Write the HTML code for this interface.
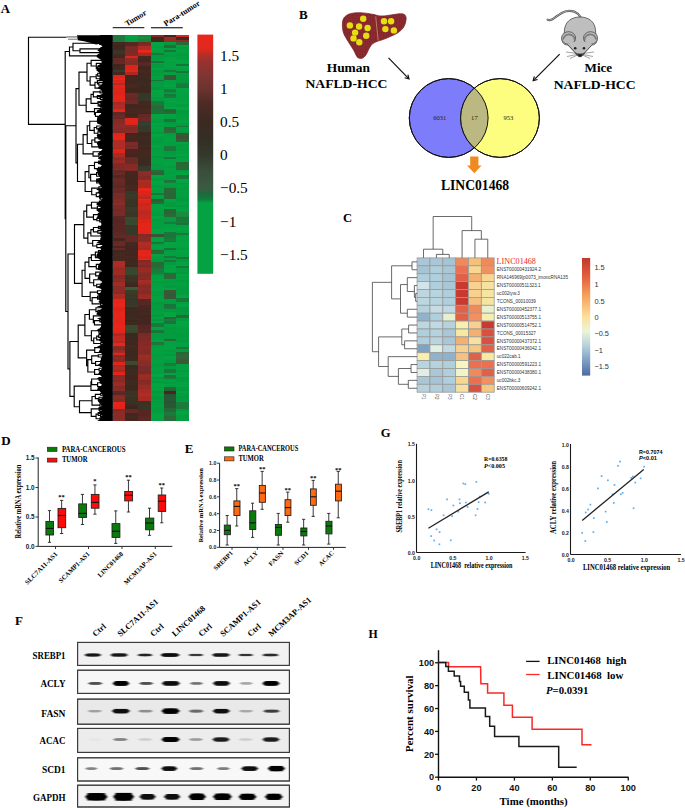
<!DOCTYPE html>
<html><head><meta charset="utf-8"><style>
html,body{margin:0;padding:0;background:#fff;overflow:hidden;width:685px;height:808px;}
svg{display:block;}
</style></head><body>
<svg width="685" height="808" viewBox="0 0 685 808">
<defs>
<filter id="blur1" x="-50%" y="-50%" width="200%" height="200%"><feGaussianBlur stdDeviation="1.3 0.5"/></filter>
<filter id="blur2" x="-50%" y="-50%" width="200%" height="200%"><feGaussianBlur stdDeviation="0.6"/></filter>
<filter id="blur3" x="-50%" y="-50%" width="200%" height="200%"><feGaussianBlur stdDeviation="2.2"/></filter>
<linearGradient id="cbA" x1="0" y1="0" x2="0" y2="1">
<stop offset="0.0000" stop-color="#ea261b"/>
<stop offset="0.0602" stop-color="#e2281d"/>
<stop offset="0.0853" stop-color="#b42e27"/>
<stop offset="0.1145" stop-color="#963230"/>
<stop offset="0.1689" stop-color="#803532"/>
<stop offset="0.2274" stop-color="#6c332f"/>
<stop offset="0.2901" stop-color="#4c2b24"/>
<stop offset="0.3654" stop-color="#3b2a21"/>
<stop offset="0.4406" stop-color="#332f25"/>
<stop offset="0.5033" stop-color="#34392a"/>
<stop offset="0.5744" stop-color="#3a4f3c"/>
<stop offset="0.6413" stop-color="#3b5a41"/>
<stop offset="0.6664" stop-color="#1d6b3b"/>
<stop offset="0.6873" stop-color="#127a3b"/>
<stop offset="0.7040" stop-color="#04a242"/>
<stop offset="1.0000" stop-color="#04a242"/>
</linearGradient>
<linearGradient id="cbC" x1="0" y1="0" x2="0" y2="1">
<stop offset="0" stop-color="#c0392b"/>
<stop offset="0.17" stop-color="#e4643f"/>
<stop offset="0.33" stop-color="#f6a55e"/>
<stop offset="0.5" stop-color="#fbe09a"/>
<stop offset="0.62" stop-color="#eef3d8"/>
<stop offset="0.75" stop-color="#b5d0dc"/>
<stop offset="0.88" stop-color="#7b9cc0"/>
<stop offset="1" stop-color="#4c6aa6"/>
</linearGradient>
</defs>
<rect width="685" height="808" fill="#fff"/>
<text x="0.80" y="12.60" font-family="Liberation Serif" font-size="12.8" fill="#000" font-weight="bold" >A</text>
<g shape-rendering="crispEdges">
<rect x="112.70" y="35.00" width="13.00" height="2.80" fill="#1e7b3f" />
<rect x="112.70" y="37.50" width="13.00" height="3.30" fill="#1d793d" />
<rect x="112.70" y="40.50" width="13.00" height="1.60" fill="#1e7a3e" />
<rect x="112.70" y="41.80" width="13.00" height="1.80" fill="#43271f" />
<rect x="112.70" y="43.30" width="13.00" height="1.80" fill="#452820" />
<rect x="112.70" y="44.80" width="13.00" height="2.30" fill="#41261e" />
<rect x="112.70" y="46.80" width="13.00" height="3.20" fill="#43271f" />
<rect x="112.70" y="49.70" width="13.00" height="2.30" fill="#373728" />
<rect x="112.70" y="51.70" width="13.00" height="2.20" fill="#373728" />
<rect x="112.70" y="53.60" width="13.00" height="1.80" fill="#462820" />
<rect x="112.70" y="55.10" width="13.00" height="1.80" fill="#44271f" />
<rect x="112.70" y="56.60" width="13.00" height="1.30" fill="#41261e" />
<rect x="112.70" y="57.60" width="13.00" height="2.30" fill="#652824" />
<rect x="112.70" y="59.60" width="13.00" height="2.30" fill="#662824" />
<rect x="112.70" y="61.60" width="13.00" height="2.30" fill="#682925" />
<rect x="112.70" y="63.60" width="13.00" height="0.90" fill="#682925" />
<rect x="112.70" y="64.20" width="13.00" height="2.30" fill="#42261e" />
<rect x="112.70" y="66.20" width="13.00" height="2.30" fill="#43271f" />
<rect x="112.70" y="68.20" width="13.00" height="1.80" fill="#44271f" />
<rect x="112.70" y="69.70" width="13.00" height="0.60" fill="#43271f" />
<rect x="112.70" y="70.00" width="13.00" height="2.30" fill="#3a3a2a" />
<rect x="112.70" y="72.00" width="13.00" height="3.00" fill="#44271f" />
<rect x="112.70" y="74.70" width="13.00" height="3.30" fill="#e2251a" />
<rect x="112.70" y="77.70" width="13.00" height="2.30" fill="#e9261b" />
<rect x="112.70" y="79.70" width="13.00" height="2.30" fill="#dd2419" />
<rect x="112.70" y="81.70" width="13.00" height="1.60" fill="#e4251a" />
<rect x="112.70" y="83.00" width="13.00" height="2.30" fill="#b02c24" />
<rect x="112.70" y="85.00" width="13.00" height="2.80" fill="#e6251a" />
<rect x="112.70" y="87.50" width="13.00" height="1.80" fill="#de2419" />
<rect x="112.70" y="89.00" width="13.00" height="3.30" fill="#df2419" />
<rect x="112.70" y="92.00" width="13.00" height="2.80" fill="#de2419" />
<rect x="112.70" y="94.50" width="13.00" height="3.30" fill="#e3251a" />
<rect x="112.70" y="97.50" width="13.00" height="1.80" fill="#e8261b" />
<rect x="112.70" y="99.00" width="13.00" height="2.80" fill="#e1251a" />
<rect x="112.70" y="101.50" width="13.00" height="0.40" fill="#e6251a" />
<rect x="112.70" y="101.60" width="13.00" height="3.30" fill="#a82a22" />
<rect x="112.70" y="104.60" width="13.00" height="1.80" fill="#b22c24" />
<rect x="112.70" y="106.10" width="13.00" height="3.00" fill="#af2b23" />
<rect x="112.70" y="108.80" width="13.00" height="1.80" fill="#dd2419" />
<rect x="112.70" y="110.30" width="13.00" height="1.50" fill="#e6251a" />
<rect x="112.70" y="111.50" width="13.00" height="3.30" fill="#662824" />
<rect x="112.70" y="114.50" width="13.00" height="3.30" fill="#6b2a26" />
<rect x="112.70" y="117.50" width="13.00" height="2.10" fill="#642724" />
<rect x="112.70" y="119.30" width="13.00" height="3.30" fill="#862a26" />
<rect x="112.70" y="122.30" width="13.00" height="1.80" fill="#872b26" />
<rect x="112.70" y="123.80" width="13.00" height="2.30" fill="#8a2c27" />
<rect x="112.70" y="125.80" width="13.00" height="2.30" fill="#8a2c27" />
<rect x="112.70" y="127.80" width="13.00" height="3.30" fill="#862b26" />
<rect x="112.70" y="130.80" width="13.00" height="2.40" fill="#832a25" />
<rect x="112.70" y="132.90" width="13.00" height="3.30" fill="#e2251a" />
<rect x="112.70" y="135.90" width="13.00" height="2.80" fill="#ea261b" />
<rect x="112.70" y="138.40" width="13.00" height="1.40" fill="#ea261b" />
<rect x="112.70" y="139.50" width="13.00" height="2.80" fill="#af2b23" />
<rect x="112.70" y="142.00" width="13.00" height="2.80" fill="#af2b23" />
<rect x="112.70" y="144.50" width="13.00" height="3.30" fill="#b22c24" />
<rect x="112.70" y="147.50" width="13.00" height="1.50" fill="#a82a22" />
<rect x="112.70" y="148.70" width="13.00" height="2.30" fill="#e0241a" />
<rect x="112.70" y="150.70" width="13.00" height="2.20" fill="#dc2419" />
<rect x="112.70" y="152.60" width="13.00" height="2.30" fill="#aa2a22" />
<rect x="112.70" y="154.60" width="13.00" height="1.80" fill="#a82a22" />
<rect x="112.70" y="156.10" width="13.00" height="0.70" fill="#ae2b23" />
<rect x="112.70" y="156.50" width="13.00" height="2.80" fill="#8c2c27" />
<rect x="112.70" y="159.00" width="13.00" height="1.30" fill="#872b26" />
<rect x="112.70" y="160.00" width="13.00" height="3.30" fill="#9c2b25" />
<rect x="112.70" y="163.00" width="13.00" height="3.30" fill="#842a25" />
<rect x="112.70" y="166.00" width="13.00" height="3.30" fill="#832925" />
<rect x="112.70" y="169.00" width="13.00" height="1.00" fill="#8c2c27" />
<rect x="112.70" y="169.70" width="13.00" height="3.30" fill="#652824" />
<rect x="112.70" y="172.70" width="13.00" height="2.60" fill="#692925" />
<rect x="112.70" y="175.00" width="13.00" height="1.80" fill="#552622" />
<rect x="112.70" y="176.50" width="13.00" height="1.80" fill="#582723" />
<rect x="112.70" y="178.00" width="13.00" height="2.80" fill="#692925" />
<rect x="112.70" y="180.50" width="13.00" height="1.80" fill="#6b2a26" />
<rect x="112.70" y="182.00" width="13.00" height="3.30" fill="#652824" />
<rect x="112.70" y="185.00" width="13.00" height="2.80" fill="#5b2824" />
<rect x="112.70" y="187.50" width="13.00" height="0.80" fill="#582723" />
<rect x="112.70" y="188.00" width="13.00" height="1.80" fill="#6a2a26" />
<rect x="112.70" y="189.50" width="13.00" height="3.30" fill="#682925" />
<rect x="112.70" y="192.50" width="13.00" height="1.10" fill="#652824" />
<rect x="112.70" y="193.30" width="13.00" height="1.80" fill="#7a2c28" />
<rect x="112.70" y="194.80" width="13.00" height="2.80" fill="#772b27" />
<rect x="112.70" y="197.30" width="13.00" height="2.30" fill="#782b27" />
<rect x="112.70" y="199.30" width="13.00" height="1.00" fill="#7c2c28" />
<rect x="112.70" y="200.00" width="13.00" height="2.80" fill="#842a25" />
<rect x="112.70" y="202.50" width="13.00" height="1.80" fill="#8a2c27" />
<rect x="112.70" y="204.00" width="13.00" height="1.30" fill="#8c2c27" />
<rect x="112.70" y="205.00" width="13.00" height="1.80" fill="#792b27" />
<rect x="112.70" y="206.50" width="13.00" height="2.80" fill="#782b27" />
<rect x="112.70" y="209.00" width="13.00" height="2.30" fill="#762a26" />
<rect x="112.70" y="211.00" width="13.00" height="2.30" fill="#782b27" />
<rect x="112.70" y="213.00" width="13.00" height="2.80" fill="#792b27" />
<rect x="112.70" y="215.50" width="13.00" height="0.50" fill="#7a2c28" />
<rect x="112.70" y="215.70" width="13.00" height="3.30" fill="#5a2824" />
<rect x="112.70" y="218.70" width="13.00" height="2.30" fill="#562622" />
<rect x="112.70" y="220.70" width="13.00" height="3.30" fill="#572623" />
<rect x="112.70" y="223.70" width="13.00" height="1.80" fill="#5b2824" />
<rect x="112.70" y="225.20" width="13.00" height="2.80" fill="#582723" />
<rect x="112.70" y="227.70" width="13.00" height="2.30" fill="#592723" />
<rect x="112.70" y="229.70" width="13.00" height="2.80" fill="#582723" />
<rect x="112.70" y="232.20" width="13.00" height="2.60" fill="#5b2824" />
<rect x="112.70" y="234.50" width="13.00" height="2.80" fill="#652824" />
<rect x="112.70" y="237.00" width="13.00" height="1.30" fill="#662824" />
<rect x="112.70" y="238.00" width="13.00" height="2.30" fill="#48241f" />
<rect x="112.70" y="240.00" width="13.00" height="1.30" fill="#49251f" />
<rect x="112.70" y="241.00" width="13.00" height="1.80" fill="#682925" />
<rect x="112.70" y="242.50" width="13.00" height="2.80" fill="#6a2a26" />
<rect x="112.70" y="245.00" width="13.00" height="1.30" fill="#6a2a26" />
<rect x="112.70" y="246.00" width="13.00" height="1.80" fill="#4b2620" />
<rect x="112.70" y="247.50" width="13.00" height="0.80" fill="#48251f" />
<rect x="112.70" y="248.00" width="13.00" height="2.30" fill="#672925" />
<rect x="112.70" y="250.00" width="13.00" height="0.50" fill="#652824" />
<rect x="112.70" y="250.20" width="13.00" height="3.30" fill="#43271f" />
<rect x="112.70" y="253.20" width="13.00" height="1.80" fill="#452820" />
<rect x="112.70" y="254.70" width="13.00" height="2.30" fill="#462820" />
<rect x="112.70" y="256.70" width="13.00" height="1.80" fill="#42261e" />
<rect x="112.70" y="258.20" width="13.00" height="2.80" fill="#452820" />
<rect x="112.70" y="260.70" width="13.00" height="2.30" fill="#ae2b23" />
<rect x="112.70" y="262.70" width="13.00" height="3.30" fill="#af2b23" />
<rect x="112.70" y="265.70" width="13.00" height="2.60" fill="#a92a22" />
<rect x="112.70" y="268.00" width="13.00" height="2.30" fill="#982924" />
<rect x="112.70" y="270.00" width="13.00" height="1.80" fill="#9d2b25" />
<rect x="112.70" y="271.50" width="13.00" height="2.30" fill="#9c2b25" />
<rect x="112.70" y="273.50" width="13.00" height="2.00" fill="#a12c26" />
<rect x="112.70" y="275.20" width="13.00" height="2.30" fill="#832925" />
<rect x="112.70" y="277.20" width="13.00" height="2.30" fill="#852a25" />
<rect x="112.70" y="279.20" width="13.00" height="2.30" fill="#8a2c27" />
<rect x="112.70" y="281.20" width="13.00" height="1.10" fill="#852a25" />
<rect x="112.70" y="282.00" width="13.00" height="3.30" fill="#a12c26" />
<rect x="112.70" y="285.00" width="13.00" height="1.30" fill="#a22c26" />
<rect x="112.70" y="286.00" width="13.00" height="2.80" fill="#8b2c27" />
<rect x="112.70" y="288.50" width="13.00" height="3.30" fill="#8b2c27" />
<rect x="112.70" y="291.50" width="13.00" height="2.30" fill="#882b26" />
<rect x="112.70" y="293.50" width="13.00" height="0.40" fill="#8b2c27" />
<rect x="112.70" y="293.60" width="13.00" height="2.30" fill="#ae2b23" />
<rect x="112.70" y="295.60" width="13.00" height="2.30" fill="#a92a22" />
<rect x="112.70" y="297.60" width="13.00" height="1.50" fill="#ae2b23" />
<rect x="112.70" y="298.80" width="13.00" height="1.80" fill="#e5251a" />
<rect x="112.70" y="300.30" width="13.00" height="2.80" fill="#e7251a" />
<rect x="112.70" y="302.80" width="13.00" height="3.30" fill="#e9261b" />
<rect x="112.70" y="305.80" width="13.00" height="1.80" fill="#ea261b" />
<rect x="112.70" y="307.30" width="13.00" height="1.80" fill="#e0241a" />
<rect x="112.70" y="308.80" width="13.00" height="2.80" fill="#dd2419" />
<rect x="112.70" y="311.30" width="13.00" height="1.80" fill="#e4251a" />
<rect x="112.70" y="312.80" width="13.00" height="1.80" fill="#e8261b" />
<rect x="112.70" y="314.30" width="13.00" height="1.80" fill="#e3251a" />
<rect x="112.70" y="315.80" width="13.00" height="2.30" fill="#e7251a" />
<rect x="112.70" y="317.80" width="13.00" height="3.30" fill="#e4251a" />
<rect x="112.70" y="320.80" width="13.00" height="3.30" fill="#e4251a" />
<rect x="112.70" y="323.80" width="13.00" height="2.30" fill="#e7251a" />
<rect x="112.70" y="325.80" width="13.00" height="2.80" fill="#eb261b" />
<rect x="112.70" y="328.30" width="13.00" height="2.30" fill="#ea261b" />
<rect x="112.70" y="330.30" width="13.00" height="2.30" fill="#e3251a" />
<rect x="112.70" y="332.30" width="13.00" height="0.70" fill="#e3251a" />
<rect x="112.70" y="332.70" width="13.00" height="1.80" fill="#af2b23" />
<rect x="112.70" y="334.20" width="13.00" height="2.10" fill="#a82a22" />
<rect x="112.70" y="336.00" width="13.00" height="2.80" fill="#c02a22" />
<rect x="112.70" y="338.50" width="13.00" height="2.30" fill="#c32a22" />
<rect x="112.70" y="340.50" width="13.00" height="2.70" fill="#b82820" />
<rect x="112.70" y="342.90" width="13.00" height="2.30" fill="#ec261b" />
<rect x="112.70" y="344.90" width="13.00" height="1.70" fill="#e8261b" />
<rect x="112.70" y="346.30" width="13.00" height="1.80" fill="#862b26" />
<rect x="112.70" y="347.80" width="13.00" height="2.50" fill="#842a25" />
<rect x="112.70" y="350.00" width="13.00" height="2.30" fill="#992a24" />
<rect x="112.70" y="352.00" width="13.00" height="1.30" fill="#a32c26" />
<rect x="112.70" y="353.00" width="13.00" height="2.30" fill="#e1251a" />
<rect x="112.70" y="355.00" width="13.00" height="2.30" fill="#862a26" />
<rect x="112.70" y="357.00" width="13.00" height="1.80" fill="#8a2c27" />
<rect x="112.70" y="358.50" width="13.00" height="1.80" fill="#862a25" />
<rect x="112.70" y="360.00" width="13.00" height="2.30" fill="#872b26" />
<rect x="112.70" y="362.00" width="13.00" height="1.80" fill="#e2251a" />
<rect x="112.70" y="363.50" width="13.00" height="2.20" fill="#e4251a" />
<rect x="112.70" y="365.40" width="13.00" height="1.80" fill="#a82a22" />
<rect x="112.70" y="366.90" width="13.00" height="2.30" fill="#b32c24" />
<rect x="112.70" y="368.90" width="13.00" height="1.80" fill="#a82a22" />
<rect x="112.70" y="370.40" width="13.00" height="2.10" fill="#a72922" />
<rect x="112.70" y="372.20" width="13.00" height="2.30" fill="#e0241a" />
<rect x="112.70" y="374.20" width="13.00" height="1.00" fill="#e9261b" />
<rect x="112.70" y="374.90" width="13.00" height="2.80" fill="#872b26" />
<rect x="112.70" y="377.40" width="13.00" height="3.30" fill="#892b26" />
<rect x="112.70" y="380.40" width="13.00" height="1.80" fill="#852a25" />
<rect x="112.70" y="381.90" width="13.00" height="0.40" fill="#872b26" />
<rect x="112.70" y="382.00" width="13.00" height="1.80" fill="#9b2a24" />
<rect x="112.70" y="383.50" width="13.00" height="1.80" fill="#9f2b25" />
<rect x="112.70" y="385.00" width="13.00" height="1.30" fill="#982a24" />
<rect x="112.70" y="386.00" width="13.00" height="2.30" fill="#832a25" />
<rect x="112.70" y="388.00" width="13.00" height="1.80" fill="#872b26" />
<rect x="112.70" y="389.50" width="13.00" height="2.10" fill="#8c2c27" />
<rect x="112.70" y="391.30" width="13.00" height="3.30" fill="#5b2824" />
<rect x="112.70" y="394.30" width="13.00" height="1.30" fill="#592723" />
<rect x="112.70" y="395.30" width="13.00" height="1.80" fill="#882b26" />
<rect x="112.70" y="396.80" width="13.00" height="2.30" fill="#8c2c27" />
<rect x="112.70" y="398.80" width="13.00" height="2.30" fill="#852a25" />
<rect x="112.70" y="400.80" width="13.00" height="1.60" fill="#852a25" />
<rect x="112.70" y="402.10" width="13.00" height="2.80" fill="#e6251a" />
<rect x="112.70" y="404.60" width="13.00" height="2.30" fill="#e1241a" />
<rect x="112.70" y="406.60" width="13.00" height="2.30" fill="#e0241a" />
<rect x="112.70" y="408.60" width="13.00" height="0.70" fill="#ec261b" />
<rect x="112.70" y="409.00" width="13.00" height="1.80" fill="#832925" />
<rect x="112.70" y="410.50" width="13.00" height="2.30" fill="#882b26" />
<rect x="112.70" y="412.50" width="13.00" height="2.30" fill="#8c2c27" />
<rect x="112.70" y="414.50" width="13.00" height="1.80" fill="#892b26" />
<rect x="112.70" y="416.00" width="13.00" height="3.30" fill="#892b26" />
<rect x="112.70" y="419.00" width="13.00" height="2.30" fill="#8c2c27" />
<rect x="125.40" y="35.00" width="13.00" height="2.80" fill="#03a141" />
<rect x="125.40" y="37.50" width="13.00" height="2.30" fill="#039d40" />
<rect x="125.40" y="39.50" width="13.00" height="2.30" fill="#039e40" />
<rect x="125.40" y="41.50" width="13.00" height="0.60" fill="#04a543" />
<rect x="125.40" y="41.80" width="13.00" height="2.30" fill="#552622" />
<rect x="125.40" y="43.80" width="13.00" height="2.30" fill="#582723" />
<rect x="125.40" y="45.80" width="13.00" height="1.80" fill="#742a26" />
<rect x="125.40" y="47.30" width="13.00" height="3.30" fill="#7b2c28" />
<rect x="125.40" y="50.30" width="13.00" height="2.30" fill="#792b27" />
<rect x="125.40" y="52.30" width="13.00" height="2.80" fill="#832925" />
<rect x="125.40" y="54.80" width="13.00" height="1.10" fill="#842a25" />
<rect x="125.40" y="55.60" width="13.00" height="2.90" fill="#dc2419" />
<rect x="125.40" y="58.20" width="13.00" height="2.80" fill="#8c2c27" />
<rect x="125.40" y="60.70" width="13.00" height="2.80" fill="#852a25" />
<rect x="125.40" y="63.20" width="13.00" height="1.90" fill="#852a25" />
<rect x="125.40" y="64.80" width="13.00" height="2.30" fill="#dc2419" />
<rect x="125.40" y="66.80" width="13.00" height="3.30" fill="#dd2419" />
<rect x="125.40" y="69.80" width="13.00" height="2.50" fill="#e4251a" />
<rect x="125.40" y="72.00" width="13.00" height="2.30" fill="#aa2a22" />
<rect x="125.40" y="74.00" width="13.00" height="1.60" fill="#a82a22" />
<rect x="125.40" y="75.30" width="13.00" height="1.80" fill="#42261e" />
<rect x="125.40" y="76.80" width="13.00" height="1.80" fill="#43271f" />
<rect x="125.40" y="78.30" width="13.00" height="2.80" fill="#43261f" />
<rect x="125.40" y="80.80" width="13.00" height="2.30" fill="#41261e" />
<rect x="125.40" y="82.80" width="13.00" height="2.30" fill="#44271f" />
<rect x="125.40" y="84.80" width="13.00" height="3.30" fill="#452820" />
<rect x="125.40" y="87.80" width="13.00" height="3.30" fill="#42261e" />
<rect x="125.40" y="90.80" width="13.00" height="2.30" fill="#41261e" />
<rect x="125.40" y="92.80" width="13.00" height="0.50" fill="#452820" />
<rect x="125.40" y="93.00" width="13.00" height="2.30" fill="#6b2a26" />
<rect x="125.40" y="95.00" width="13.00" height="1.80" fill="#6a2a26" />
<rect x="125.40" y="96.50" width="13.00" height="2.30" fill="#652824" />
<rect x="125.40" y="98.50" width="13.00" height="1.80" fill="#652824" />
<rect x="125.40" y="100.00" width="13.00" height="2.80" fill="#6b2a26" />
<rect x="125.40" y="102.50" width="13.00" height="1.40" fill="#6a2a26" />
<rect x="125.40" y="103.60" width="13.00" height="1.80" fill="#44271f" />
<rect x="125.40" y="105.10" width="13.00" height="2.30" fill="#43271f" />
<rect x="125.40" y="107.10" width="13.00" height="1.80" fill="#43271f" />
<rect x="125.40" y="108.60" width="13.00" height="1.80" fill="#452820" />
<rect x="125.40" y="110.10" width="13.00" height="1.80" fill="#44271f" />
<rect x="125.40" y="111.60" width="13.00" height="1.80" fill="#452820" />
<rect x="125.40" y="113.10" width="13.00" height="3.30" fill="#42261e" />
<rect x="125.40" y="116.10" width="13.00" height="1.80" fill="#452820" />
<rect x="125.40" y="117.60" width="13.00" height="0.70" fill="#452820" />
<rect x="125.40" y="118.00" width="13.00" height="2.30" fill="#e0241a" />
<rect x="125.40" y="120.00" width="13.00" height="3.30" fill="#e4251a" />
<rect x="125.40" y="123.00" width="13.00" height="1.90" fill="#dd2419" />
<rect x="125.40" y="124.60" width="13.00" height="2.80" fill="#8a2c27" />
<rect x="125.40" y="127.10" width="13.00" height="2.30" fill="#832a25" />
<rect x="125.40" y="129.10" width="13.00" height="2.30" fill="#862a25" />
<rect x="125.40" y="131.10" width="13.00" height="2.10" fill="#892b26" />
<rect x="125.40" y="132.90" width="13.00" height="2.30" fill="#46241e" />
<rect x="125.40" y="134.90" width="13.00" height="1.80" fill="#48251f" />
<rect x="125.40" y="136.40" width="13.00" height="1.80" fill="#49251f" />
<rect x="125.40" y="137.90" width="13.00" height="3.30" fill="#47241f" />
<rect x="125.40" y="140.90" width="13.00" height="1.40" fill="#48251f" />
<rect x="125.40" y="142.00" width="13.00" height="3.30" fill="#7a2c28" />
<rect x="125.40" y="145.00" width="13.00" height="2.30" fill="#762a26" />
<rect x="125.40" y="147.00" width="13.00" height="1.80" fill="#7b2c28" />
<rect x="125.40" y="148.50" width="13.00" height="0.50" fill="#762a26" />
<rect x="125.40" y="148.70" width="13.00" height="1.80" fill="#4a2620" />
<rect x="125.40" y="150.20" width="13.00" height="3.30" fill="#4b2620" />
<rect x="125.40" y="153.20" width="13.00" height="3.30" fill="#47241e" />
<rect x="125.40" y="156.20" width="13.00" height="0.60" fill="#46241e" />
<rect x="125.40" y="156.50" width="13.00" height="1.80" fill="#652824" />
<rect x="125.40" y="158.00" width="13.00" height="2.80" fill="#6b2a26" />
<rect x="125.40" y="160.50" width="13.00" height="2.30" fill="#692925" />
<rect x="125.40" y="162.50" width="13.00" height="2.20" fill="#6b2a26" />
<rect x="125.40" y="164.40" width="13.00" height="2.80" fill="#852a25" />
<rect x="125.40" y="166.90" width="13.00" height="3.30" fill="#862b26" />
<rect x="125.40" y="169.90" width="13.00" height="1.40" fill="#832925" />
<rect x="125.40" y="171.00" width="13.00" height="3.30" fill="#44271f" />
<rect x="125.40" y="174.00" width="13.00" height="3.30" fill="#43261f" />
<rect x="125.40" y="177.00" width="13.00" height="2.30" fill="#43271f" />
<rect x="125.40" y="179.00" width="13.00" height="3.30" fill="#43261f" />
<rect x="125.40" y="182.00" width="13.00" height="2.80" fill="#41261e" />
<rect x="125.40" y="184.50" width="13.00" height="2.80" fill="#452820" />
<rect x="125.40" y="187.00" width="13.00" height="1.80" fill="#462820" />
<rect x="125.40" y="188.50" width="13.00" height="2.30" fill="#44271f" />
<rect x="125.40" y="190.50" width="13.00" height="0.50" fill="#42261e" />
<rect x="125.40" y="190.70" width="13.00" height="1.80" fill="#383829" />
<rect x="125.40" y="192.20" width="13.00" height="1.80" fill="#383828" />
<rect x="125.40" y="193.70" width="13.00" height="3.30" fill="#3a3a2a" />
<rect x="125.40" y="196.70" width="13.00" height="1.80" fill="#383828" />
<rect x="125.40" y="198.20" width="13.00" height="0.70" fill="#3a3a2a" />
<rect x="125.40" y="198.60" width="13.00" height="2.80" fill="#393424" />
<rect x="125.40" y="201.10" width="13.00" height="2.30" fill="#383323" />
<rect x="125.40" y="203.10" width="13.00" height="2.80" fill="#383324" />
<rect x="125.40" y="205.60" width="13.00" height="1.70" fill="#373323" />
<rect x="125.40" y="207.00" width="13.00" height="2.80" fill="#3a3a2a" />
<rect x="125.40" y="209.50" width="13.00" height="2.80" fill="#3a3a2a" />
<rect x="125.40" y="212.00" width="13.00" height="3.30" fill="#3a3525" />
<rect x="125.40" y="215.00" width="13.00" height="2.30" fill="#3a3525" />
<rect x="125.40" y="217.00" width="13.00" height="1.80" fill="#3a4b30" />
<rect x="125.40" y="218.50" width="13.00" height="3.30" fill="#38482f" />
<rect x="125.40" y="221.50" width="13.00" height="2.30" fill="#39492f" />
<rect x="125.40" y="223.50" width="13.00" height="1.80" fill="#39482f" />
<rect x="125.40" y="225.00" width="13.00" height="2.30" fill="#373728" />
<rect x="125.40" y="227.00" width="13.00" height="3.30" fill="#383828" />
<rect x="125.40" y="230.00" width="13.00" height="2.80" fill="#383828" />
<rect x="125.40" y="232.50" width="13.00" height="2.30" fill="#383829" />
<rect x="125.40" y="234.50" width="13.00" height="2.30" fill="#662824" />
<rect x="125.40" y="236.50" width="13.00" height="3.30" fill="#652824" />
<rect x="125.40" y="239.50" width="13.00" height="2.30" fill="#652824" />
<rect x="125.40" y="241.50" width="13.00" height="1.10" fill="#682925" />
<rect x="125.40" y="242.30" width="13.00" height="3.30" fill="#452820" />
<rect x="125.40" y="245.30" width="13.00" height="3.30" fill="#43271f" />
<rect x="125.40" y="248.30" width="13.00" height="2.30" fill="#42261e" />
<rect x="125.40" y="250.30" width="13.00" height="2.30" fill="#43261f" />
<rect x="125.40" y="252.30" width="13.00" height="1.80" fill="#43261f" />
<rect x="125.40" y="253.80" width="13.00" height="2.80" fill="#42261e" />
<rect x="125.40" y="256.30" width="13.00" height="2.30" fill="#452820" />
<rect x="125.40" y="258.30" width="13.00" height="2.70" fill="#43271f" />
<rect x="125.40" y="260.70" width="13.00" height="2.30" fill="#3c291f" />
<rect x="125.40" y="262.70" width="13.00" height="2.80" fill="#3e2a20" />
<rect x="125.40" y="265.20" width="13.00" height="2.40" fill="#3c281f" />
<rect x="125.40" y="267.30" width="13.00" height="2.80" fill="#37462e" />
<rect x="125.40" y="269.80" width="13.00" height="2.30" fill="#37462d" />
<rect x="125.40" y="271.80" width="13.00" height="2.30" fill="#38482e" />
<rect x="125.40" y="273.80" width="13.00" height="1.70" fill="#38482f" />
<rect x="125.40" y="275.20" width="13.00" height="2.80" fill="#3a3525" />
<rect x="125.40" y="277.70" width="13.00" height="1.80" fill="#373223" />
<rect x="125.40" y="279.20" width="13.00" height="3.10" fill="#393424" />
<rect x="125.40" y="282.00" width="13.00" height="3.30" fill="#3f2a20" />
<rect x="125.40" y="285.00" width="13.00" height="2.30" fill="#3a271e" />
<rect x="125.40" y="287.00" width="13.00" height="2.90" fill="#3a5b38" />
<rect x="125.40" y="289.60" width="13.00" height="3.30" fill="#3b3b2a" />
<rect x="125.40" y="292.60" width="13.00" height="2.30" fill="#3a3a2a" />
<rect x="125.40" y="294.60" width="13.00" height="2.30" fill="#373728" />
<rect x="125.40" y="296.60" width="13.00" height="1.80" fill="#3a3a2a" />
<rect x="125.40" y="298.10" width="13.00" height="3.30" fill="#373728" />
<rect x="125.40" y="301.10" width="13.00" height="1.80" fill="#373727" />
<rect x="125.40" y="302.60" width="13.00" height="2.30" fill="#383828" />
<rect x="125.40" y="304.60" width="13.00" height="1.80" fill="#393929" />
<rect x="125.40" y="306.10" width="13.00" height="0.90" fill="#3b3b2a" />
<rect x="125.40" y="306.70" width="13.00" height="2.80" fill="#3d291f" />
<rect x="125.40" y="309.20" width="13.00" height="3.30" fill="#3d291f" />
<rect x="125.40" y="312.20" width="13.00" height="1.80" fill="#3b281e" />
<rect x="125.40" y="313.70" width="13.00" height="2.80" fill="#3d291f" />
<rect x="125.40" y="316.20" width="13.00" height="2.30" fill="#3c291f" />
<rect x="125.40" y="318.20" width="13.00" height="2.30" fill="#3e2a20" />
<rect x="125.40" y="320.20" width="13.00" height="1.80" fill="#3a271e" />
<rect x="125.40" y="321.70" width="13.00" height="2.80" fill="#3f2a20" />
<rect x="125.40" y="324.20" width="13.00" height="0.60" fill="#3f2a20" />
<rect x="125.40" y="324.50" width="13.00" height="2.30" fill="#39482f" />
<rect x="125.40" y="326.50" width="13.00" height="2.30" fill="#39492f" />
<rect x="125.40" y="328.50" width="13.00" height="1.80" fill="#3b4b30" />
<rect x="125.40" y="330.00" width="13.00" height="2.80" fill="#37462d" />
<rect x="125.40" y="332.50" width="13.00" height="0.50" fill="#39482f" />
<rect x="125.40" y="332.70" width="13.00" height="3.30" fill="#3b281e" />
<rect x="125.40" y="335.70" width="13.00" height="2.30" fill="#3d291f" />
<rect x="125.40" y="337.70" width="13.00" height="2.80" fill="#3b281e" />
<rect x="125.40" y="340.20" width="13.00" height="1.80" fill="#3d291f" />
<rect x="125.40" y="341.70" width="13.00" height="3.30" fill="#3c281f" />
<rect x="125.40" y="344.70" width="13.00" height="0.60" fill="#3b281e" />
<rect x="125.40" y="345.00" width="13.00" height="2.80" fill="#452820" />
<rect x="125.40" y="347.50" width="13.00" height="1.80" fill="#42261e" />
<rect x="125.40" y="349.00" width="13.00" height="1.30" fill="#43261f" />
<rect x="125.40" y="350.00" width="13.00" height="2.30" fill="#3b281e" />
<rect x="125.40" y="352.00" width="13.00" height="2.30" fill="#3c281e" />
<rect x="125.40" y="354.00" width="13.00" height="2.80" fill="#3b281e" />
<rect x="125.40" y="356.50" width="13.00" height="3.30" fill="#3d291f" />
<rect x="125.40" y="359.50" width="13.00" height="2.10" fill="#3d291f" />
<rect x="125.40" y="361.30" width="13.00" height="1.80" fill="#3a4b30" />
<rect x="125.40" y="362.80" width="13.00" height="2.30" fill="#3a4b30" />
<rect x="125.40" y="364.80" width="13.00" height="0.90" fill="#37472e" />
<rect x="125.40" y="365.40" width="13.00" height="2.30" fill="#3c291f" />
<rect x="125.40" y="367.40" width="13.00" height="1.80" fill="#3b281e" />
<rect x="125.40" y="368.90" width="13.00" height="3.30" fill="#3e2a20" />
<rect x="125.40" y="371.90" width="13.00" height="2.80" fill="#3e2a20" />
<rect x="125.40" y="374.40" width="13.00" height="0.90" fill="#3e2a20" />
<rect x="125.40" y="375.00" width="13.00" height="2.80" fill="#42261e" />
<rect x="125.40" y="377.50" width="13.00" height="2.80" fill="#41261e" />
<rect x="125.40" y="380.00" width="13.00" height="3.30" fill="#3e2a20" />
<rect x="125.40" y="383.00" width="13.00" height="2.80" fill="#3c291f" />
<rect x="125.40" y="385.50" width="13.00" height="1.80" fill="#3a271e" />
<rect x="125.40" y="387.00" width="13.00" height="2.80" fill="#3b281e" />
<rect x="125.40" y="389.50" width="13.00" height="2.10" fill="#3f2a20" />
<rect x="125.40" y="391.30" width="13.00" height="1.80" fill="#393424" />
<rect x="125.40" y="392.80" width="13.00" height="2.30" fill="#383324" />
<rect x="125.40" y="394.80" width="13.00" height="2.80" fill="#3a3525" />
<rect x="125.40" y="397.30" width="13.00" height="3.30" fill="#373223" />
<rect x="125.40" y="400.30" width="13.00" height="3.30" fill="#373323" />
<rect x="125.40" y="403.30" width="13.00" height="0.50" fill="#373323" />
<rect x="125.40" y="403.50" width="13.00" height="2.80" fill="#3e2a20" />
<rect x="125.40" y="406.00" width="13.00" height="3.30" fill="#3b271e" />
<rect x="125.40" y="409.00" width="13.00" height="3.30" fill="#662824" />
<rect x="125.40" y="412.00" width="13.00" height="1.30" fill="#652824" />
<rect x="125.40" y="413.00" width="13.00" height="1.80" fill="#43271f" />
<rect x="125.40" y="414.50" width="13.00" height="1.80" fill="#42261e" />
<rect x="125.40" y="416.00" width="13.00" height="1.80" fill="#452820" />
<rect x="125.40" y="417.50" width="13.00" height="2.80" fill="#43271f" />
<rect x="125.40" y="420.00" width="13.00" height="1.30" fill="#462820" />
<rect x="138.10" y="35.00" width="13.10" height="1.80" fill="#19853d" />
<rect x="138.10" y="36.50" width="13.10" height="2.80" fill="#1a8c40" />
<rect x="138.10" y="39.00" width="13.10" height="2.80" fill="#18833c" />
<rect x="138.10" y="41.50" width="13.10" height="0.60" fill="#18833c" />
<rect x="138.10" y="41.80" width="13.10" height="2.30" fill="#742a26" />
<rect x="138.10" y="43.80" width="13.10" height="2.30" fill="#7c2c28" />
<rect x="138.10" y="45.80" width="13.10" height="3.30" fill="#b02c24" />
<rect x="138.10" y="48.80" width="13.10" height="1.20" fill="#b12c24" />
<rect x="138.10" y="49.70" width="13.10" height="2.30" fill="#eb261b" />
<rect x="138.10" y="51.70" width="13.10" height="1.60" fill="#dc2419" />
<rect x="138.10" y="53.00" width="13.10" height="2.80" fill="#a12c26" />
<rect x="138.10" y="55.50" width="13.10" height="1.10" fill="#9e2b25" />
<rect x="138.10" y="56.30" width="13.10" height="2.80" fill="#452820" />
<rect x="138.10" y="58.80" width="13.10" height="3.30" fill="#43271f" />
<rect x="138.10" y="61.80" width="13.10" height="0.50" fill="#44271f" />
<rect x="138.10" y="62.00" width="13.10" height="3.30" fill="#5a2824" />
<rect x="138.10" y="65.00" width="13.10" height="1.30" fill="#582723" />
<rect x="138.10" y="66.00" width="13.10" height="1.80" fill="#43271f" />
<rect x="138.10" y="67.50" width="13.10" height="2.80" fill="#42261e" />
<rect x="138.10" y="70.00" width="13.10" height="3.30" fill="#452820" />
<rect x="138.10" y="73.00" width="13.10" height="1.80" fill="#42261e" />
<rect x="138.10" y="74.50" width="13.10" height="0.50" fill="#42261e" />
<rect x="138.10" y="74.70" width="13.10" height="3.30" fill="#3d291f" />
<rect x="138.10" y="77.70" width="13.10" height="3.30" fill="#3b281e" />
<rect x="138.10" y="80.70" width="13.10" height="2.30" fill="#3c291f" />
<rect x="138.10" y="82.70" width="13.10" height="2.30" fill="#3e2a20" />
<rect x="138.10" y="84.70" width="13.10" height="1.80" fill="#3e2a20" />
<rect x="138.10" y="86.20" width="13.10" height="2.80" fill="#3c281f" />
<rect x="138.10" y="88.70" width="13.10" height="2.80" fill="#3c281f" />
<rect x="138.10" y="91.20" width="13.10" height="2.10" fill="#3b281e" />
<rect x="138.10" y="93.00" width="13.10" height="2.30" fill="#373728" />
<rect x="138.10" y="95.00" width="13.10" height="2.30" fill="#373728" />
<rect x="138.10" y="97.00" width="13.10" height="2.30" fill="#383828" />
<rect x="138.10" y="99.00" width="13.10" height="2.30" fill="#383828" />
<rect x="138.10" y="101.00" width="13.10" height="2.30" fill="#44271f" />
<rect x="138.10" y="103.00" width="13.10" height="2.30" fill="#44271f" />
<rect x="138.10" y="105.00" width="13.10" height="1.80" fill="#44271f" />
<rect x="138.10" y="106.50" width="13.10" height="1.80" fill="#42261e" />
<rect x="138.10" y="108.00" width="13.10" height="3.30" fill="#452820" />
<rect x="138.10" y="111.00" width="13.10" height="2.30" fill="#452820" />
<rect x="138.10" y="113.00" width="13.10" height="1.30" fill="#41261e" />
<rect x="138.10" y="114.00" width="13.10" height="2.80" fill="#662824" />
<rect x="138.10" y="116.50" width="13.10" height="1.80" fill="#662824" />
<rect x="138.10" y="118.00" width="13.10" height="2.30" fill="#6b2a26" />
<rect x="138.10" y="120.00" width="13.10" height="1.00" fill="#682925" />
<rect x="138.10" y="120.70" width="13.10" height="2.30" fill="#343e2f" />
<rect x="138.10" y="122.70" width="13.10" height="2.80" fill="#354030" />
<rect x="138.10" y="125.20" width="13.10" height="1.70" fill="#323d2d" />
<rect x="138.10" y="126.60" width="13.10" height="2.80" fill="#373728" />
<rect x="138.10" y="129.10" width="13.10" height="2.80" fill="#383828" />
<rect x="138.10" y="131.60" width="13.10" height="1.80" fill="#3b281e" />
<rect x="138.10" y="133.10" width="13.10" height="2.80" fill="#3b281e" />
<rect x="138.10" y="135.60" width="13.10" height="2.30" fill="#3e2a20" />
<rect x="138.10" y="137.60" width="13.10" height="2.80" fill="#3c291f" />
<rect x="138.10" y="140.10" width="13.10" height="2.80" fill="#3b281e" />
<rect x="138.10" y="142.60" width="13.10" height="2.70" fill="#3b281e" />
<rect x="138.10" y="145.00" width="13.10" height="1.80" fill="#452820" />
<rect x="138.10" y="146.50" width="13.10" height="3.30" fill="#41261e" />
<rect x="138.10" y="149.50" width="13.10" height="1.80" fill="#452820" />
<rect x="138.10" y="151.00" width="13.10" height="2.30" fill="#44271f" />
<rect x="138.10" y="153.00" width="13.10" height="1.80" fill="#44271f" />
<rect x="138.10" y="154.50" width="13.10" height="0.80" fill="#44271f" />
<rect x="138.10" y="155.00" width="13.10" height="3.30" fill="#3f2a20" />
<rect x="138.10" y="158.00" width="13.10" height="2.80" fill="#3c291f" />
<rect x="138.10" y="160.50" width="13.10" height="1.80" fill="#3c281f" />
<rect x="138.10" y="162.00" width="13.10" height="2.80" fill="#3c291f" />
<rect x="138.10" y="164.50" width="13.10" height="1.80" fill="#3e2a20" />
<rect x="138.10" y="166.00" width="13.10" height="2.80" fill="#393929" />
<rect x="138.10" y="168.50" width="13.10" height="2.80" fill="#3a3a2a" />
<rect x="138.10" y="171.00" width="13.10" height="2.30" fill="#8c2c27" />
<rect x="138.10" y="173.00" width="13.10" height="3.30" fill="#8b2c27" />
<rect x="138.10" y="176.00" width="13.10" height="3.30" fill="#842a25" />
<rect x="138.10" y="179.00" width="13.10" height="1.50" fill="#872b26" />
<rect x="138.10" y="180.20" width="13.10" height="2.80" fill="#ac2b23" />
<rect x="138.10" y="182.70" width="13.10" height="2.30" fill="#a82a22" />
<rect x="138.10" y="184.70" width="13.10" height="1.80" fill="#ad2b23" />
<rect x="138.10" y="186.20" width="13.10" height="2.10" fill="#a82a22" />
<rect x="138.10" y="188.00" width="13.10" height="2.80" fill="#e8261b" />
<rect x="138.10" y="190.50" width="13.10" height="2.30" fill="#de2419" />
<rect x="138.10" y="192.50" width="13.10" height="2.40" fill="#df2419" />
<rect x="138.10" y="194.60" width="13.10" height="2.30" fill="#c22a22" />
<rect x="138.10" y="196.60" width="13.10" height="1.80" fill="#bb2921" />
<rect x="138.10" y="198.10" width="13.10" height="0.80" fill="#ba2821" />
<rect x="138.10" y="198.60" width="13.10" height="1.80" fill="#ec261b" />
<rect x="138.10" y="200.10" width="13.10" height="2.70" fill="#e1241a" />
<rect x="138.10" y="202.50" width="13.10" height="3.30" fill="#c6281e" />
<rect x="138.10" y="205.50" width="13.10" height="2.30" fill="#ce291f" />
<rect x="138.10" y="207.50" width="13.10" height="2.30" fill="#ce291f" />
<rect x="138.10" y="209.50" width="13.10" height="0.80" fill="#d12a20" />
<rect x="138.10" y="210.00" width="13.10" height="2.30" fill="#bd2921" />
<rect x="138.10" y="212.00" width="13.10" height="1.80" fill="#bb2921" />
<rect x="138.10" y="213.50" width="13.10" height="1.80" fill="#bb2921" />
<rect x="138.10" y="215.00" width="13.10" height="1.80" fill="#c7281e" />
<rect x="138.10" y="216.50" width="13.10" height="2.30" fill="#c6281e" />
<rect x="138.10" y="218.50" width="13.10" height="1.80" fill="#cf291f" />
<rect x="138.10" y="220.00" width="13.10" height="2.80" fill="#de2419" />
<rect x="138.10" y="222.50" width="13.10" height="3.30" fill="#e5251a" />
<rect x="138.10" y="225.50" width="13.10" height="2.80" fill="#e6251a" />
<rect x="138.10" y="228.00" width="13.10" height="2.80" fill="#e5251a" />
<rect x="138.10" y="230.50" width="13.10" height="3.30" fill="#e2251a" />
<rect x="138.10" y="233.50" width="13.10" height="0.60" fill="#e3251a" />
<rect x="138.10" y="233.80" width="13.10" height="3.30" fill="#842a25" />
<rect x="138.10" y="236.80" width="13.10" height="1.80" fill="#892b26" />
<rect x="138.10" y="238.30" width="13.10" height="3.30" fill="#872b26" />
<rect x="138.10" y="241.30" width="13.10" height="1.30" fill="#8a2c27" />
<rect x="138.10" y="242.30" width="13.10" height="3.30" fill="#b12c24" />
<rect x="138.10" y="245.30" width="13.10" height="3.30" fill="#ac2b23" />
<rect x="138.10" y="248.30" width="13.10" height="1.60" fill="#a82a22" />
<rect x="138.10" y="249.60" width="13.10" height="3.30" fill="#e2251a" />
<rect x="138.10" y="252.60" width="13.10" height="3.30" fill="#e4251a" />
<rect x="138.10" y="255.60" width="13.10" height="1.80" fill="#dd2419" />
<rect x="138.10" y="257.10" width="13.10" height="2.30" fill="#dd2419" />
<rect x="138.10" y="259.10" width="13.10" height="1.20" fill="#e9261b" />
<rect x="138.10" y="260.00" width="13.10" height="1.80" fill="#832925" />
<rect x="138.10" y="261.50" width="13.10" height="3.30" fill="#892b26" />
<rect x="138.10" y="264.50" width="13.10" height="2.30" fill="#832925" />
<rect x="138.10" y="266.50" width="13.10" height="1.80" fill="#8c2c27" />
<rect x="138.10" y="268.00" width="13.10" height="1.80" fill="#9a2a24" />
<rect x="138.10" y="269.50" width="13.10" height="2.80" fill="#9b2a24" />
<rect x="138.10" y="272.00" width="13.10" height="2.30" fill="#892b26" />
<rect x="138.10" y="274.00" width="13.10" height="2.30" fill="#832a25" />
<rect x="138.10" y="276.00" width="13.10" height="2.80" fill="#882b26" />
<rect x="138.10" y="278.50" width="13.10" height="1.80" fill="#842a25" />
<rect x="138.10" y="280.00" width="13.10" height="2.80" fill="#a22c26" />
<rect x="138.10" y="282.50" width="13.10" height="2.80" fill="#992a24" />
<rect x="138.10" y="285.00" width="13.10" height="3.30" fill="#852a25" />
<rect x="138.10" y="288.00" width="13.10" height="2.80" fill="#892b26" />
<rect x="138.10" y="290.50" width="13.10" height="2.30" fill="#862a25" />
<rect x="138.10" y="292.50" width="13.10" height="1.40" fill="#852a25" />
<rect x="138.10" y="293.60" width="13.10" height="3.30" fill="#992a24" />
<rect x="138.10" y="296.60" width="13.10" height="2.50" fill="#9f2b25" />
<rect x="138.10" y="298.80" width="13.10" height="3.30" fill="#562622" />
<rect x="138.10" y="301.80" width="13.10" height="2.80" fill="#562622" />
<rect x="138.10" y="304.30" width="13.10" height="1.40" fill="#592723" />
<rect x="138.10" y="305.40" width="13.10" height="2.80" fill="#462820" />
<rect x="138.10" y="307.90" width="13.10" height="3.30" fill="#44271f" />
<rect x="138.10" y="310.90" width="13.10" height="1.80" fill="#42261e" />
<rect x="138.10" y="312.40" width="13.10" height="3.30" fill="#452820" />
<rect x="138.10" y="315.40" width="13.10" height="2.80" fill="#42261e" />
<rect x="138.10" y="317.90" width="13.10" height="2.80" fill="#44271f" />
<rect x="138.10" y="320.40" width="13.10" height="2.80" fill="#43261f" />
<rect x="138.10" y="322.90" width="13.10" height="1.80" fill="#43271f" />
<rect x="138.10" y="324.40" width="13.10" height="0.40" fill="#44271f" />
<rect x="138.10" y="324.50" width="13.10" height="1.80" fill="#572622" />
<rect x="138.10" y="326.00" width="13.10" height="2.80" fill="#572622" />
<rect x="138.10" y="328.50" width="13.10" height="2.80" fill="#5a2824" />
<rect x="138.10" y="331.00" width="13.10" height="1.80" fill="#562622" />
<rect x="138.10" y="332.50" width="13.10" height="0.50" fill="#592723" />
<rect x="138.10" y="332.70" width="13.10" height="3.30" fill="#772b27" />
<rect x="138.10" y="335.70" width="13.10" height="2.80" fill="#7b2c28" />
<rect x="138.10" y="338.20" width="13.10" height="2.10" fill="#782b27" />
<rect x="138.10" y="340.00" width="13.10" height="1.80" fill="#832925" />
<rect x="138.10" y="341.50" width="13.10" height="1.80" fill="#882b26" />
<rect x="138.10" y="343.00" width="13.10" height="2.80" fill="#842a25" />
<rect x="138.10" y="345.50" width="13.10" height="1.10" fill="#882b26" />
<rect x="138.10" y="346.30" width="13.10" height="3.30" fill="#882b26" />
<rect x="138.10" y="349.30" width="13.10" height="2.30" fill="#852a25" />
<rect x="138.10" y="351.30" width="13.10" height="3.30" fill="#842a25" />
<rect x="138.10" y="354.30" width="13.10" height="1.00" fill="#8c2c27" />
<rect x="138.10" y="355.00" width="13.10" height="2.30" fill="#9f2b25" />
<rect x="138.10" y="357.00" width="13.10" height="3.30" fill="#992a24" />
<rect x="138.10" y="360.00" width="13.10" height="2.30" fill="#8b2c27" />
<rect x="138.10" y="362.00" width="13.10" height="2.80" fill="#862b26" />
<rect x="138.10" y="364.50" width="13.10" height="1.80" fill="#8c2c27" />
<rect x="138.10" y="366.00" width="13.10" height="1.80" fill="#792b27" />
<rect x="138.10" y="367.50" width="13.10" height="2.80" fill="#782b27" />
<rect x="138.10" y="370.00" width="13.10" height="3.30" fill="#792b27" />
<rect x="138.10" y="373.00" width="13.10" height="0.80" fill="#762a26" />
<rect x="138.10" y="373.50" width="13.10" height="1.80" fill="#982924" />
<rect x="138.10" y="375.00" width="13.10" height="1.80" fill="#9c2b25" />
<rect x="138.10" y="376.50" width="13.10" height="2.30" fill="#992a24" />
<rect x="138.10" y="378.50" width="13.10" height="1.80" fill="#982924" />
<rect x="138.10" y="380.00" width="13.10" height="2.30" fill="#842a25" />
<rect x="138.10" y="382.00" width="13.10" height="2.30" fill="#882b26" />
<rect x="138.10" y="384.00" width="13.10" height="1.30" fill="#8a2c27" />
<rect x="138.10" y="385.00" width="13.10" height="2.30" fill="#9d2b25" />
<rect x="138.10" y="387.00" width="13.10" height="1.80" fill="#9b2a24" />
<rect x="138.10" y="388.50" width="13.10" height="1.80" fill="#a32c26" />
<rect x="138.10" y="390.00" width="13.10" height="1.60" fill="#a02c26" />
<rect x="138.10" y="391.30" width="13.10" height="1.80" fill="#ab2a23" />
<rect x="138.10" y="392.80" width="13.10" height="3.30" fill="#b02c24" />
<rect x="138.10" y="395.80" width="13.10" height="3.30" fill="#a82a22" />
<rect x="138.10" y="398.80" width="13.10" height="2.30" fill="#a92a22" />
<rect x="138.10" y="400.80" width="13.10" height="1.80" fill="#383323" />
<rect x="138.10" y="402.30" width="13.10" height="1.80" fill="#373223" />
<rect x="138.10" y="403.80" width="13.10" height="2.80" fill="#393424" />
<rect x="138.10" y="406.30" width="13.10" height="2.80" fill="#393424" />
<rect x="138.10" y="408.80" width="13.10" height="1.80" fill="#393424" />
<rect x="138.10" y="410.30" width="13.10" height="2.80" fill="#572622" />
<rect x="138.10" y="412.80" width="13.10" height="2.30" fill="#562622" />
<rect x="138.10" y="414.80" width="13.10" height="1.80" fill="#562622" />
<rect x="138.10" y="416.30" width="13.10" height="2.30" fill="#5a2824" />
<rect x="138.10" y="418.30" width="13.10" height="2.30" fill="#5b2824" />
<rect x="138.10" y="420.30" width="13.10" height="1.00" fill="#562622" />
<rect x="150.90" y="35.00" width="13.00" height="2.50" fill="#862a25" />
<rect x="150.90" y="37.20" width="13.00" height="2.30" fill="#43271f" />
<rect x="150.90" y="39.20" width="13.00" height="2.90" fill="#43271f" />
<rect x="150.90" y="41.80" width="13.00" height="1.80" fill="#04a342" />
<rect x="150.90" y="43.30" width="13.00" height="3.30" fill="#04a443" />
<rect x="150.90" y="46.30" width="13.00" height="2.30" fill="#03a041" />
<rect x="150.90" y="48.30" width="13.00" height="2.80" fill="#04a242" />
<rect x="150.90" y="50.80" width="13.00" height="2.50" fill="#03a041" />
<rect x="150.90" y="53.00" width="13.00" height="1.80" fill="#19783b" />
<rect x="150.90" y="54.50" width="13.00" height="2.30" fill="#039b3f" />
<rect x="150.90" y="56.50" width="13.00" height="1.80" fill="#039b3f" />
<rect x="150.90" y="58.00" width="13.00" height="2.30" fill="#039d40" />
<rect x="150.90" y="60.00" width="13.00" height="1.30" fill="#03a141" />
<rect x="150.90" y="61.00" width="13.00" height="1.80" fill="#187439" />
<rect x="150.90" y="62.50" width="13.00" height="1.80" fill="#03a141" />
<rect x="150.90" y="64.00" width="13.00" height="1.80" fill="#039a3f" />
<rect x="150.90" y="65.50" width="13.00" height="2.80" fill="#039c3f" />
<rect x="150.90" y="68.00" width="13.00" height="1.80" fill="#04a342" />
<rect x="150.90" y="69.50" width="13.00" height="3.30" fill="#039b3f" />
<rect x="150.90" y="72.50" width="13.00" height="2.30" fill="#039c3f" />
<rect x="150.90" y="74.50" width="13.00" height="1.80" fill="#039a3e" />
<rect x="150.90" y="76.00" width="13.00" height="1.80" fill="#04a342" />
<rect x="150.90" y="77.50" width="13.00" height="2.30" fill="#039f40" />
<rect x="150.90" y="79.50" width="13.00" height="1.80" fill="#187439" />
<rect x="150.90" y="81.00" width="13.00" height="2.30" fill="#039d40" />
<rect x="150.90" y="83.00" width="13.00" height="2.80" fill="#039e40" />
<rect x="150.90" y="85.50" width="13.00" height="1.80" fill="#039d40" />
<rect x="150.90" y="87.00" width="13.00" height="2.80" fill="#039a3e" />
<rect x="150.90" y="89.50" width="13.00" height="2.80" fill="#04a442" />
<rect x="150.90" y="92.00" width="13.00" height="3.30" fill="#04a342" />
<rect x="150.90" y="95.00" width="13.00" height="1.80" fill="#04a242" />
<rect x="150.90" y="96.50" width="13.00" height="1.80" fill="#039e40" />
<rect x="150.90" y="98.00" width="13.00" height="1.80" fill="#039d40" />
<rect x="150.90" y="99.50" width="13.00" height="1.80" fill="#039f41" />
<rect x="150.90" y="101.00" width="13.00" height="2.30" fill="#1a7a3c" />
<rect x="150.90" y="103.00" width="13.00" height="1.80" fill="#19783b" />
<rect x="150.90" y="104.50" width="13.00" height="1.80" fill="#197539" />
<rect x="150.90" y="106.00" width="13.00" height="1.80" fill="#296837" />
<rect x="150.90" y="107.50" width="13.00" height="2.80" fill="#2a6a38" />
<rect x="150.90" y="110.00" width="13.00" height="1.80" fill="#187339" />
<rect x="150.90" y="111.50" width="13.00" height="2.80" fill="#187439" />
<rect x="150.90" y="114.00" width="13.00" height="2.30" fill="#04a443" />
<rect x="150.90" y="116.00" width="13.00" height="2.80" fill="#04a443" />
<rect x="150.90" y="118.50" width="13.00" height="2.80" fill="#03a041" />
<rect x="150.90" y="121.00" width="13.00" height="2.30" fill="#039d40" />
<rect x="150.90" y="123.00" width="13.00" height="2.30" fill="#04a443" />
<rect x="150.90" y="125.00" width="13.00" height="2.30" fill="#039f41" />
<rect x="150.90" y="127.00" width="13.00" height="1.80" fill="#04a443" />
<rect x="150.90" y="128.50" width="13.00" height="1.80" fill="#039f40" />
<rect x="150.90" y="130.00" width="13.00" height="1.80" fill="#03a141" />
<rect x="150.90" y="131.50" width="13.00" height="2.80" fill="#039a3f" />
<rect x="150.90" y="134.00" width="13.00" height="3.30" fill="#04a442" />
<rect x="150.90" y="137.00" width="13.00" height="1.80" fill="#039e40" />
<rect x="150.90" y="138.50" width="13.00" height="1.80" fill="#039e40" />
<rect x="150.90" y="140.00" width="13.00" height="2.80" fill="#039c3f" />
<rect x="150.90" y="142.50" width="13.00" height="2.30" fill="#039e40" />
<rect x="150.90" y="144.50" width="13.00" height="2.30" fill="#04a443" />
<rect x="150.90" y="146.50" width="13.00" height="2.30" fill="#039f41" />
<rect x="150.90" y="148.50" width="13.00" height="1.80" fill="#039d40" />
<rect x="150.90" y="150.00" width="13.00" height="2.80" fill="#039f41" />
<rect x="150.90" y="152.50" width="13.00" height="3.30" fill="#03a141" />
<rect x="150.90" y="155.50" width="13.00" height="2.80" fill="#039b3f" />
<rect x="150.90" y="158.00" width="13.00" height="3.30" fill="#03a141" />
<rect x="150.90" y="161.00" width="13.00" height="2.80" fill="#03a041" />
<rect x="150.90" y="163.50" width="13.00" height="2.30" fill="#039d40" />
<rect x="150.90" y="165.50" width="13.00" height="2.30" fill="#039f41" />
<rect x="150.90" y="167.50" width="13.00" height="2.80" fill="#039d40" />
<rect x="150.90" y="170.00" width="13.00" height="0.60" fill="#04a242" />
<rect x="150.90" y="170.30" width="13.00" height="2.30" fill="#2a6a38" />
<rect x="150.90" y="172.30" width="13.00" height="2.80" fill="#286535" />
<rect x="150.90" y="174.80" width="13.00" height="0.50" fill="#2a6b38" />
<rect x="150.90" y="175.00" width="13.00" height="2.80" fill="#04a443" />
<rect x="150.90" y="177.50" width="13.00" height="1.80" fill="#039b3f" />
<rect x="150.90" y="179.00" width="13.00" height="1.80" fill="#039c3f" />
<rect x="150.90" y="180.50" width="13.00" height="2.30" fill="#04a543" />
<rect x="150.90" y="182.50" width="13.00" height="2.80" fill="#04a242" />
<rect x="150.90" y="185.00" width="13.00" height="3.30" fill="#039d3f" />
<rect x="150.90" y="188.00" width="13.00" height="1.80" fill="#03a141" />
<rect x="150.90" y="189.50" width="13.00" height="1.80" fill="#039d3f" />
<rect x="150.90" y="191.00" width="13.00" height="2.60" fill="#039f40" />
<rect x="150.90" y="193.30" width="13.00" height="1.80" fill="#19773a" />
<rect x="150.90" y="194.80" width="13.00" height="0.80" fill="#19793b" />
<rect x="150.90" y="195.30" width="13.00" height="2.80" fill="#039f40" />
<rect x="150.90" y="197.80" width="13.00" height="1.70" fill="#039c3f" />
<rect x="150.90" y="199.20" width="13.00" height="3.30" fill="#276435" />
<rect x="150.90" y="202.20" width="13.00" height="1.90" fill="#2a6b38" />
<rect x="150.90" y="203.80" width="13.00" height="3.30" fill="#03a141" />
<rect x="150.90" y="206.80" width="13.00" height="3.30" fill="#04a342" />
<rect x="150.90" y="209.80" width="13.00" height="2.30" fill="#03a141" />
<rect x="150.90" y="211.80" width="13.00" height="1.80" fill="#039f40" />
<rect x="150.90" y="213.30" width="13.00" height="2.80" fill="#039c3f" />
<rect x="150.90" y="215.80" width="13.00" height="1.80" fill="#04a442" />
<rect x="150.90" y="217.30" width="13.00" height="2.30" fill="#04a242" />
<rect x="150.90" y="219.30" width="13.00" height="2.30" fill="#039c3f" />
<rect x="150.90" y="221.30" width="13.00" height="3.30" fill="#039f40" />
<rect x="150.90" y="224.30" width="13.00" height="1.80" fill="#03a041" />
<rect x="150.90" y="225.80" width="13.00" height="3.30" fill="#039f41" />
<rect x="150.90" y="228.80" width="13.00" height="2.30" fill="#04a442" />
<rect x="150.90" y="230.80" width="13.00" height="2.80" fill="#04a242" />
<rect x="150.90" y="233.30" width="13.00" height="0.80" fill="#04a342" />
<rect x="150.90" y="233.80" width="13.00" height="1.80" fill="#375535" />
<rect x="150.90" y="235.30" width="13.00" height="2.10" fill="#375635" />
<rect x="150.90" y="237.10" width="13.00" height="2.30" fill="#039f41" />
<rect x="150.90" y="239.10" width="13.00" height="1.80" fill="#04a342" />
<rect x="150.90" y="240.60" width="13.00" height="1.70" fill="#03a041" />
<rect x="150.90" y="242.00" width="13.00" height="1.80" fill="#19783b" />
<rect x="150.90" y="243.50" width="13.00" height="2.80" fill="#039f41" />
<rect x="150.90" y="246.00" width="13.00" height="3.30" fill="#04a242" />
<rect x="150.90" y="249.00" width="13.00" height="1.50" fill="#039c3f" />
<rect x="150.90" y="250.20" width="13.00" height="2.30" fill="#296736" />
<rect x="150.90" y="252.20" width="13.00" height="1.60" fill="#2a6a38" />
<rect x="150.90" y="253.50" width="13.00" height="2.80" fill="#03a141" />
<rect x="150.90" y="256.00" width="13.00" height="2.80" fill="#039d3f" />
<rect x="150.90" y="258.50" width="13.00" height="3.30" fill="#039a3e" />
<rect x="150.90" y="261.50" width="13.00" height="0.80" fill="#039e40" />
<rect x="150.90" y="262.00" width="13.00" height="3.30" fill="#296937" />
<rect x="150.90" y="265.00" width="13.00" height="2.30" fill="#296937" />
<rect x="150.90" y="267.00" width="13.00" height="1.80" fill="#197539" />
<rect x="150.90" y="268.50" width="13.00" height="3.30" fill="#1a7b3c" />
<rect x="150.90" y="271.50" width="13.00" height="2.30" fill="#1a7c3d" />
<rect x="150.90" y="273.50" width="13.00" height="0.70" fill="#19773a" />
<rect x="150.90" y="273.90" width="13.00" height="2.30" fill="#039b3f" />
<rect x="150.90" y="275.90" width="13.00" height="1.80" fill="#04a342" />
<rect x="150.90" y="277.40" width="13.00" height="2.30" fill="#039f40" />
<rect x="150.90" y="279.40" width="13.00" height="2.30" fill="#04a342" />
<rect x="150.90" y="281.40" width="13.00" height="2.30" fill="#039d40" />
<rect x="150.90" y="283.40" width="13.00" height="3.30" fill="#039f40" />
<rect x="150.90" y="286.40" width="13.00" height="2.80" fill="#04a242" />
<rect x="150.90" y="288.90" width="13.00" height="2.30" fill="#04a242" />
<rect x="150.90" y="290.90" width="13.00" height="3.30" fill="#039d40" />
<rect x="150.90" y="293.90" width="13.00" height="2.30" fill="#039c3f" />
<rect x="150.90" y="295.90" width="13.00" height="3.30" fill="#03a141" />
<rect x="150.90" y="298.90" width="13.00" height="3.30" fill="#03a141" />
<rect x="150.90" y="301.90" width="13.00" height="3.30" fill="#03993e" />
<rect x="150.90" y="304.90" width="13.00" height="2.80" fill="#039d40" />
<rect x="150.90" y="307.40" width="13.00" height="2.80" fill="#039d40" />
<rect x="150.90" y="309.90" width="13.00" height="3.30" fill="#039e40" />
<rect x="150.90" y="312.90" width="13.00" height="1.80" fill="#03a141" />
<rect x="150.90" y="314.40" width="13.00" height="2.80" fill="#039b3f" />
<rect x="150.90" y="316.90" width="13.00" height="2.80" fill="#04a342" />
<rect x="150.90" y="319.40" width="13.00" height="1.80" fill="#039a3f" />
<rect x="150.90" y="320.90" width="13.00" height="2.40" fill="#04a242" />
<rect x="150.90" y="323.00" width="13.00" height="2.30" fill="#19783b" />
<rect x="150.90" y="325.00" width="13.00" height="2.30" fill="#19793b" />
<rect x="150.90" y="327.00" width="13.00" height="1.80" fill="#03a141" />
<rect x="150.90" y="328.50" width="13.00" height="1.80" fill="#04a443" />
<rect x="150.90" y="330.00" width="13.00" height="2.80" fill="#19763a" />
<rect x="150.90" y="332.50" width="13.00" height="0.80" fill="#19783b" />
<rect x="150.90" y="333.00" width="13.00" height="2.30" fill="#039c3f" />
<rect x="150.90" y="335.00" width="13.00" height="3.30" fill="#039d40" />
<rect x="150.90" y="338.00" width="13.00" height="2.30" fill="#039c3f" />
<rect x="150.90" y="340.00" width="13.00" height="2.30" fill="#04a242" />
<rect x="150.90" y="342.00" width="13.00" height="2.30" fill="#19793b" />
<rect x="150.90" y="344.00" width="13.00" height="1.30" fill="#19793b" />
<rect x="150.90" y="345.00" width="13.00" height="2.80" fill="#039c3f" />
<rect x="150.90" y="347.50" width="13.00" height="2.30" fill="#039f41" />
<rect x="150.90" y="349.50" width="13.00" height="3.30" fill="#03a141" />
<rect x="150.90" y="352.50" width="13.00" height="1.80" fill="#03a041" />
<rect x="150.90" y="354.00" width="13.00" height="2.80" fill="#039e40" />
<rect x="150.90" y="356.50" width="13.00" height="2.30" fill="#039f40" />
<rect x="150.90" y="358.50" width="13.00" height="1.80" fill="#039f40" />
<rect x="150.90" y="360.00" width="13.00" height="2.30" fill="#03a141" />
<rect x="150.90" y="362.00" width="13.00" height="2.30" fill="#039f41" />
<rect x="150.90" y="364.00" width="13.00" height="1.80" fill="#039b3f" />
<rect x="150.90" y="365.50" width="13.00" height="2.80" fill="#039f40" />
<rect x="150.90" y="368.00" width="13.00" height="3.30" fill="#03a141" />
<rect x="150.90" y="371.00" width="13.00" height="3.30" fill="#039e40" />
<rect x="150.90" y="374.00" width="13.00" height="3.30" fill="#04a543" />
<rect x="150.90" y="377.00" width="13.00" height="1.80" fill="#039b3f" />
<rect x="150.90" y="378.50" width="13.00" height="2.80" fill="#03a141" />
<rect x="150.90" y="381.00" width="13.00" height="1.80" fill="#039a3e" />
<rect x="150.90" y="382.50" width="13.00" height="1.80" fill="#03a141" />
<rect x="150.90" y="384.00" width="13.00" height="2.80" fill="#04a342" />
<rect x="150.90" y="386.50" width="13.00" height="1.80" fill="#039f41" />
<rect x="150.90" y="388.00" width="13.00" height="3.30" fill="#04a242" />
<rect x="150.90" y="391.00" width="13.00" height="2.30" fill="#039a3e" />
<rect x="150.90" y="393.00" width="13.00" height="3.30" fill="#03a041" />
<rect x="150.90" y="396.00" width="13.00" height="2.80" fill="#039a3f" />
<rect x="150.90" y="398.50" width="13.00" height="2.80" fill="#039d40" />
<rect x="150.90" y="401.00" width="13.00" height="2.30" fill="#039d40" />
<rect x="150.90" y="403.00" width="13.00" height="2.80" fill="#039e40" />
<rect x="150.90" y="405.50" width="13.00" height="1.80" fill="#04a342" />
<rect x="150.90" y="407.00" width="13.00" height="2.80" fill="#039d40" />
<rect x="150.90" y="409.50" width="13.00" height="3.30" fill="#039e40" />
<rect x="150.90" y="412.50" width="13.00" height="2.80" fill="#04a342" />
<rect x="150.90" y="415.00" width="13.00" height="2.80" fill="#04a443" />
<rect x="150.90" y="417.50" width="13.00" height="3.30" fill="#04a242" />
<rect x="150.90" y="420.50" width="13.00" height="0.80" fill="#039c3f" />
<rect x="163.60" y="35.00" width="13.00" height="2.50" fill="#42261e" />
<rect x="163.60" y="37.20" width="13.00" height="1.80" fill="#9a2c26" />
<rect x="163.60" y="38.70" width="13.00" height="1.80" fill="#962b25" />
<rect x="163.60" y="40.20" width="13.00" height="1.90" fill="#982b25" />
<rect x="163.60" y="41.80" width="13.00" height="1.80" fill="#039e40" />
<rect x="163.60" y="43.30" width="13.00" height="1.50" fill="#03993e" />
<rect x="163.60" y="44.50" width="13.00" height="2.30" fill="#2a6a38" />
<rect x="163.60" y="46.50" width="13.00" height="1.50" fill="#296937" />
<rect x="163.60" y="47.70" width="13.00" height="1.80" fill="#04a242" />
<rect x="163.60" y="49.20" width="13.00" height="1.10" fill="#03a041" />
<rect x="163.60" y="50.00" width="13.00" height="1.80" fill="#197539" />
<rect x="163.60" y="51.50" width="13.00" height="3.30" fill="#03a041" />
<rect x="163.60" y="54.50" width="13.00" height="2.30" fill="#039b3f" />
<rect x="163.60" y="56.50" width="13.00" height="2.30" fill="#04a342" />
<rect x="163.60" y="58.50" width="13.00" height="3.30" fill="#04a242" />
<rect x="163.60" y="61.50" width="13.00" height="1.80" fill="#039e40" />
<rect x="163.60" y="63.00" width="13.00" height="2.30" fill="#04a242" />
<rect x="163.60" y="65.00" width="13.00" height="2.80" fill="#04a342" />
<rect x="163.60" y="67.50" width="13.00" height="2.30" fill="#039e40" />
<rect x="163.60" y="69.50" width="13.00" height="0.80" fill="#039a3e" />
<rect x="163.60" y="70.00" width="13.00" height="1.80" fill="#19783b" />
<rect x="163.60" y="71.50" width="13.00" height="0.80" fill="#1a7a3c" />
<rect x="163.60" y="72.00" width="13.00" height="3.00" fill="#03a041" />
<rect x="163.60" y="74.70" width="13.00" height="3.30" fill="#385836" />
<rect x="163.60" y="77.70" width="13.00" height="1.80" fill="#395937" />
<rect x="163.60" y="79.20" width="13.00" height="1.10" fill="#395837" />
<rect x="163.60" y="80.00" width="13.00" height="3.30" fill="#03a041" />
<rect x="163.60" y="83.00" width="13.00" height="1.80" fill="#03a141" />
<rect x="163.60" y="84.50" width="13.00" height="2.30" fill="#04a442" />
<rect x="163.60" y="86.50" width="13.00" height="1.80" fill="#039e40" />
<rect x="163.60" y="88.00" width="13.00" height="1.30" fill="#03a141" />
<rect x="163.60" y="89.00" width="13.00" height="1.80" fill="#1a7c3d" />
<rect x="163.60" y="90.50" width="13.00" height="1.80" fill="#197539" />
<rect x="163.60" y="92.00" width="13.00" height="1.80" fill="#039b3f" />
<rect x="163.60" y="93.50" width="13.00" height="0.80" fill="#039d3f" />
<rect x="163.60" y="94.00" width="13.00" height="2.30" fill="#19773a" />
<rect x="163.60" y="96.00" width="13.00" height="2.30" fill="#1a7b3c" />
<rect x="163.60" y="98.00" width="13.00" height="2.80" fill="#04a242" />
<rect x="163.60" y="100.50" width="13.00" height="2.30" fill="#04a242" />
<rect x="163.60" y="102.50" width="13.00" height="1.80" fill="#039d40" />
<rect x="163.60" y="104.00" width="13.00" height="3.30" fill="#039f40" />
<rect x="163.60" y="107.00" width="13.00" height="2.10" fill="#04a442" />
<rect x="163.60" y="108.80" width="13.00" height="1.80" fill="#2a6a38" />
<rect x="163.60" y="110.30" width="13.00" height="1.80" fill="#286535" />
<rect x="163.60" y="111.80" width="13.00" height="1.80" fill="#296736" />
<rect x="163.60" y="113.30" width="13.00" height="1.00" fill="#2a6a38" />
<rect x="163.60" y="114.00" width="13.00" height="2.30" fill="#04a443" />
<rect x="163.60" y="116.00" width="13.00" height="3.30" fill="#03a041" />
<rect x="163.60" y="119.00" width="13.00" height="0.60" fill="#039e40" />
<rect x="163.60" y="119.30" width="13.00" height="3.00" fill="#19773a" />
<rect x="163.60" y="122.00" width="13.00" height="2.30" fill="#039b3f" />
<rect x="163.60" y="124.00" width="13.00" height="1.80" fill="#039e40" />
<rect x="163.60" y="125.50" width="13.00" height="2.10" fill="#03a141" />
<rect x="163.60" y="127.30" width="13.00" height="3.30" fill="#296837" />
<rect x="163.60" y="130.30" width="13.00" height="2.90" fill="#2a6b38" />
<rect x="163.60" y="132.90" width="13.00" height="2.80" fill="#039d40" />
<rect x="163.60" y="135.40" width="13.00" height="1.80" fill="#03a041" />
<rect x="163.60" y="136.90" width="13.00" height="2.80" fill="#04a342" />
<rect x="163.60" y="139.40" width="13.00" height="1.80" fill="#04a342" />
<rect x="163.60" y="140.90" width="13.00" height="2.80" fill="#03a041" />
<rect x="163.60" y="143.40" width="13.00" height="2.30" fill="#039e40" />
<rect x="163.60" y="145.40" width="13.00" height="0.90" fill="#03a041" />
<rect x="163.60" y="146.00" width="13.00" height="2.30" fill="#1a7a3c" />
<rect x="163.60" y="148.00" width="13.00" height="2.80" fill="#19793b" />
<rect x="163.60" y="150.50" width="13.00" height="1.10" fill="#19763a" />
<rect x="163.60" y="151.30" width="13.00" height="3.30" fill="#039b3f" />
<rect x="163.60" y="154.30" width="13.00" height="1.80" fill="#039d40" />
<rect x="163.60" y="155.80" width="13.00" height="1.00" fill="#04a342" />
<rect x="163.60" y="156.50" width="13.00" height="2.30" fill="#19763a" />
<rect x="163.60" y="158.50" width="13.00" height="0.80" fill="#19763a" />
<rect x="163.60" y="159.00" width="13.00" height="1.80" fill="#03a041" />
<rect x="163.60" y="160.50" width="13.00" height="3.30" fill="#04a242" />
<rect x="163.60" y="163.50" width="13.00" height="2.30" fill="#04a242" />
<rect x="163.60" y="165.50" width="13.00" height="2.30" fill="#039d40" />
<rect x="163.60" y="167.50" width="13.00" height="1.80" fill="#03a141" />
<rect x="163.60" y="169.00" width="13.00" height="3.30" fill="#03a141" />
<rect x="163.60" y="172.00" width="13.00" height="2.80" fill="#03a041" />
<rect x="163.60" y="174.50" width="13.00" height="1.80" fill="#04a242" />
<rect x="163.60" y="176.00" width="13.00" height="3.30" fill="#03a041" />
<rect x="163.60" y="179.00" width="13.00" height="1.30" fill="#04a242" />
<rect x="163.60" y="180.00" width="13.00" height="2.30" fill="#19773a" />
<rect x="163.60" y="182.00" width="13.00" height="1.10" fill="#1a7b3c" />
<rect x="163.60" y="182.80" width="13.00" height="2.80" fill="#039f40" />
<rect x="163.60" y="185.30" width="13.00" height="2.30" fill="#039c3f" />
<rect x="163.60" y="187.30" width="13.00" height="1.00" fill="#039a3f" />
<rect x="163.60" y="188.00" width="13.00" height="2.80" fill="#286736" />
<rect x="163.60" y="190.50" width="13.00" height="2.80" fill="#296736" />
<rect x="163.60" y="193.00" width="13.00" height="2.30" fill="#286636" />
<rect x="163.60" y="195.00" width="13.00" height="3.30" fill="#286736" />
<rect x="163.60" y="198.00" width="13.00" height="0.90" fill="#286736" />
<rect x="163.60" y="198.60" width="13.00" height="3.30" fill="#04a242" />
<rect x="163.60" y="201.60" width="13.00" height="2.30" fill="#039d40" />
<rect x="163.60" y="203.60" width="13.00" height="1.80" fill="#039d40" />
<rect x="163.60" y="205.10" width="13.00" height="1.80" fill="#039a3f" />
<rect x="163.60" y="206.60" width="13.00" height="2.30" fill="#04a543" />
<rect x="163.60" y="208.60" width="13.00" height="0.70" fill="#03a041" />
<rect x="163.60" y="209.00" width="13.00" height="2.30" fill="#286636" />
<rect x="163.60" y="211.00" width="13.00" height="2.80" fill="#296736" />
<rect x="163.60" y="213.50" width="13.00" height="3.30" fill="#2a6a38" />
<rect x="163.60" y="216.50" width="13.00" height="0.80" fill="#286636" />
<rect x="163.60" y="217.00" width="13.00" height="1.80" fill="#039d40" />
<rect x="163.60" y="218.50" width="13.00" height="2.30" fill="#039e40" />
<rect x="163.60" y="220.50" width="13.00" height="1.80" fill="#039a3e" />
<rect x="163.60" y="222.00" width="13.00" height="2.30" fill="#1a7b3c" />
<rect x="163.60" y="224.00" width="13.00" height="3.30" fill="#039f40" />
<rect x="163.60" y="227.00" width="13.00" height="1.80" fill="#04a342" />
<rect x="163.60" y="228.50" width="13.00" height="3.30" fill="#04a442" />
<rect x="163.60" y="231.50" width="13.00" height="0.80" fill="#039c3f" />
<rect x="163.60" y="232.00" width="13.00" height="2.30" fill="#19793b" />
<rect x="163.60" y="234.00" width="13.00" height="3.30" fill="#197539" />
<rect x="163.60" y="237.00" width="13.00" height="2.30" fill="#19773a" />
<rect x="163.60" y="239.00" width="13.00" height="2.30" fill="#1a7c3d" />
<rect x="163.60" y="241.00" width="13.00" height="1.30" fill="#197539" />
<rect x="163.60" y="242.00" width="13.00" height="2.80" fill="#04a443" />
<rect x="163.60" y="244.50" width="13.00" height="1.80" fill="#04a442" />
<rect x="163.60" y="246.00" width="13.00" height="1.80" fill="#04a342" />
<rect x="163.60" y="247.50" width="13.00" height="0.80" fill="#039c3f" />
<rect x="163.60" y="248.00" width="13.00" height="1.80" fill="#187439" />
<rect x="163.60" y="249.50" width="13.00" height="2.30" fill="#039d40" />
<rect x="163.60" y="251.50" width="13.00" height="1.80" fill="#04a443" />
<rect x="163.60" y="253.00" width="13.00" height="2.80" fill="#03a041" />
<rect x="163.60" y="255.50" width="13.00" height="0.80" fill="#04a242" />
<rect x="163.60" y="256.00" width="13.00" height="1.80" fill="#19773a" />
<rect x="163.60" y="257.50" width="13.00" height="2.80" fill="#039c3f" />
<rect x="163.60" y="260.00" width="13.00" height="1.80" fill="#19773a" />
<rect x="163.60" y="261.50" width="13.00" height="3.30" fill="#039b3f" />
<rect x="163.60" y="264.50" width="13.00" height="2.30" fill="#04a342" />
<rect x="163.60" y="266.50" width="13.00" height="1.80" fill="#039f40" />
<rect x="163.60" y="268.00" width="13.00" height="2.30" fill="#04a242" />
<rect x="163.60" y="270.00" width="13.00" height="2.30" fill="#04a442" />
<rect x="163.60" y="272.00" width="13.00" height="0.90" fill="#039a3f" />
<rect x="163.60" y="272.60" width="13.00" height="2.80" fill="#2a6b38" />
<rect x="163.60" y="275.10" width="13.00" height="2.30" fill="#2a6a38" />
<rect x="163.60" y="277.10" width="13.00" height="1.80" fill="#2a6b38" />
<rect x="163.60" y="278.60" width="13.00" height="0.80" fill="#2a6a38" />
<rect x="163.60" y="279.10" width="13.00" height="1.80" fill="#039f40" />
<rect x="163.60" y="280.60" width="13.00" height="2.80" fill="#039d40" />
<rect x="163.60" y="283.10" width="13.00" height="2.30" fill="#039f40" />
<rect x="163.60" y="285.10" width="13.00" height="2.80" fill="#039b3f" />
<rect x="163.60" y="287.60" width="13.00" height="2.30" fill="#04a242" />
<rect x="163.60" y="289.60" width="13.00" height="2.30" fill="#395937" />
<rect x="163.60" y="291.60" width="13.00" height="2.30" fill="#385836" />
<rect x="163.60" y="293.60" width="13.00" height="2.30" fill="#385736" />
<rect x="163.60" y="295.60" width="13.00" height="3.30" fill="#385736" />
<rect x="163.60" y="298.60" width="13.00" height="0.50" fill="#385736" />
<rect x="163.60" y="298.80" width="13.00" height="2.80" fill="#039d40" />
<rect x="163.60" y="301.30" width="13.00" height="2.30" fill="#039c3f" />
<rect x="163.60" y="303.30" width="13.00" height="1.00" fill="#039d40" />
<rect x="163.60" y="304.00" width="13.00" height="3.30" fill="#187439" />
<rect x="163.60" y="307.00" width="13.00" height="1.80" fill="#19793b" />
<rect x="163.60" y="308.50" width="13.00" height="0.80" fill="#19783b" />
<rect x="163.60" y="309.00" width="13.00" height="2.80" fill="#039b3f" />
<rect x="163.60" y="311.50" width="13.00" height="2.30" fill="#04a443" />
<rect x="163.60" y="313.50" width="13.00" height="3.30" fill="#04a543" />
<rect x="163.60" y="316.50" width="13.00" height="0.80" fill="#04a442" />
<rect x="163.60" y="317.00" width="13.00" height="1.80" fill="#296736" />
<rect x="163.60" y="318.50" width="13.00" height="0.80" fill="#2a6b38" />
<rect x="163.60" y="319.00" width="13.00" height="1.80" fill="#1a7b3c" />
<rect x="163.60" y="320.50" width="13.00" height="2.80" fill="#187539" />
<rect x="163.60" y="323.00" width="13.00" height="1.30" fill="#19773a" />
<rect x="163.60" y="324.00" width="13.00" height="2.80" fill="#039f41" />
<rect x="163.60" y="326.50" width="13.00" height="3.30" fill="#03993e" />
<rect x="163.60" y="329.50" width="13.00" height="2.80" fill="#039c3f" />
<rect x="163.60" y="332.00" width="13.00" height="3.30" fill="#039a3e" />
<rect x="163.60" y="335.00" width="13.00" height="3.30" fill="#039c3f" />
<rect x="163.60" y="338.00" width="13.00" height="1.30" fill="#039b3f" />
<rect x="163.60" y="339.00" width="13.00" height="2.30" fill="#296837" />
<rect x="163.60" y="341.00" width="13.00" height="2.30" fill="#03a141" />
<rect x="163.60" y="343.00" width="13.00" height="2.30" fill="#03a041" />
<rect x="163.60" y="345.00" width="13.00" height="1.80" fill="#04a342" />
<rect x="163.60" y="346.50" width="13.00" height="3.30" fill="#04a242" />
<rect x="163.60" y="349.50" width="13.00" height="2.30" fill="#039c3f" />
<rect x="163.60" y="351.50" width="13.00" height="2.30" fill="#03a041" />
<rect x="163.60" y="353.50" width="13.00" height="2.30" fill="#039a3e" />
<rect x="163.60" y="355.50" width="13.00" height="3.30" fill="#04a342" />
<rect x="163.60" y="358.50" width="13.00" height="1.80" fill="#039f41" />
<rect x="163.60" y="360.00" width="13.00" height="2.80" fill="#039d40" />
<rect x="163.60" y="362.50" width="13.00" height="0.50" fill="#039a3f" />
<rect x="163.60" y="362.70" width="13.00" height="3.30" fill="#1a7b3c" />
<rect x="163.60" y="365.70" width="13.00" height="0.60" fill="#187539" />
<rect x="163.60" y="366.00" width="13.00" height="2.80" fill="#039c3f" />
<rect x="163.60" y="368.50" width="13.00" height="0.80" fill="#039a3e" />
<rect x="163.60" y="369.00" width="13.00" height="2.80" fill="#19783b" />
<rect x="163.60" y="371.50" width="13.00" height="1.80" fill="#19763a" />
<rect x="163.60" y="373.00" width="13.00" height="2.30" fill="#04a443" />
<rect x="163.60" y="375.00" width="13.00" height="1.80" fill="#187439" />
<rect x="163.60" y="376.50" width="13.00" height="2.30" fill="#1a7a3c" />
<rect x="163.60" y="378.50" width="13.00" height="0.80" fill="#1a7a3c" />
<rect x="163.60" y="379.00" width="13.00" height="3.30" fill="#03a041" />
<rect x="163.60" y="382.00" width="13.00" height="1.80" fill="#039d40" />
<rect x="163.60" y="383.50" width="13.00" height="1.80" fill="#04a443" />
<rect x="163.60" y="385.00" width="13.00" height="2.30" fill="#039e40" />
<rect x="163.60" y="387.00" width="13.00" height="1.80" fill="#296837" />
<rect x="163.60" y="388.50" width="13.00" height="2.30" fill="#276435" />
<rect x="163.60" y="390.50" width="13.00" height="1.10" fill="#286636" />
<rect x="163.60" y="391.30" width="13.00" height="2.30" fill="#472820" />
<rect x="163.60" y="393.30" width="13.00" height="1.00" fill="#472820" />
<rect x="163.60" y="394.00" width="13.00" height="1.80" fill="#275532" />
<rect x="163.60" y="395.50" width="13.00" height="2.30" fill="#285733" />
<rect x="163.60" y="397.50" width="13.00" height="3.30" fill="#295834" />
<rect x="163.60" y="400.50" width="13.00" height="3.30" fill="#285632" />
<rect x="163.60" y="403.50" width="13.00" height="1.80" fill="#2a5a35" />
<rect x="163.60" y="405.00" width="13.00" height="1.80" fill="#285733" />
<rect x="163.60" y="406.50" width="13.00" height="1.40" fill="#295834" />
<rect x="163.60" y="407.60" width="13.00" height="2.80" fill="#286535" />
<rect x="163.60" y="410.10" width="13.00" height="1.80" fill="#296736" />
<rect x="163.60" y="411.60" width="13.00" height="0.70" fill="#296837" />
<rect x="163.60" y="412.00" width="13.00" height="2.30" fill="#1a7b3c" />
<rect x="163.60" y="414.00" width="13.00" height="2.30" fill="#19793b" />
<rect x="163.60" y="416.00" width="13.00" height="3.30" fill="#2a6a38" />
<rect x="163.60" y="419.00" width="13.00" height="2.30" fill="#2a6b38" />
<rect x="176.30" y="35.00" width="13.00" height="1.80" fill="#d32a20" />
<rect x="176.30" y="36.50" width="13.00" height="0.40" fill="#cf291f" />
<rect x="176.30" y="36.60" width="13.00" height="1.80" fill="#43271f" />
<rect x="176.30" y="38.10" width="13.00" height="1.80" fill="#452820" />
<rect x="176.30" y="39.60" width="13.00" height="0.60" fill="#43271f" />
<rect x="176.30" y="39.90" width="13.00" height="2.20" fill="#8a2c27" />
<rect x="176.30" y="41.80" width="13.00" height="2.80" fill="#2a6a38" />
<rect x="176.30" y="44.30" width="13.00" height="0.50" fill="#286736" />
<rect x="176.30" y="44.50" width="13.00" height="2.30" fill="#04a443" />
<rect x="176.30" y="46.50" width="13.00" height="2.80" fill="#039c3f" />
<rect x="176.30" y="49.00" width="13.00" height="3.30" fill="#03a141" />
<rect x="176.30" y="52.00" width="13.00" height="1.80" fill="#039e40" />
<rect x="176.30" y="53.50" width="13.00" height="2.30" fill="#039a3f" />
<rect x="176.30" y="55.50" width="13.00" height="3.30" fill="#039c3f" />
<rect x="176.30" y="58.50" width="13.00" height="1.80" fill="#039c3f" />
<rect x="176.30" y="60.00" width="13.00" height="3.30" fill="#04a443" />
<rect x="176.30" y="63.00" width="13.00" height="1.30" fill="#03a141" />
<rect x="176.30" y="64.00" width="13.00" height="1.80" fill="#187439" />
<rect x="176.30" y="65.50" width="13.00" height="2.80" fill="#04a442" />
<rect x="176.30" y="68.00" width="13.00" height="2.80" fill="#03a141" />
<rect x="176.30" y="70.50" width="13.00" height="0.80" fill="#03a041" />
<rect x="176.30" y="71.00" width="13.00" height="1.80" fill="#187439" />
<rect x="176.30" y="72.50" width="13.00" height="1.80" fill="#039e40" />
<rect x="176.30" y="74.00" width="13.00" height="1.80" fill="#039d40" />
<rect x="176.30" y="75.50" width="13.00" height="2.80" fill="#039d40" />
<rect x="176.30" y="78.00" width="13.00" height="2.30" fill="#039b3f" />
<rect x="176.30" y="80.00" width="13.00" height="2.80" fill="#039a3f" />
<rect x="176.30" y="82.50" width="13.00" height="0.40" fill="#039e40" />
<rect x="176.30" y="82.60" width="13.00" height="2.30" fill="#1a7b3c" />
<rect x="176.30" y="84.60" width="13.00" height="3.30" fill="#19783b" />
<rect x="176.30" y="87.60" width="13.00" height="0.50" fill="#19753a" />
<rect x="176.30" y="87.80" width="13.00" height="1.80" fill="#04a242" />
<rect x="176.30" y="89.30" width="13.00" height="2.80" fill="#04a342" />
<rect x="176.30" y="91.80" width="13.00" height="2.30" fill="#03a141" />
<rect x="176.30" y="93.80" width="13.00" height="2.30" fill="#03a041" />
<rect x="176.30" y="95.80" width="13.00" height="2.80" fill="#039f40" />
<rect x="176.30" y="98.30" width="13.00" height="2.80" fill="#03a041" />
<rect x="176.30" y="100.80" width="13.00" height="3.30" fill="#04a342" />
<rect x="176.30" y="103.80" width="13.00" height="1.80" fill="#039c3f" />
<rect x="176.30" y="105.30" width="13.00" height="2.30" fill="#039c3f" />
<rect x="176.30" y="107.30" width="13.00" height="3.30" fill="#04a443" />
<rect x="176.30" y="110.30" width="13.00" height="3.30" fill="#039a3e" />
<rect x="176.30" y="113.30" width="13.00" height="2.80" fill="#039b3f" />
<rect x="176.30" y="115.80" width="13.00" height="2.30" fill="#039d40" />
<rect x="176.30" y="117.80" width="13.00" height="2.80" fill="#039f40" />
<rect x="176.30" y="120.30" width="13.00" height="2.80" fill="#04a342" />
<rect x="176.30" y="122.80" width="13.00" height="2.30" fill="#039d40" />
<rect x="176.30" y="124.80" width="13.00" height="1.00" fill="#039b3f" />
<rect x="176.30" y="125.50" width="13.00" height="1.80" fill="#19793b" />
<rect x="176.30" y="127.00" width="13.00" height="2.80" fill="#039e40" />
<rect x="176.30" y="129.50" width="13.00" height="1.80" fill="#039f41" />
<rect x="176.30" y="131.00" width="13.00" height="2.20" fill="#039d40" />
<rect x="176.30" y="132.90" width="13.00" height="1.80" fill="#395837" />
<rect x="176.30" y="134.40" width="13.00" height="2.30" fill="#385836" />
<rect x="176.30" y="136.40" width="13.00" height="2.80" fill="#375635" />
<rect x="176.30" y="138.90" width="13.00" height="2.30" fill="#395937" />
<rect x="176.30" y="140.90" width="13.00" height="1.40" fill="#3a5a38" />
<rect x="176.30" y="142.00" width="13.00" height="1.80" fill="#04a242" />
<rect x="176.30" y="143.50" width="13.00" height="3.30" fill="#039c3f" />
<rect x="176.30" y="146.50" width="13.00" height="2.30" fill="#039e40" />
<rect x="176.30" y="148.50" width="13.00" height="1.80" fill="#03993e" />
<rect x="176.30" y="150.00" width="13.00" height="1.80" fill="#039f41" />
<rect x="176.30" y="151.50" width="13.00" height="2.30" fill="#039e40" />
<rect x="176.30" y="153.50" width="13.00" height="2.80" fill="#04a342" />
<rect x="176.30" y="156.00" width="13.00" height="1.80" fill="#039e40" />
<rect x="176.30" y="157.50" width="13.00" height="3.30" fill="#03a141" />
<rect x="176.30" y="160.50" width="13.00" height="1.60" fill="#04a242" />
<rect x="176.30" y="161.80" width="13.00" height="2.80" fill="#286736" />
<rect x="176.30" y="164.30" width="13.00" height="3.30" fill="#296937" />
<rect x="176.30" y="167.30" width="13.00" height="1.80" fill="#2a6a38" />
<rect x="176.30" y="168.80" width="13.00" height="1.20" fill="#296736" />
<rect x="176.30" y="169.70" width="13.00" height="2.80" fill="#039b3f" />
<rect x="176.30" y="172.20" width="13.00" height="2.80" fill="#04a342" />
<rect x="176.30" y="174.70" width="13.00" height="0.60" fill="#03a041" />
<rect x="176.30" y="175.00" width="13.00" height="2.30" fill="#187439" />
<rect x="176.30" y="177.00" width="13.00" height="2.20" fill="#19763a" />
<rect x="176.30" y="178.90" width="13.00" height="2.30" fill="#04a443" />
<rect x="176.30" y="180.90" width="13.00" height="2.30" fill="#04a443" />
<rect x="176.30" y="182.90" width="13.00" height="1.80" fill="#039a3e" />
<rect x="176.30" y="184.40" width="13.00" height="2.80" fill="#03a041" />
<rect x="176.30" y="186.90" width="13.00" height="3.30" fill="#039d40" />
<rect x="176.30" y="189.90" width="13.00" height="2.80" fill="#03a041" />
<rect x="176.30" y="192.40" width="13.00" height="3.30" fill="#039f41" />
<rect x="176.30" y="195.40" width="13.00" height="3.30" fill="#039e40" />
<rect x="176.30" y="198.40" width="13.00" height="2.80" fill="#039a3e" />
<rect x="176.30" y="200.90" width="13.00" height="2.80" fill="#039f40" />
<rect x="176.30" y="203.40" width="13.00" height="1.80" fill="#03a141" />
<rect x="176.30" y="204.90" width="13.00" height="2.30" fill="#039b3f" />
<rect x="176.30" y="206.90" width="13.00" height="2.80" fill="#039f41" />
<rect x="176.30" y="209.40" width="13.00" height="2.30" fill="#04a342" />
<rect x="176.30" y="211.40" width="13.00" height="0.60" fill="#039f40" />
<rect x="176.30" y="211.70" width="13.00" height="3.30" fill="#1a8a40" />
<rect x="176.30" y="214.70" width="13.00" height="2.60" fill="#19893f" />
<rect x="176.30" y="217.00" width="13.00" height="1.80" fill="#197539" />
<rect x="176.30" y="218.50" width="13.00" height="2.80" fill="#19773a" />
<rect x="176.30" y="221.00" width="13.00" height="1.80" fill="#1a7a3c" />
<rect x="176.30" y="222.50" width="13.00" height="2.30" fill="#187439" />
<rect x="176.30" y="224.50" width="13.00" height="0.80" fill="#19793b" />
<rect x="176.30" y="225.00" width="13.00" height="3.30" fill="#03a141" />
<rect x="176.30" y="228.00" width="13.00" height="2.80" fill="#04a342" />
<rect x="176.30" y="230.50" width="13.00" height="2.30" fill="#039f41" />
<rect x="176.30" y="232.50" width="13.00" height="0.80" fill="#039e40" />
<rect x="176.30" y="233.00" width="13.00" height="1.80" fill="#19793b" />
<rect x="176.30" y="234.50" width="13.00" height="1.80" fill="#039d40" />
<rect x="176.30" y="236.00" width="13.00" height="1.80" fill="#03a141" />
<rect x="176.30" y="237.50" width="13.00" height="1.80" fill="#04a242" />
<rect x="176.30" y="239.00" width="13.00" height="2.80" fill="#03a141" />
<rect x="176.30" y="241.50" width="13.00" height="1.80" fill="#04a442" />
<rect x="176.30" y="243.00" width="13.00" height="3.30" fill="#04a342" />
<rect x="176.30" y="246.00" width="13.00" height="1.80" fill="#03a141" />
<rect x="176.30" y="247.50" width="13.00" height="2.30" fill="#039b3f" />
<rect x="176.30" y="249.50" width="13.00" height="2.80" fill="#04a342" />
<rect x="176.30" y="252.00" width="13.00" height="2.30" fill="#03a041" />
<rect x="176.30" y="254.00" width="13.00" height="3.30" fill="#03a041" />
<rect x="176.30" y="257.00" width="13.00" height="1.80" fill="#187539" />
<rect x="176.30" y="258.50" width="13.00" height="1.80" fill="#039a3e" />
<rect x="176.30" y="260.00" width="13.00" height="1.80" fill="#039b3f" />
<rect x="176.30" y="261.50" width="13.00" height="3.30" fill="#04a342" />
<rect x="176.30" y="264.50" width="13.00" height="1.80" fill="#04a342" />
<rect x="176.30" y="266.00" width="13.00" height="1.80" fill="#19793b" />
<rect x="176.30" y="267.50" width="13.00" height="2.80" fill="#039b3f" />
<rect x="176.30" y="270.00" width="13.00" height="2.30" fill="#039d40" />
<rect x="176.30" y="272.00" width="13.00" height="2.30" fill="#039a3e" />
<rect x="176.30" y="274.00" width="13.00" height="1.80" fill="#04a342" />
<rect x="176.30" y="275.50" width="13.00" height="1.80" fill="#039d40" />
<rect x="176.30" y="277.00" width="13.00" height="3.30" fill="#03a041" />
<rect x="176.30" y="280.00" width="13.00" height="1.80" fill="#039a3e" />
<rect x="176.30" y="281.50" width="13.00" height="3.30" fill="#03a041" />
<rect x="176.30" y="284.50" width="13.00" height="1.80" fill="#039e40" />
<rect x="176.30" y="286.00" width="13.00" height="2.30" fill="#039c3f" />
<rect x="176.30" y="288.00" width="13.00" height="1.80" fill="#039b3f" />
<rect x="176.30" y="289.50" width="13.00" height="2.30" fill="#039d40" />
<rect x="176.30" y="291.50" width="13.00" height="3.30" fill="#039d40" />
<rect x="176.30" y="294.50" width="13.00" height="2.80" fill="#04a443" />
<rect x="176.30" y="297.00" width="13.00" height="0.80" fill="#04a543" />
<rect x="176.30" y="297.50" width="13.00" height="1.80" fill="#19753a" />
<rect x="176.30" y="299.00" width="13.00" height="2.80" fill="#19793b" />
<rect x="176.30" y="301.50" width="13.00" height="2.30" fill="#039e40" />
<rect x="176.30" y="303.50" width="13.00" height="3.30" fill="#04a342" />
<rect x="176.30" y="306.50" width="13.00" height="3.30" fill="#039a3e" />
<rect x="176.30" y="309.50" width="13.00" height="2.30" fill="#039a3f" />
<rect x="176.30" y="311.50" width="13.00" height="2.30" fill="#039d40" />
<rect x="176.30" y="313.50" width="13.00" height="1.80" fill="#03993e" />
<rect x="176.30" y="315.00" width="13.00" height="2.80" fill="#296736" />
<rect x="176.30" y="317.50" width="13.00" height="0.80" fill="#286535" />
<rect x="176.30" y="318.00" width="13.00" height="3.30" fill="#039d40" />
<rect x="176.30" y="321.00" width="13.00" height="1.80" fill="#04a443" />
<rect x="176.30" y="322.50" width="13.00" height="3.30" fill="#04a342" />
<rect x="176.30" y="325.50" width="13.00" height="2.80" fill="#03a041" />
<rect x="176.30" y="328.00" width="13.00" height="3.30" fill="#039c3f" />
<rect x="176.30" y="331.00" width="13.00" height="2.80" fill="#039d40" />
<rect x="176.30" y="333.50" width="13.00" height="3.30" fill="#039a3e" />
<rect x="176.30" y="336.50" width="13.00" height="1.80" fill="#039d40" />
<rect x="176.30" y="338.00" width="13.00" height="2.30" fill="#039c3f" />
<rect x="176.30" y="340.00" width="13.00" height="2.30" fill="#039a3f" />
<rect x="176.30" y="342.00" width="13.00" height="2.80" fill="#03a041" />
<rect x="176.30" y="344.50" width="13.00" height="2.30" fill="#03a041" />
<rect x="176.30" y="346.50" width="13.00" height="0.80" fill="#04a342" />
<rect x="176.30" y="347.00" width="13.00" height="2.30" fill="#187539" />
<rect x="176.30" y="349.00" width="13.00" height="2.80" fill="#039c3f" />
<rect x="176.30" y="351.50" width="13.00" height="0.60" fill="#039e40" />
<rect x="176.30" y="351.80" width="13.00" height="2.30" fill="#286636" />
<rect x="176.30" y="353.80" width="13.00" height="3.30" fill="#296837" />
<rect x="176.30" y="356.80" width="13.00" height="1.50" fill="#2a6b38" />
<rect x="176.30" y="358.00" width="13.00" height="2.30" fill="#3a5b38" />
<rect x="176.30" y="360.00" width="13.00" height="2.80" fill="#395937" />
<rect x="176.30" y="362.50" width="13.00" height="1.80" fill="#395937" />
<rect x="176.30" y="364.00" width="13.00" height="2.80" fill="#039f41" />
<rect x="176.30" y="366.50" width="13.00" height="3.30" fill="#03a041" />
<rect x="176.30" y="369.50" width="13.00" height="2.30" fill="#039b3f" />
<rect x="176.30" y="371.50" width="13.00" height="1.80" fill="#03a141" />
<rect x="176.30" y="373.00" width="13.00" height="1.80" fill="#03a041" />
<rect x="176.30" y="374.50" width="13.00" height="2.80" fill="#04a242" />
<rect x="176.30" y="377.00" width="13.00" height="3.30" fill="#039a3e" />
<rect x="176.30" y="380.00" width="13.00" height="2.30" fill="#039d40" />
<rect x="176.30" y="382.00" width="13.00" height="3.30" fill="#03a141" />
<rect x="176.30" y="385.00" width="13.00" height="2.30" fill="#04a242" />
<rect x="176.30" y="387.00" width="13.00" height="2.30" fill="#039d40" />
<rect x="176.30" y="389.00" width="13.00" height="1.80" fill="#039a3f" />
<rect x="176.30" y="390.50" width="13.00" height="2.80" fill="#04a342" />
<rect x="176.30" y="393.00" width="13.00" height="2.80" fill="#039c3f" />
<rect x="176.30" y="395.50" width="13.00" height="2.80" fill="#039a3f" />
<rect x="176.30" y="398.00" width="13.00" height="2.80" fill="#039b3f" />
<rect x="176.30" y="400.50" width="13.00" height="1.80" fill="#039d40" />
<rect x="176.30" y="402.00" width="13.00" height="3.30" fill="#1a7b3c" />
<rect x="176.30" y="405.00" width="13.00" height="3.30" fill="#1a7a3c" />
<rect x="176.30" y="408.00" width="13.00" height="1.30" fill="#1a7b3c" />
<rect x="176.30" y="409.00" width="13.00" height="2.30" fill="#039a3e" />
<rect x="176.30" y="411.00" width="13.00" height="2.80" fill="#04a442" />
<rect x="176.30" y="413.50" width="13.00" height="1.80" fill="#03a141" />
<rect x="176.30" y="415.00" width="13.00" height="3.30" fill="#039c3f" />
<rect x="176.30" y="418.00" width="13.00" height="3.30" fill="#039d40" />
</g>
<path d="M112.50,36.93H103.16V38.22H112.50 M112.50,35.64H100.62V37.57H103.16 M112.50,39.50H105.78V40.79H112.50 M100.62,36.61H98.91V40.15H105.78 M112.50,44.65H104.76V45.94H112.50 M112.50,43.36H102.71V45.29H104.76 M112.50,42.08H99.75V44.33H102.71 M112.50,47.22H103.38V48.51H112.50 M103.38,47.87H101.12V49.80H112.50 M112.50,51.08H104.60V52.37H112.50 M104.60,51.73H100.77V53.66H112.50 M101.12,48.83H80.00V52.69H100.77 M99.75,43.20H73.00V50.76H80.00 M112.50,56.23H103.40V57.52H112.50 M112.50,54.94H100.50V56.87H103.40 M73.00,46.98H69.50V55.91H100.50 M112.50,58.80H105.76V60.09H112.50 M105.76,59.45H102.09V61.38H112.50 M112.50,62.66H105.27V63.95H112.50 M112.50,65.24H103.82V66.52H112.50 M112.50,67.81H103.66V69.10H112.50 M103.82,65.88H98.20V68.45H103.66 M98.20,67.17H97.50V70.38H112.50 M105.27,63.31H96.30V68.77H97.50 M102.09,60.41H91.14V66.04H96.30 M112.50,71.67H104.02V72.96H112.50 M104.02,72.31H101.47V74.24H112.50 M112.50,75.53H103.81V76.82H112.50 M101.47,73.28H97.75V76.17H103.81 M112.50,78.10H103.12V79.39H112.50 M97.75,74.73H96.19V78.75H103.12 M112.50,81.96H105.12V83.25H112.50 M112.50,84.54H102.99V85.82H112.50 M105.12,82.61H98.77V85.18H102.99 M112.50,80.68H97.40V83.89H98.77 M112.50,88.40H104.83V89.68H112.50 M112.50,87.11H101.59V89.04H104.83 M97.40,82.28H94.99V88.08H101.59 M96.19,76.74H90.13V85.18H94.99 M91.14,63.23H87.01V80.96H90.13 M112.50,92.26H104.56V93.54H112.50 M112.50,90.97H100.02V92.90H104.56 M112.50,94.83H103.25V96.12H112.50 M112.50,98.69H104.90V99.98H112.50 M112.50,97.40H100.38V99.33H104.90 M103.25,95.47H97.39V98.37H100.38 M100.02,91.94H93.32V96.92H97.39 M112.50,101.26H104.10V102.55H112.50 M112.50,105.12H103.41V106.41H112.50 M112.50,103.84H102.48V105.77H103.41 M104.10,101.91H98.17V104.80H102.48 M93.32,94.43H91.01V103.35H98.17 M112.50,108.98H105.31V110.27H112.50 M112.50,107.70H100.72V109.63H105.31 M112.50,112.84H104.49V114.13H112.50 M112.50,111.56H101.74V113.49H104.49 M112.50,116.70H105.87V117.99H112.50 M112.50,115.42H99.85V117.35H105.87 M101.74,112.52H95.44V116.38H99.85 M100.72,108.66H94.49V114.45H95.44 M91.01,98.89H86.17V111.56H94.49 M112.50,119.28H105.33V120.56H112.50 M112.50,121.85H105.88V123.14H112.50 M105.33,119.92H97.92V122.49H105.88 M112.50,124.42H105.15V125.71H112.50 M105.15,125.07H102.09V127.00H112.50 M112.50,128.28H105.82V129.57H112.50 M102.09,126.03H96.71V128.93H105.82 M112.50,132.14H103.99V133.43H112.50 M112.50,130.86H100.29V132.79H103.99 M100.29,131.82H97.90V134.72H112.50 M96.71,127.48H94.24V133.27H97.90 M97.92,121.21H89.74V130.37H94.24 M112.50,136.00H103.42V137.29H112.50 M112.50,138.58H104.79V139.86H112.50 M103.42,136.65H99.03V139.22H104.79 M112.50,142.44H105.18V143.72H112.50 M112.50,141.15H102.70V143.08H105.18 M99.03,137.93H94.87V142.12H102.70 M112.50,145.01H103.78V146.30H112.50 M112.50,147.58H103.07V148.87H112.50 M103.78,145.65H99.20V148.23H103.07 M94.87,140.02H91.79V146.94H99.20 M89.74,125.79H87.23V143.48H91.79 M112.50,150.16H103.84V151.44H112.50 M103.84,150.80H102.34V152.73H112.50 M112.50,154.02H105.63V155.30H112.50 M112.50,157.88H105.33V159.16H112.50 M112.50,156.59H100.66V158.52H105.33 M105.63,154.66H99.03V157.56H100.66 M102.34,151.77H93.08V156.11H99.03 M87.23,134.64H83.10V153.94H93.08 M112.50,160.45H104.64V161.74H112.50 M112.50,163.02H104.58V164.31H112.50 M104.64,161.09H98.68V163.67H104.58 M112.50,165.60H105.01V166.88H112.50 M105.01,166.24H101.50V168.17H112.50 M112.50,169.46H104.86V170.74H112.50 M101.50,167.20H98.45V170.10H104.86 M98.68,162.38H94.49V168.65H98.45 M112.50,172.03H103.17V173.32H112.50 M112.50,174.60H103.01V175.89H112.50 M103.01,175.25H100.97V177.18H112.50 M103.17,172.67H96.60V176.21H100.97 M112.50,178.46H104.07V179.75H112.50 M112.50,181.04H103.04V182.32H112.50 M112.50,183.61H103.96V184.90H112.50 M103.04,181.68H99.78V184.25H103.96 M104.07,179.11H96.67V182.97H99.78 M96.60,174.44H90.64V181.04H96.67 M94.49,165.52H88.92V177.74H90.64 M112.50,186.18H105.64V187.47H112.50 M112.50,188.76H104.78V190.04H112.50 M105.64,186.83H98.94V189.40H104.78 M112.50,191.33H104.71V192.62H112.50 M104.71,191.97H102.48V193.90H112.50 M112.50,196.48H105.56V197.76H112.50 M105.56,197.12H100.24V199.05H112.50 M112.50,195.19H99.54V198.09H100.24 M102.48,192.94H96.28V196.64H99.54 M98.94,188.11H91.70V194.79H96.28 M88.92,171.63H85.14V191.45H91.70 M87.01,72.09H79.00V105.22H86.17 M83.10,144.29H77.50V181.54H85.14 M79.00,88.66H76.00V162.91H77.50 M112.50,200.34H104.36V201.62H112.50 M112.50,202.91H105.66V204.20H112.50 M104.36,200.98H99.46V203.55H105.66 M112.50,205.48H103.31V206.77H112.50 M112.50,208.06H103.63V209.34H112.50 M112.50,210.63H102.93V211.92H112.50 M103.63,208.70H98.52V211.27H102.93 M103.31,206.13H97.39V209.99H98.52 M99.46,202.27H91.49V208.06H97.39 M112.50,214.49H103.58V215.78H112.50 M103.58,215.13H102.42V217.06H112.50 M112.50,213.20H98.35V216.10H102.42 M112.50,222.21H104.12V223.50H112.50 M112.50,220.92H102.19V222.85H104.12 M112.50,219.64H99.78V221.89H102.19 M112.50,218.35H96.91V220.76H99.78 M98.35,214.65H93.47V219.56H96.91 M91.49,205.16H86.71V217.10H93.47 M112.50,224.78H103.66V226.07H112.50 M103.66,225.43H101.80V227.36H112.50 M101.80,226.39H98.39V228.64H112.50 M112.50,229.93H105.53V231.22H112.50 M112.50,232.50H103.69V233.79H112.50 M105.53,230.57H97.84V233.15H103.69 M98.39,227.52H93.43V231.86H97.84 M112.50,236.36H105.60V237.65H112.50 M112.50,235.08H101.18V237.01H105.60 M93.43,229.69H90.88V236.04H101.18 M112.50,238.94H105.14V240.22H112.50 M105.14,239.58H102.25V241.51H112.50 M112.50,242.80H105.56V244.08H112.50 M105.56,243.44H102.76V245.37H112.50 M112.50,247.94H105.34V249.23H112.50 M112.50,246.66H101.16V248.59H105.34 M102.76,244.41H96.83V247.62H101.16 M102.25,240.54H92.68V246.01H96.83 M90.88,232.87H87.86V243.28H92.68 M86.71,211.13H83.83V238.07H87.86 M112.50,251.80H104.39V253.09H112.50 M112.50,254.38H103.50V255.66H112.50 M104.39,252.45H100.58V255.02H103.50 M112.50,250.52H98.49V253.73H100.58 M112.50,256.95H103.86V258.24H112.50 M98.49,252.12H95.39V257.59H103.86 M112.50,260.81H103.36V262.10H112.50 M112.50,259.52H101.65V261.45H103.36 M95.39,254.86H91.36V260.49H101.65 M112.50,264.67H105.25V265.96H112.50 M112.50,263.38H100.14V265.31H105.25 M112.50,267.24H105.39V268.53H112.50 M105.39,267.89H101.74V269.82H112.50 M100.14,264.35H96.29V268.85H101.74 M91.36,257.67H88.87V266.60H96.29 M112.50,272.39H104.90V273.68H112.50 M112.50,271.10H102.76V273.03H104.90 M112.50,276.25H105.76V277.54H112.50 M112.50,274.96H102.39V276.89H105.76 M102.76,272.07H95.68V275.93H102.39 M112.50,280.11H105.11V281.40H112.50 M112.50,278.82H101.12V280.75H105.11 M112.50,282.68H105.80V283.97H112.50 M105.80,283.33H101.14V285.26H112.50 M112.50,286.54H103.28V287.83H112.50 M101.14,284.29H96.71V287.19H103.28 M101.12,279.79H93.70V285.74H96.71 M95.68,274.00H89.65V282.76H93.70 M88.87,262.14H85.03V278.38H89.65 M112.50,289.12H103.86V290.40H112.50 M103.86,289.76H101.91V291.69H112.50 M112.50,292.98H103.68V294.26H112.50 M101.91,290.73H97.51V293.62H103.68 M112.50,295.55H104.68V296.84H112.50 M112.50,299.41H104.93V300.70H112.50 M112.50,298.12H99.86V300.05H104.93 M104.68,296.19H97.59V299.09H99.86 M112.50,301.98H105.20V303.27H112.50 M112.50,304.56H105.49V305.84H112.50 M105.20,302.63H100.66V305.20H105.49 M97.59,297.64H92.13V303.91H100.66 M97.51,292.17H90.20V300.78H92.13 M85.03,270.26H82.08V296.47H90.20 M83.83,224.60H74.50V283.37H82.08 M112.50,307.13H105.00V308.42H112.50 M112.50,309.70H104.25V310.99H112.50 M112.50,312.28H104.88V313.56H112.50 M104.25,310.35H97.92V312.92H104.88 M105.00,307.77H95.95V311.63H97.92 M112.50,316.14H102.94V317.42H112.50 M112.50,314.85H101.76V316.78H102.94 M112.50,318.71H105.70V320.00H112.50 M112.50,321.28H103.20V322.57H112.50 M105.70,319.35H99.85V321.93H103.20 M112.50,325.14H105.41V326.43H112.50 M112.50,323.86H102.02V325.79H105.41 M99.85,320.64H94.46V324.82H102.02 M101.76,315.81H93.33V322.73H94.46 M95.95,309.70H89.40V319.27H93.33 M112.50,327.72H105.31V329.00H112.50 M105.31,328.36H100.62V330.29H112.50 M112.50,331.58H104.10V332.86H112.50 M100.62,329.33H98.80V332.22H104.10 M112.50,334.15H105.34V335.44H112.50 M112.50,336.72H103.27V338.01H112.50 M105.34,334.79H98.76V337.37H103.27 M112.50,339.30H105.26V340.58H112.50 M98.76,336.08H96.72V339.94H105.26 M112.50,341.87H104.68V343.16H112.50 M104.68,342.51H100.79V344.44H112.50 M96.72,338.01H93.73V343.48H100.79 M98.80,330.77H91.39V340.74H93.73 M89.40,314.49H84.88V335.76H91.39 M112.50,345.73H104.11V347.02H112.50 M112.50,348.30H104.51V349.59H112.50 M104.11,346.37H100.64V348.95H104.51 M112.50,350.88H102.94V352.16H112.50 M102.94,351.52H102.24V353.45H112.50 M100.64,347.66H94.73V352.49H102.24 M112.50,357.31H103.60V358.60H112.50 M112.50,356.02H102.56V357.95H103.60 M112.50,354.74H98.24V356.99H102.56 M112.50,359.88H104.24V361.17H112.50 M104.24,360.53H100.85V362.46H112.50 M112.50,363.74H103.68V365.03H112.50 M103.68,364.39H102.05V366.32H112.50 M100.85,361.49H95.56V365.35H102.05 M98.24,355.86H91.69V363.42H95.56 M112.50,367.60H102.97V368.89H112.50 M112.50,370.18H105.07V371.46H112.50 M102.97,368.25H99.11V370.82H105.07 M112.50,372.75H105.87V374.04H112.50 M105.87,373.39H101.40V375.32H112.50 M99.11,369.53H94.60V374.36H101.40 M91.69,359.64H87.84V371.95H94.60 M94.73,350.07H86.62V365.79H87.84 M112.50,377.90H105.50V379.18H112.50 M112.50,376.61H102.65V378.54H105.50 M102.65,377.57H99.18V380.47H112.50 M112.50,383.04H104.80V384.33H112.50 M112.50,381.76H102.38V383.69H104.80 M112.50,386.90H103.14V388.19H112.50 M112.50,385.62H102.34V387.55H103.14 M102.38,382.72H97.61V386.58H102.34 M99.18,379.02H91.65V384.65H97.61 M112.50,390.76H104.40V392.05H112.50 M112.50,389.48H100.92V391.41H104.40 M91.65,381.84H90.95V390.44H100.92 M112.50,394.62H105.58V395.91H112.50 M112.50,393.34H100.63V395.27H105.58 M112.50,398.48H103.31V399.77H112.50 M103.31,399.13H102.61V401.06H112.50 M112.50,397.20H98.99V400.09H102.61 M100.63,394.30H95.34V398.64H98.99 M112.50,402.34H105.23V403.63H112.50 M105.23,402.99H102.07V404.92H112.50 M102.07,403.95H99.89V406.20H112.50 M95.34,396.47H91.99V405.08H99.89 M112.50,408.78H105.00V410.06H112.50 M105.00,409.42H99.84V411.35H112.50 M112.50,407.49H99.14V410.38H99.84 M112.50,413.92H105.10V415.21H112.50 M105.10,414.57H100.57V416.50H112.50 M112.50,412.64H98.21V415.53H100.57 M112.50,419.07H104.44V420.36H112.50 M112.50,417.78H100.15V419.71H104.44 M98.21,414.08H96.08V418.75H100.15 M99.14,408.94H91.24V416.42H96.08 M91.99,400.78H79.50V412.68H91.24 M90.95,386.14H74.20V406.73H79.50 M84.88,325.12H78.20V357.93H86.62 M78.20,341.53H69.90V396.43H74.20 M74.50,253.98H68.00V368.98H69.90 M76.00,125.79H65.80V311.48H68.00 M69.50,51.45H65.20V218.63H65.80 M66.50,37.20H28.50V124.30H65.20" stroke="#000" stroke-width="1.15" fill="none"/>
<polygon points="112.80,35.20 77.00,35.20 77.50,40.30 84.00,41.30 91.00,43.00 96.00,44.50 99.17,44.00 102.47,46.21 99.55,48.25 97.29,50.50 100.41,52.62 96.66,55.25 96.63,57.00 100.85,59.66 102.88,60.93 100.58,63.87 97.10,66.18 99.70,67.40 97.33,68.71 96.21,70.34 99.08,72.38 99.63,75.10 99.50,77.45 99.20,79.84 102.98,81.54 101.88,84.53 98.21,87.01 98.02,88.62 101.36,89.95 101.93,91.87 102.71,93.76 96.00,96.49 102.37,98.07 102.86,100.11 96.51,102.03 101.45,104.36 96.61,106.05 102.75,107.85 96.83,110.41 96.71,112.05 101.58,113.36 99.92,114.88 97.33,116.89 96.92,119.40 96.82,121.76 97.49,123.72 102.80,125.41 98.13,128.05 97.47,130.84 101.98,132.75 96.70,135.11 97.49,138.09 101.41,139.76 98.07,141.55 96.63,142.88 97.70,145.13 98.60,147.41 102.71,149.43 100.02,151.50 97.28,154.26 102.36,155.73 97.75,158.41 101.18,159.95 97.38,162.84 102.18,165.75 98.95,168.04 96.27,169.42 97.67,172.36 97.80,174.83 100.18,177.51 97.23,179.24 96.48,181.73 99.92,183.34 100.30,186.08 102.42,187.78 96.12,189.35 99.12,191.03 97.23,192.34 100.01,194.21 98.54,195.64 102.86,198.45 100.84,200.83 96.98,203.08 96.13,204.35 100.91,207.18 96.15,210.12 99.38,212.46 98.23,214.98 96.53,217.98 101.16,220.16 101.16,222.98 101.55,225.45 98.46,228.29 102.31,230.73 98.92,233.49 102.04,236.12 100.37,238.35 100.08,240.24 96.56,242.53 102.95,244.88 101.10,247.67 101.15,249.57 99.08,251.81 96.59,254.52 96.21,257.07 99.37,259.35 100.89,260.97 100.30,263.06 97.79,265.92 98.11,267.14 97.42,269.56 102.34,271.07 99.09,273.45 98.29,276.26 97.39,278.66 101.64,280.63 102.16,283.48 100.08,285.37 96.95,287.14 101.86,289.23 100.98,291.96 97.94,294.87 99.15,296.38 97.50,298.07 100.38,300.02 98.21,302.11 102.87,304.82 96.52,306.83 102.11,308.09 100.96,309.36 98.16,311.59 96.13,314.21 99.18,315.66 101.81,316.90 96.99,318.53 100.40,319.81 100.41,321.82 101.65,324.20 100.79,327.12 99.33,328.68 96.08,330.20 101.00,332.25 97.91,333.78 100.88,335.60 100.30,337.73 98.75,340.30 102.34,342.92 102.53,344.28 96.91,346.78 100.38,348.79 98.64,351.63 102.16,353.86 102.61,356.49 100.56,358.53 101.05,360.09 100.49,362.77 97.49,365.26 102.86,368.08 99.76,371.04 98.24,373.66 101.99,376.50 96.58,378.33 99.85,380.32 99.41,382.90 101.66,384.15 101.60,385.47 98.35,386.98 96.98,389.60 99.62,391.07 101.88,393.57 102.62,396.01 102.64,398.10 97.55,399.45 98.03,401.60 100.47,404.11 101.91,406.25 98.18,408.46 101.92,410.35 97.46,413.17 102.78,415.90 100.01,418.04 99.75,419.60 97.00,421.00 112.80,421.00" fill="#000"/>
<rect x="66.5" y="36.2" width="11" height="1.4" fill="#888"/><rect x="68" y="38.6" width="10" height="1.4" fill="#999"/>
<line x1="112.70" y1="27.70" x2="144.30" y2="27.70" stroke="#333" stroke-width="1.3" />
<line x1="151.00" y1="27.70" x2="182.80" y2="27.70" stroke="#333" stroke-width="1.3" />
<text x="127.00" y="26.40" font-family="Liberation Serif" font-size="8.1" fill="#000" font-weight="bold" transform="rotate(-31 127.00 26.40)" >Tumor</text>
<text x="165.80" y="26.40" font-family="Liberation Serif" font-size="8.1" fill="#000" font-weight="bold" transform="rotate(-32 165.80 26.40)" >Para-tumor</text>
<rect x="197.40" y="34.60" width="15.80" height="239.20" fill="url(#cbA)" />
<text x="220.00" y="61.20" font-family="Liberation Serif" font-size="15.3" fill="#000" >1.5</text>
<text x="220.00" y="93.70" font-family="Liberation Serif" font-size="15.3" fill="#000" >1</text>
<text x="220.00" y="127.10" font-family="Liberation Serif" font-size="15.3" fill="#000" >0.5</text>
<text x="220.00" y="160.20" font-family="Liberation Serif" font-size="15.3" fill="#000" >0</text>
<text x="220.00" y="193.30" font-family="Liberation Serif" font-size="15.3" fill="#000" >−0.5</text>
<text x="220.00" y="226.70" font-family="Liberation Serif" font-size="15.3" fill="#000" >−1</text>
<text x="220.00" y="259.90" font-family="Liberation Serif" font-size="15.3" fill="#000" >−1.5</text>
<text x="299.00" y="18.60" font-family="Liberation Serif" font-size="13.0" fill="#000" font-weight="bold" >B</text>
<pattern id="livtex" width="2.6" height="2.4" patternUnits="userSpaceOnUse"><rect width="2.6" height="2.4" fill="#8c2b30"/><circle cx="1.3" cy="1.2" r="0.75" fill="#741f26" opacity="0.7"/></pattern>
<path d="M346.50,15.40 C348.07,14.38 349.92,13.62 352.60,13.20 C355.28,12.78 359.27,12.72 362.60,12.90 C365.93,13.08 370.20,13.88 372.60,14.30 C375.00,14.72 375.33,15.12 377.00,15.40 C378.67,15.68 380.18,16.08 382.60,16.00 C385.02,15.92 388.53,15.27 391.50,14.90 C394.47,14.53 398.18,13.80 400.40,13.80 C402.62,13.80 403.85,13.98 404.80,14.90 C405.75,15.82 406.28,17.27 406.10,19.30 C405.92,21.33 405.03,24.88 403.70,27.10 C402.37,29.32 400.13,31.12 398.10,32.60 C396.07,34.08 393.90,34.88 391.50,36.00 C389.10,37.12 385.92,38.47 383.70,39.30 C381.48,40.13 380.05,40.27 378.20,41.00 C376.35,41.73 374.08,42.50 372.60,43.70 C371.12,44.90 370.40,46.35 369.30,48.20 C368.20,50.05 367.12,53.15 366.00,54.80 C364.88,56.45 363.82,57.55 362.60,58.10 C361.38,58.65 359.72,58.47 358.70,58.10 C357.68,57.73 357.32,57.18 356.50,55.90 C355.68,54.62 355.18,52.80 353.80,50.40 C352.42,48.00 349.87,44.28 348.20,41.50 C346.53,38.72 344.77,36.28 343.80,33.70 C342.83,31.12 342.50,28.40 342.40,26.00 C342.30,23.60 342.52,21.07 343.20,19.30 C343.88,17.53 344.93,16.42 346.50,15.40Z" fill="url(#livtex)" stroke="#7a2228" stroke-width="0.8"/>
<path d="M375.7,16.5 Q376.8,28 378.2,40.4" stroke="#b87a66" stroke-width="1.0" fill="none"/>
<circle cx="363.2" cy="18.8" r="3.2" fill="#e6de12"/>
<circle cx="349.9" cy="25.4" r="3.2" fill="#e6de12"/>
<circle cx="359.1" cy="26.5" r="3.2" fill="#e6de12"/>
<circle cx="367.6" cy="28" r="3.2" fill="#e6de12"/>
<circle cx="355.1" cy="32.6" r="3.2" fill="#e6de12"/>
<circle cx="366.2" cy="35.7" r="3.2" fill="#e6de12"/>
<circle cx="353.5" cy="38.4" r="3.2" fill="#e6de12"/>
<circle cx="359.3" cy="42.3" r="3.2" fill="#e6de12"/>
<circle cx="384" cy="21.2" r="3.2" fill="#e6de12"/>
<circle cx="391.1" cy="21.3" r="3.2" fill="#e6de12"/>
<circle cx="385.4" cy="29.1" r="3.2" fill="#e6de12"/>
<circle cx="393.9" cy="30.4" r="3.2" fill="#e6de12"/>
<text x="326.70" y="72.00" font-family="Liberation Serif" font-size="13.4" fill="#000" font-weight="bold" textLength="43.3" lengthAdjust="spacingAndGlyphs" >Human</text>
<text x="305.40" y="88.10" font-family="Liberation Serif" font-size="13.4" fill="#000" font-weight="bold" textLength="82.0" lengthAdjust="spacingAndGlyphs" >NAFLD-HCC</text>
<line x1="388.50" y1="57.80" x2="407.96" y2="77.92" stroke="#111" stroke-width="1.2" />
<polyline points="404.67,77.76 409.00,79.00 407.91,74.63" stroke="#111" stroke-width="1.2" fill="none"/>
<line x1="559.70" y1="54.20" x2="534.26" y2="79.64" stroke="#111" stroke-width="1.2" />
<polyline points="534.36,76.35 533.20,80.70 537.55,79.54" stroke="#111" stroke-width="1.2" fill="none"/>
<path d="M580.8,17.5 C578,12 572,9.8 566,11.2 C560,12.6 556,17.5 552.5,19.2 C550.5,20.2 548.5,20.2 547.6,19.6" stroke="#555" stroke-width="2.2" fill="none" stroke-linecap="round"/>
<path d="M580.8,17.5 C578,12 572,9.8 566,11.2 C560,12.6 556,17.5 552.5,19.2 C550.5,20.2 548.5,20.2 547.6,19.6" stroke="#aaa" stroke-width="1.0" fill="none" stroke-linecap="round"/>
<path d="M564.3,33 C564,22 571,17 580,17 C589,17 596,22 595.7,33 L597,39 C597,44 594,45 592,45 L582,55.5 Q580,57.5 578,55.5 L567.8,45 C565.5,45 562,44 562,39 Z" fill="#bebebe" stroke="#4a4a4a" stroke-width="0.8"/>
<ellipse cx="568.6" cy="38" rx="7" ry="6.3" fill="#bdbdbd" stroke="#4a4a4a" stroke-width="0.8"/>
<ellipse cx="590.5" cy="38" rx="7" ry="6.3" fill="#bdbdbd" stroke="#4a4a4a" stroke-width="0.8"/>
<path d="M563.2,39.5 A5.6,5.2 0 0 1 574.6,39.8" stroke="#7a7a7a" stroke-width="1.7" fill="none"/>
<path d="M584.6,39.8 A5.6,5.2 0 0 1 596.0,39.5" stroke="#7a7a7a" stroke-width="1.7" fill="none"/>
<path d="M574.6,39.8 L574.8,41.5 M584.6,39.8 L584.4,41.5" stroke="#4a4a4a" stroke-width="0.6" fill="none"/>
<path d="M567.8,44.6 L578,55.5 Q580,57.5 582,55.5 L592.3,44.6 L590,43 C586,41 574,41 570,43 Z" fill="#bebebe"/>
<path d="M567.8,44.6 L578,55.5 Q580,57.5 582,55.5 L592.3,44.6" fill="none" stroke="#4a4a4a" stroke-width="0.8"/>
<circle cx="575.2" cy="48.3" r="1.3" fill="#222"/><circle cx="584" cy="48.3" r="1.3" fill="#222"/>
<path d="M574.5,52.5 Q580,54.5 585.5,52.5 L582,56.5 Q580,58 578,56.5Z" fill="#555"/>
<path d="M577.5,54 Q580,55 582.5,54 L581,56.3 Q580,57.2 579,56.3Z" fill="#111"/>
<path d="M577,53.5 L566,52 M577,54.5 L567,56.5 M577.5,55 L570,58.5 M583,53.5 L594,52 M583,54.5 L593,56.5 M582.5,55 L590,58.5" stroke="#444" stroke-width="0.5" fill="none"/>
<text x="584.50" y="72.30" font-family="Liberation Serif" font-size="13.4" fill="#000" font-weight="bold" textLength="27.7" lengthAdjust="spacingAndGlyphs" >Mice</text>
<text x="553.70" y="88.60" font-family="Liberation Serif" font-size="13.4" fill="#000" font-weight="bold" textLength="81.9" lengthAdjust="spacingAndGlyphs" >NAFLD-HCC</text>
<circle cx="448.7" cy="118" r="39.4" fill="#7d7dfb" stroke="#111" stroke-width="1"/>
<circle cx="500.0" cy="118" r="39.4" fill="#fdfd80" stroke="#111" stroke-width="1"/>
<clipPath id="vclip"><circle cx="448.7" cy="118" r="39.4"/></clipPath>
<circle cx="500.0" cy="118" r="39.4" fill="#bcb882" clip-path="url(#vclip)"/>
<circle cx="448.7" cy="118" r="39.4" fill="none" stroke="#111" stroke-width="1"/>
<circle cx="500.0" cy="118" r="39.4" fill="none" stroke="#111" stroke-width="1"/>
<text x="439.80" y="120.30" font-family="Liberation Serif" font-size="6.6" fill="#222" text-anchor="middle" >6031</text>
<text x="474.40" y="120.30" font-family="Liberation Serif" font-size="6.6" fill="#222" text-anchor="middle" >17</text>
<text x="508.40" y="120.30" font-family="Liberation Serif" font-size="6.6" fill="#222" text-anchor="middle" >953</text>
<path d="M470.2,156.5 H478.4 V165.5 H481.5 L474.3,173.2 L467,165.5 H470.2 Z" fill="#ef8a22"/>
<text x="440.90" y="190.30" font-family="Liberation Serif" font-size="14.0" fill="#000" font-weight="bold" textLength="68.2" lengthAdjust="spacingAndGlyphs" >LINC01468</text>
<text x="342.90" y="221.70" font-family="Liberation Serif" font-size="12.6" fill="#000" font-weight="bold" >C</text>
<rect x="417.10" y="257.90" width="12.85" height="7.90" fill="#a9c7d6" stroke="#9a9a9a" stroke-width="0.8" />
<rect x="429.95" y="257.90" width="12.85" height="7.90" fill="#a9c7d6" stroke="#9a9a9a" stroke-width="0.8" />
<rect x="442.80" y="257.90" width="12.85" height="7.90" fill="#a6c4d4" stroke="#9a9a9a" stroke-width="0.8" />
<rect x="455.65" y="257.90" width="12.85" height="7.90" fill="#f08a5a" stroke="#9a9a9a" stroke-width="0.8" />
<rect x="468.50" y="257.90" width="12.85" height="7.90" fill="#f5c07a" stroke="#9a9a9a" stroke-width="0.8" />
<rect x="481.35" y="257.90" width="12.85" height="7.90" fill="#f08a5a" stroke="#9a9a9a" stroke-width="0.8" />
<rect x="417.10" y="265.80" width="12.85" height="7.90" fill="#a6c4d4" stroke="#9a9a9a" stroke-width="0.8" />
<rect x="429.95" y="265.80" width="12.85" height="7.90" fill="#b0cfdc" stroke="#9a9a9a" stroke-width="0.8" />
<rect x="442.80" y="265.80" width="12.85" height="7.90" fill="#a9c7d6" stroke="#9a9a9a" stroke-width="0.8" />
<rect x="455.65" y="265.80" width="12.85" height="7.90" fill="#ec7050" stroke="#9a9a9a" stroke-width="0.8" />
<rect x="468.50" y="265.80" width="12.85" height="7.90" fill="#f8d890" stroke="#9a9a9a" stroke-width="0.8" />
<rect x="481.35" y="265.80" width="12.85" height="7.90" fill="#f39060" stroke="#9a9a9a" stroke-width="0.8" />
<rect x="417.10" y="273.70" width="12.85" height="7.90" fill="#b0cfdc" stroke="#9a9a9a" stroke-width="0.8" />
<rect x="429.95" y="273.70" width="12.85" height="7.90" fill="#b0cfdc" stroke="#9a9a9a" stroke-width="0.8" />
<rect x="442.80" y="273.70" width="12.85" height="7.90" fill="#a6c4d4" stroke="#9a9a9a" stroke-width="0.8" />
<rect x="455.65" y="273.70" width="12.85" height="7.90" fill="#e06048" stroke="#9a9a9a" stroke-width="0.8" />
<rect x="468.50" y="273.70" width="12.85" height="7.90" fill="#f5b070" stroke="#9a9a9a" stroke-width="0.8" />
<rect x="481.35" y="273.70" width="12.85" height="7.90" fill="#f8d890" stroke="#9a9a9a" stroke-width="0.8" />
<rect x="417.10" y="281.60" width="12.85" height="7.90" fill="#d0e4ea" stroke="#9a9a9a" stroke-width="0.8" />
<rect x="429.95" y="281.60" width="12.85" height="7.90" fill="#b0cfdc" stroke="#9a9a9a" stroke-width="0.8" />
<rect x="442.80" y="281.60" width="12.85" height="7.90" fill="#a9c7d6" stroke="#9a9a9a" stroke-width="0.8" />
<rect x="455.65" y="281.60" width="12.85" height="7.90" fill="#c83a30" stroke="#9a9a9a" stroke-width="0.8" />
<rect x="468.50" y="281.60" width="12.85" height="7.90" fill="#f8d090" stroke="#9a9a9a" stroke-width="0.8" />
<rect x="481.35" y="281.60" width="12.85" height="7.90" fill="#f8e0a0" stroke="#9a9a9a" stroke-width="0.8" />
<rect x="417.10" y="289.50" width="12.85" height="7.90" fill="#bcd7e0" stroke="#9a9a9a" stroke-width="0.8" />
<rect x="429.95" y="289.50" width="12.85" height="7.90" fill="#b8d4df" stroke="#9a9a9a" stroke-width="0.8" />
<rect x="442.80" y="289.50" width="12.85" height="7.90" fill="#b0cfdc" stroke="#9a9a9a" stroke-width="0.8" />
<rect x="455.65" y="289.50" width="12.85" height="7.90" fill="#c83a30" stroke="#9a9a9a" stroke-width="0.8" />
<rect x="468.50" y="289.50" width="12.85" height="7.90" fill="#f8d090" stroke="#9a9a9a" stroke-width="0.8" />
<rect x="481.35" y="289.50" width="12.85" height="7.90" fill="#f5e5a0" stroke="#9a9a9a" stroke-width="0.8" />
<rect x="417.10" y="297.40" width="12.85" height="7.90" fill="#bcd7e0" stroke="#9a9a9a" stroke-width="0.8" />
<rect x="429.95" y="297.40" width="12.85" height="7.90" fill="#b8d4df" stroke="#9a9a9a" stroke-width="0.8" />
<rect x="442.80" y="297.40" width="12.85" height="7.90" fill="#b0cfdc" stroke="#9a9a9a" stroke-width="0.8" />
<rect x="455.65" y="297.40" width="12.85" height="7.90" fill="#c83a30" stroke="#9a9a9a" stroke-width="0.8" />
<rect x="468.50" y="297.40" width="12.85" height="7.90" fill="#f5c080" stroke="#9a9a9a" stroke-width="0.8" />
<rect x="481.35" y="297.40" width="12.85" height="7.90" fill="#f5e5a0" stroke="#9a9a9a" stroke-width="0.8" />
<rect x="417.10" y="305.30" width="12.85" height="7.90" fill="#b5d2dd" stroke="#9a9a9a" stroke-width="0.8" />
<rect x="429.95" y="305.30" width="12.85" height="7.90" fill="#c5dce5" stroke="#9a9a9a" stroke-width="0.8" />
<rect x="442.80" y="305.30" width="12.85" height="7.90" fill="#c0d9e2" stroke="#9a9a9a" stroke-width="0.8" />
<rect x="455.65" y="305.30" width="12.85" height="7.90" fill="#e06048" stroke="#9a9a9a" stroke-width="0.8" />
<rect x="468.50" y="305.30" width="12.85" height="7.90" fill="#f08a5a" stroke="#9a9a9a" stroke-width="0.8" />
<rect x="481.35" y="305.30" width="12.85" height="7.90" fill="#e8f0d0" stroke="#9a9a9a" stroke-width="0.8" />
<rect x="417.10" y="313.20" width="12.85" height="7.90" fill="#90b3cb" stroke="#9a9a9a" stroke-width="0.8" />
<rect x="429.95" y="313.20" width="12.85" height="7.90" fill="#b0cfdc" stroke="#9a9a9a" stroke-width="0.8" />
<rect x="442.80" y="313.20" width="12.85" height="7.90" fill="#e8f0d0" stroke="#9a9a9a" stroke-width="0.8" />
<rect x="455.65" y="313.20" width="12.85" height="7.90" fill="#e06048" stroke="#9a9a9a" stroke-width="0.8" />
<rect x="468.50" y="313.20" width="12.85" height="7.90" fill="#f39060" stroke="#9a9a9a" stroke-width="0.8" />
<rect x="481.35" y="313.20" width="12.85" height="7.90" fill="#f5f0b0" stroke="#9a9a9a" stroke-width="0.8" />
<rect x="417.10" y="321.10" width="12.85" height="7.90" fill="#bcd7e0" stroke="#9a9a9a" stroke-width="0.8" />
<rect x="429.95" y="321.10" width="12.85" height="7.90" fill="#c0d9e2" stroke="#9a9a9a" stroke-width="0.8" />
<rect x="442.80" y="321.10" width="12.85" height="7.90" fill="#b5d2dd" stroke="#9a9a9a" stroke-width="0.8" />
<rect x="455.65" y="321.10" width="12.85" height="7.90" fill="#f8f0b0" stroke="#9a9a9a" stroke-width="0.8" />
<rect x="468.50" y="321.10" width="12.85" height="7.90" fill="#f8d090" stroke="#9a9a9a" stroke-width="0.8" />
<rect x="481.35" y="321.10" width="12.85" height="7.90" fill="#c83a30" stroke="#9a9a9a" stroke-width="0.8" />
<rect x="417.10" y="329.00" width="12.85" height="7.90" fill="#b0cfdc" stroke="#9a9a9a" stroke-width="0.8" />
<rect x="429.95" y="329.00" width="12.85" height="7.90" fill="#b5d2dd" stroke="#9a9a9a" stroke-width="0.8" />
<rect x="442.80" y="329.00" width="12.85" height="7.90" fill="#a9c7d6" stroke="#9a9a9a" stroke-width="0.8" />
<rect x="455.65" y="329.00" width="12.85" height="7.90" fill="#f8e8a0" stroke="#9a9a9a" stroke-width="0.8" />
<rect x="468.50" y="329.00" width="12.85" height="7.90" fill="#f5b070" stroke="#9a9a9a" stroke-width="0.8" />
<rect x="481.35" y="329.00" width="12.85" height="7.90" fill="#d85040" stroke="#9a9a9a" stroke-width="0.8" />
<rect x="417.10" y="336.90" width="12.85" height="7.90" fill="#b0cfdc" stroke="#9a9a9a" stroke-width="0.8" />
<rect x="429.95" y="336.90" width="12.85" height="7.90" fill="#b8d4df" stroke="#9a9a9a" stroke-width="0.8" />
<rect x="442.80" y="336.90" width="12.85" height="7.90" fill="#a9c7d6" stroke="#9a9a9a" stroke-width="0.8" />
<rect x="455.65" y="336.90" width="12.85" height="7.90" fill="#f5b070" stroke="#9a9a9a" stroke-width="0.8" />
<rect x="468.50" y="336.90" width="12.85" height="7.90" fill="#f8e0a0" stroke="#9a9a9a" stroke-width="0.8" />
<rect x="481.35" y="336.90" width="12.85" height="7.90" fill="#d85040" stroke="#9a9a9a" stroke-width="0.8" />
<rect x="417.10" y="344.80" width="12.85" height="7.90" fill="#7ea3c3" stroke="#9a9a9a" stroke-width="0.8" />
<rect x="429.95" y="344.80" width="12.85" height="7.90" fill="#e0efe6" stroke="#9a9a9a" stroke-width="0.8" />
<rect x="442.80" y="344.80" width="12.85" height="7.90" fill="#c0d9e2" stroke="#9a9a9a" stroke-width="0.8" />
<rect x="455.65" y="344.80" width="12.85" height="7.90" fill="#f8d090" stroke="#9a9a9a" stroke-width="0.8" />
<rect x="468.50" y="344.80" width="12.85" height="7.90" fill="#f5c880" stroke="#9a9a9a" stroke-width="0.8" />
<rect x="481.35" y="344.80" width="12.85" height="7.90" fill="#e06048" stroke="#9a9a9a" stroke-width="0.8" />
<rect x="417.10" y="352.70" width="12.85" height="7.90" fill="#f8f0b0" stroke="#9a9a9a" stroke-width="0.8" />
<rect x="429.95" y="352.70" width="12.85" height="7.90" fill="#90b3cb" stroke="#9a9a9a" stroke-width="0.8" />
<rect x="442.80" y="352.70" width="12.85" height="7.90" fill="#90b3cb" stroke="#9a9a9a" stroke-width="0.8" />
<rect x="455.65" y="352.70" width="12.85" height="7.90" fill="#f5c080" stroke="#9a9a9a" stroke-width="0.8" />
<rect x="468.50" y="352.70" width="12.85" height="7.90" fill="#e06048" stroke="#9a9a9a" stroke-width="0.8" />
<rect x="481.35" y="352.70" width="12.85" height="7.90" fill="#f8e8a0" stroke="#9a9a9a" stroke-width="0.8" />
<rect x="417.10" y="360.60" width="12.85" height="7.90" fill="#b8d4df" stroke="#9a9a9a" stroke-width="0.8" />
<rect x="429.95" y="360.60" width="12.85" height="7.90" fill="#b5d2dd" stroke="#9a9a9a" stroke-width="0.8" />
<rect x="442.80" y="360.60" width="12.85" height="7.90" fill="#b0cfdc" stroke="#9a9a9a" stroke-width="0.8" />
<rect x="455.65" y="360.60" width="12.85" height="7.90" fill="#f8f5c0" stroke="#9a9a9a" stroke-width="0.8" />
<rect x="468.50" y="360.60" width="12.85" height="7.90" fill="#ec7050" stroke="#9a9a9a" stroke-width="0.8" />
<rect x="481.35" y="360.60" width="12.85" height="7.90" fill="#ec7050" stroke="#9a9a9a" stroke-width="0.8" />
<rect x="417.10" y="368.50" width="12.85" height="7.90" fill="#e0efe6" stroke="#9a9a9a" stroke-width="0.8" />
<rect x="429.95" y="368.50" width="12.85" height="7.90" fill="#a9c7d6" stroke="#9a9a9a" stroke-width="0.8" />
<rect x="442.80" y="368.50" width="12.85" height="7.90" fill="#b0cfdc" stroke="#9a9a9a" stroke-width="0.8" />
<rect x="455.65" y="368.50" width="12.85" height="7.90" fill="#f0f5c8" stroke="#9a9a9a" stroke-width="0.8" />
<rect x="468.50" y="368.50" width="12.85" height="7.90" fill="#f08a5a" stroke="#9a9a9a" stroke-width="0.8" />
<rect x="481.35" y="368.50" width="12.85" height="7.90" fill="#e06048" stroke="#9a9a9a" stroke-width="0.8" />
<rect x="417.10" y="376.40" width="12.85" height="7.90" fill="#a9c7d6" stroke="#9a9a9a" stroke-width="0.8" />
<rect x="429.95" y="376.40" width="12.85" height="7.90" fill="#a6c4d4" stroke="#9a9a9a" stroke-width="0.8" />
<rect x="442.80" y="376.40" width="12.85" height="7.90" fill="#b0cfdc" stroke="#9a9a9a" stroke-width="0.8" />
<rect x="455.65" y="376.40" width="12.85" height="7.90" fill="#f8d890" stroke="#9a9a9a" stroke-width="0.8" />
<rect x="468.50" y="376.40" width="12.85" height="7.90" fill="#ec7050" stroke="#9a9a9a" stroke-width="0.8" />
<rect x="481.35" y="376.40" width="12.85" height="7.90" fill="#f39060" stroke="#9a9a9a" stroke-width="0.8" />
<rect x="417.10" y="384.30" width="12.85" height="7.90" fill="#b5d2dd" stroke="#9a9a9a" stroke-width="0.8" />
<rect x="429.95" y="384.30" width="12.85" height="7.90" fill="#b0cfdc" stroke="#9a9a9a" stroke-width="0.8" />
<rect x="442.80" y="384.30" width="12.85" height="7.90" fill="#a9c7d6" stroke="#9a9a9a" stroke-width="0.8" />
<rect x="455.65" y="384.30" width="12.85" height="7.90" fill="#f8e0a0" stroke="#9a9a9a" stroke-width="0.8" />
<rect x="468.50" y="384.30" width="12.85" height="7.90" fill="#d85040" stroke="#9a9a9a" stroke-width="0.8" />
<rect x="481.35" y="384.30" width="12.85" height="7.90" fill="#f5c880" stroke="#9a9a9a" stroke-width="0.8" />
<path d="M436.38,257.90V254.40H449.23V257.90 M423.53,257.90V249.20H442.80V254.40 M474.93,257.90V239.20H487.78V257.90 M462.08,257.90V230.60H481.35V239.20 M433.16,249.20V216.50H471.71V230.60" stroke="#444" stroke-width="0.8" fill="none"/>
<path d="M417.10,261.85H412.00V269.75H417.10 M417.10,293.45H415.70V301.35H417.10 M417.10,285.55H414.40V297.40H415.70 M417.10,277.65H407.30V291.47H414.40 M417.10,309.25H407.30V317.15H417.10 M407.30,284.56H400.50V313.20H407.30 M412.00,265.80H391.60V298.88H400.50 M417.10,325.05H408.60V332.95H417.10 M417.10,340.85H404.60V348.75H417.10 M408.60,329.00H401.80V344.80H404.60 M417.10,364.55H411.00V372.45H417.10 M417.10,380.35H408.30V388.25H417.10 M411.00,368.50H398.40V384.30H408.30 M417.10,356.65H388.20V376.40H398.40 M401.80,336.90H378.60V366.52H388.20 M391.60,282.34H372.40V351.71H378.60" stroke="#444" stroke-width="0.8" fill="none"/>
<text x="496.60" y="263.90" font-family="Liberation Serif" font-size="8.1" fill="#e8282a" textLength="39.3" lengthAdjust="spacingAndGlyphs" >LINC01468</text>
<text x="496.80" y="271.45" font-family="Liberation Sans" font-size="4.6" fill="#333" >ENST00000431924.2</text>
<text x="496.80" y="279.35" font-family="Liberation Sans" font-size="4.6" fill="#333" >RNA146969|p0073_imoncRNA135</text>
<text x="496.80" y="287.25" font-family="Liberation Sans" font-size="4.6" fill="#333" >ENST00000511323.1</text>
<text x="496.80" y="295.15" font-family="Liberation Sans" font-size="4.6" fill="#333" >uc002tyw.3</text>
<text x="496.80" y="303.05" font-family="Liberation Sans" font-size="4.6" fill="#333" >TCONS_00010039</text>
<text x="496.80" y="310.95" font-family="Liberation Sans" font-size="4.6" fill="#333" >ENST00000452377.1</text>
<text x="496.80" y="318.85" font-family="Liberation Sans" font-size="4.6" fill="#333" >ENST00000513755.1</text>
<text x="496.80" y="326.75" font-family="Liberation Sans" font-size="4.6" fill="#333" >ENST00000514752.1</text>
<text x="496.80" y="334.65" font-family="Liberation Sans" font-size="4.6" fill="#333" >TCONS_00015327</text>
<text x="496.80" y="342.55" font-family="Liberation Sans" font-size="4.6" fill="#333" >ENST00000437372.1</text>
<text x="496.80" y="350.45" font-family="Liberation Sans" font-size="4.6" fill="#333" >ENST00000436042.1</text>
<text x="496.80" y="358.35" font-family="Liberation Sans" font-size="4.6" fill="#333" >uc022cab.1</text>
<text x="496.80" y="366.25" font-family="Liberation Sans" font-size="4.6" fill="#333" >ENST00000591223.1</text>
<text x="496.80" y="374.15" font-family="Liberation Sans" font-size="4.6" fill="#333" >ENST00000438380.1</text>
<text x="496.80" y="382.05" font-family="Liberation Sans" font-size="4.6" fill="#333" >uc002bkc.3</text>
<text x="496.80" y="389.95" font-family="Liberation Sans" font-size="4.6" fill="#333" >ENST00000609242.1</text>
<text x="421.93" y="394.00" font-family="Liberation Sans" font-size="4.6" fill="#444" transform="rotate(90 421.93 394.00)" >P1</text>
<text x="434.77" y="394.00" font-family="Liberation Sans" font-size="4.6" fill="#444" transform="rotate(90 434.77 394.00)" >P2</text>
<text x="447.62" y="394.00" font-family="Liberation Sans" font-size="4.6" fill="#444" transform="rotate(90 447.62 394.00)" >P3</text>
<text x="460.48" y="394.00" font-family="Liberation Sans" font-size="4.6" fill="#444" transform="rotate(90 460.48 394.00)" >C1</text>
<text x="473.32" y="394.00" font-family="Liberation Sans" font-size="4.6" fill="#444" transform="rotate(90 473.32 394.00)" >C2</text>
<text x="486.18" y="394.00" font-family="Liberation Sans" font-size="4.6" fill="#444" transform="rotate(90 486.18 394.00)" >C3</text>
<rect x="582.00" y="258.00" width="8.20" height="117.60" fill="url(#cbC)" />
<text x="594.40" y="270.10" font-family="Liberation Sans" font-size="7.4" fill="#333" >1.5</text>
<text x="594.40" y="286.80" font-family="Liberation Sans" font-size="7.4" fill="#333" >1</text>
<text x="594.40" y="303.50" font-family="Liberation Sans" font-size="7.4" fill="#333" >0.5</text>
<text x="594.40" y="320.00" font-family="Liberation Sans" font-size="7.4" fill="#333" >0</text>
<text x="594.40" y="336.30" font-family="Liberation Sans" font-size="7.4" fill="#333" >−0.5</text>
<text x="594.40" y="352.80" font-family="Liberation Sans" font-size="7.4" fill="#333" >−1</text>
<text x="594.40" y="369.30" font-family="Liberation Sans" font-size="7.4" fill="#333" >−1.5</text>
<text x="1.20" y="444.70" font-family="Liberation Serif" font-size="13.0" fill="#000" font-weight="bold" >D</text>
<line x1="38.20" y1="457.50" x2="38.20" y2="546.40" stroke="#222" stroke-width="1.0" />
<line x1="38.20" y1="546.40" x2="172.30" y2="546.40" stroke="#222" stroke-width="1.0" />
<line x1="35.50" y1="458.00" x2="38.20" y2="458.00" stroke="#222" stroke-width="0.9" />
<text x="34.60" y="460.20" font-family="Liberation Sans" font-size="6.4" fill="#222" font-weight="bold" text-anchor="end" >1.5</text>
<line x1="35.50" y1="487.50" x2="38.20" y2="487.50" stroke="#222" stroke-width="0.9" />
<text x="34.60" y="489.70" font-family="Liberation Sans" font-size="6.4" fill="#222" font-weight="bold" text-anchor="end" >1.0</text>
<line x1="35.50" y1="517.00" x2="38.20" y2="517.00" stroke="#222" stroke-width="0.9" />
<text x="34.60" y="519.20" font-family="Liberation Sans" font-size="6.4" fill="#222" font-weight="bold" text-anchor="end" >0.5</text>
<line x1="35.50" y1="546.40" x2="38.20" y2="546.40" stroke="#222" stroke-width="0.9" />
<text x="34.60" y="548.60" font-family="Liberation Sans" font-size="6.4" fill="#222" font-weight="bold" text-anchor="end" >0.0</text>
<line x1="55.50" y1="546.40" x2="55.50" y2="549.00" stroke="#222" stroke-width="0.9" />
<line x1="88.50" y1="546.40" x2="88.50" y2="549.00" stroke="#222" stroke-width="0.9" />
<line x1="122.00" y1="546.40" x2="122.00" y2="549.00" stroke="#222" stroke-width="0.9" />
<line x1="155.30" y1="546.40" x2="155.30" y2="549.00" stroke="#222" stroke-width="0.9" />
<rect x="47.30" y="447.20" width="9.70" height="4.30" fill="#0a7a0a" stroke="#222" stroke-width="0.6" />
<rect x="47.30" y="458.10" width="9.70" height="4.00" fill="#ff0a0a" stroke="#222" stroke-width="0.6" />
<text x="61.90" y="452.20" font-family="Liberation Serif" font-size="7.6" fill="#000" font-weight="bold" textLength="63.6" lengthAdjust="spacingAndGlyphs" >PARA-CANCEROUS</text>
<text x="61.90" y="462.40" font-family="Liberation Serif" font-size="7.6" fill="#000" font-weight="bold" textLength="25.7" lengthAdjust="spacingAndGlyphs" >TUMOR</text>
<text x="20.80" y="538.40" font-family="Liberation Serif" font-size="7.2" fill="#000" font-weight="bold" textLength="73.7" lengthAdjust="spacingAndGlyphs" transform="rotate(-90 20.80 538.40)" >Relative mRNA expression</text>
<line x1="49.50" y1="510.60" x2="49.50" y2="521.40" stroke="#222" stroke-width="0.9" />
<line x1="49.50" y1="535.00" x2="49.50" y2="542.30" stroke="#222" stroke-width="0.9" />
<line x1="47.90" y1="510.60" x2="51.10" y2="510.60" stroke="#222" stroke-width="0.9" />
<line x1="47.90" y1="542.30" x2="51.10" y2="542.30" stroke="#222" stroke-width="0.9" />
<rect x="45.90" y="521.40" width="7.60" height="13.60" fill="#0a7a0a" stroke="#222" stroke-width="0.9" />
<line x1="45.90" y1="528.40" x2="53.50" y2="528.40" stroke="#111" stroke-width="1.1" />
<line x1="61.65" y1="500.40" x2="61.65" y2="508.40" stroke="#222" stroke-width="0.9" />
<line x1="61.65" y1="527.70" x2="61.65" y2="533.50" stroke="#222" stroke-width="0.9" />
<line x1="60.05" y1="500.40" x2="63.25" y2="500.40" stroke="#222" stroke-width="0.9" />
<line x1="60.05" y1="533.50" x2="63.25" y2="533.50" stroke="#222" stroke-width="0.9" />
<rect x="58.00" y="508.40" width="7.70" height="19.30" fill="#ff0a0a" stroke="#222" stroke-width="0.9" />
<line x1="58.00" y1="515.50" x2="65.70" y2="515.50" stroke="#111" stroke-width="1.1" />
<line x1="82.45" y1="494.40" x2="82.45" y2="503.90" stroke="#222" stroke-width="0.9" />
<line x1="82.45" y1="517.40" x2="82.45" y2="524.50" stroke="#222" stroke-width="0.9" />
<line x1="80.85" y1="494.40" x2="84.05" y2="494.40" stroke="#222" stroke-width="0.9" />
<line x1="80.85" y1="524.50" x2="84.05" y2="524.50" stroke="#222" stroke-width="0.9" />
<rect x="78.70" y="503.90" width="7.90" height="13.50" fill="#0a7a0a" stroke="#222" stroke-width="0.9" />
<line x1="78.70" y1="513.40" x2="86.60" y2="513.40" stroke="#111" stroke-width="1.1" />
<line x1="94.95" y1="484.90" x2="94.95" y2="494.40" stroke="#222" stroke-width="0.9" />
<line x1="94.95" y1="508.20" x2="94.95" y2="514.20" stroke="#222" stroke-width="0.9" />
<line x1="93.35" y1="484.90" x2="96.55" y2="484.90" stroke="#222" stroke-width="0.9" />
<line x1="93.35" y1="514.20" x2="96.55" y2="514.20" stroke="#222" stroke-width="0.9" />
<rect x="91.30" y="494.40" width="7.70" height="13.80" fill="#ff0a0a" stroke="#222" stroke-width="0.9" />
<line x1="91.30" y1="502.40" x2="99.00" y2="502.40" stroke="#111" stroke-width="1.1" />
<line x1="115.75" y1="510.90" x2="115.75" y2="523.60" stroke="#222" stroke-width="0.9" />
<line x1="115.75" y1="537.40" x2="115.75" y2="543.40" stroke="#222" stroke-width="0.9" />
<line x1="114.15" y1="510.90" x2="117.35" y2="510.90" stroke="#222" stroke-width="0.9" />
<line x1="114.15" y1="543.40" x2="117.35" y2="543.40" stroke="#222" stroke-width="0.9" />
<rect x="112.00" y="523.60" width="7.90" height="13.80" fill="#0a7a0a" stroke="#222" stroke-width="0.9" />
<line x1="112.00" y1="531.30" x2="119.90" y2="531.30" stroke="#111" stroke-width="1.1" />
<line x1="128.45" y1="480.20" x2="128.45" y2="491.50" stroke="#222" stroke-width="0.9" />
<line x1="128.45" y1="500.90" x2="128.45" y2="512.00" stroke="#222" stroke-width="0.9" />
<line x1="126.85" y1="480.20" x2="130.05" y2="480.20" stroke="#222" stroke-width="0.9" />
<line x1="126.85" y1="512.00" x2="130.05" y2="512.00" stroke="#222" stroke-width="0.9" />
<rect x="124.70" y="491.50" width="7.90" height="9.40" fill="#ff0a0a" stroke="#222" stroke-width="0.9" />
<line x1="124.70" y1="495.30" x2="132.60" y2="495.30" stroke="#111" stroke-width="1.1" />
<line x1="149.50" y1="508.20" x2="149.50" y2="518.10" stroke="#222" stroke-width="0.9" />
<line x1="149.50" y1="529.80" x2="149.50" y2="535.30" stroke="#222" stroke-width="0.9" />
<line x1="147.90" y1="508.20" x2="151.10" y2="508.20" stroke="#222" stroke-width="0.9" />
<line x1="147.90" y1="535.30" x2="151.10" y2="535.30" stroke="#222" stroke-width="0.9" />
<rect x="145.60" y="518.10" width="8.20" height="11.70" fill="#0a7a0a" stroke="#222" stroke-width="0.9" />
<line x1="145.60" y1="523.00" x2="153.80" y2="523.00" stroke="#111" stroke-width="1.1" />
<line x1="161.75" y1="488.00" x2="161.75" y2="495.00" stroke="#222" stroke-width="0.9" />
<line x1="161.75" y1="511.40" x2="161.75" y2="522.80" stroke="#222" stroke-width="0.9" />
<line x1="160.15" y1="488.00" x2="163.35" y2="488.00" stroke="#222" stroke-width="0.9" />
<line x1="160.15" y1="522.80" x2="163.35" y2="522.80" stroke="#222" stroke-width="0.9" />
<rect x="158.20" y="495.00" width="7.50" height="16.40" fill="#ff0a0a" stroke="#222" stroke-width="0.9" />
<line x1="158.20" y1="501.20" x2="165.70" y2="501.20" stroke="#111" stroke-width="1.1" />
<text x="61.50" y="498.50" font-family="Liberation Serif" font-size="6.5" fill="#000" font-weight="bold" text-anchor="middle" >**</text>
<text x="94.90" y="483.20" font-family="Liberation Serif" font-size="6.5" fill="#000" font-weight="bold" text-anchor="middle" >*</text>
<text x="128.50" y="479.00" font-family="Liberation Serif" font-size="6.5" fill="#000" font-weight="bold" text-anchor="middle" >**</text>
<text x="161.70" y="487.20" font-family="Liberation Serif" font-size="6.5" fill="#000" font-weight="bold" text-anchor="middle" >**</text>
<text x="58.00" y="554.50" font-family="Liberation Serif" font-size="6.6" fill="#000" font-weight="bold" text-anchor="end" textLength="43.0" lengthAdjust="spacingAndGlyphs" transform="rotate(-45 58.00 554.50)" >SLC7A11-AS1</text>
<text x="90.00" y="554.50" font-family="Liberation Serif" font-size="6.6" fill="#000" font-weight="bold" text-anchor="end" textLength="40.5" lengthAdjust="spacingAndGlyphs" transform="rotate(-45 90.00 554.50)" >SCAMP1-AS1</text>
<text x="123.50" y="554.50" font-family="Liberation Serif" font-size="6.6" fill="#000" font-weight="bold" text-anchor="end" textLength="33.0" lengthAdjust="spacingAndGlyphs" transform="rotate(-45 123.50 554.50)" >LINC01468</text>
<text x="157.00" y="554.50" font-family="Liberation Serif" font-size="6.6" fill="#000" font-weight="bold" text-anchor="end" textLength="43.0" lengthAdjust="spacingAndGlyphs" transform="rotate(-45 157.00 554.50)" >MCM3AP-AS1</text>
<text x="184.80" y="452.70" font-family="Liberation Serif" font-size="13.0" fill="#000" font-weight="bold" >E</text>
<line x1="219.60" y1="463.20" x2="219.60" y2="547.40" stroke="#222" stroke-width="1.0" />
<line x1="219.60" y1="547.40" x2="345.80" y2="547.40" stroke="#222" stroke-width="1.0" />
<line x1="217.00" y1="547.30" x2="219.60" y2="547.30" stroke="#222" stroke-width="0.9" />
<text x="216.30" y="549.40" font-family="Liberation Sans" font-size="6.2" fill="#222" font-weight="bold" text-anchor="end" textLength="7.3" lengthAdjust="spacingAndGlyphs" >0.0</text>
<line x1="217.00" y1="530.48" x2="219.60" y2="530.48" stroke="#222" stroke-width="0.9" />
<text x="216.30" y="532.58" font-family="Liberation Sans" font-size="6.2" fill="#222" font-weight="bold" text-anchor="end" textLength="7.3" lengthAdjust="spacingAndGlyphs" >0.2</text>
<line x1="217.00" y1="513.66" x2="219.60" y2="513.66" stroke="#222" stroke-width="0.9" />
<text x="216.30" y="515.76" font-family="Liberation Sans" font-size="6.2" fill="#222" font-weight="bold" text-anchor="end" textLength="7.3" lengthAdjust="spacingAndGlyphs" >0.4</text>
<line x1="217.00" y1="496.84" x2="219.60" y2="496.84" stroke="#222" stroke-width="0.9" />
<text x="216.30" y="498.94" font-family="Liberation Sans" font-size="6.2" fill="#222" font-weight="bold" text-anchor="end" textLength="7.3" lengthAdjust="spacingAndGlyphs" >0.6</text>
<line x1="217.00" y1="480.02" x2="219.60" y2="480.02" stroke="#222" stroke-width="0.9" />
<text x="216.30" y="482.12" font-family="Liberation Sans" font-size="6.2" fill="#222" font-weight="bold" text-anchor="end" textLength="7.3" lengthAdjust="spacingAndGlyphs" >0.8</text>
<line x1="217.00" y1="463.20" x2="219.60" y2="463.20" stroke="#222" stroke-width="0.9" />
<text x="216.30" y="465.30" font-family="Liberation Sans" font-size="6.2" fill="#222" font-weight="bold" text-anchor="end" textLength="7.3" lengthAdjust="spacingAndGlyphs" >1.0</text>
<line x1="232.00" y1="547.30" x2="232.00" y2="549.80" stroke="#222" stroke-width="0.9" />
<line x1="257.30" y1="547.30" x2="257.30" y2="549.80" stroke="#222" stroke-width="0.9" />
<line x1="283.00" y1="547.30" x2="283.00" y2="549.80" stroke="#222" stroke-width="0.9" />
<line x1="308.50" y1="547.30" x2="308.50" y2="549.80" stroke="#222" stroke-width="0.9" />
<line x1="333.50" y1="547.30" x2="333.50" y2="549.80" stroke="#222" stroke-width="0.9" />
<rect x="224.40" y="446.90" width="9.60" height="4.10" fill="#0a7a0a" stroke="#222" stroke-width="0.6" />
<rect x="224.40" y="456.80" width="9.60" height="4.10" fill="#ff6a10" stroke="#222" stroke-width="0.6" />
<text x="238.40" y="451.00" font-family="Liberation Serif" font-size="7.4" fill="#000" font-weight="bold" textLength="59.8" lengthAdjust="spacingAndGlyphs" >PARA-CANCEROUS</text>
<text x="238.40" y="460.70" font-family="Liberation Serif" font-size="7.4" fill="#000" font-weight="bold" textLength="25.4" lengthAdjust="spacingAndGlyphs" >TUMOR</text>
<text x="203.30" y="542.60" font-family="Liberation Serif" font-size="7.0" fill="#000" font-weight="bold" textLength="74.4" lengthAdjust="spacingAndGlyphs" transform="rotate(-90 203.30 542.60)" >Relative mRNA expression</text>
<line x1="227.15" y1="515.50" x2="227.15" y2="525.10" stroke="#222" stroke-width="0.9" />
<line x1="227.15" y1="534.70" x2="227.15" y2="545.00" stroke="#222" stroke-width="0.9" />
<line x1="225.55" y1="515.50" x2="228.75" y2="515.50" stroke="#222" stroke-width="0.9" />
<line x1="225.55" y1="545.00" x2="228.75" y2="545.00" stroke="#222" stroke-width="0.9" />
<rect x="224.30" y="525.10" width="6.10" height="9.60" fill="#0a7a0a" stroke="#222" stroke-width="0.9" />
<line x1="224.30" y1="530.40" x2="230.40" y2="530.40" stroke="#111" stroke-width="1.1" />
<line x1="236.75" y1="488.60" x2="236.75" y2="500.90" stroke="#222" stroke-width="0.9" />
<line x1="236.75" y1="515.50" x2="236.75" y2="526.00" stroke="#222" stroke-width="0.9" />
<line x1="235.15" y1="488.60" x2="238.35" y2="488.60" stroke="#222" stroke-width="0.9" />
<line x1="235.15" y1="526.00" x2="238.35" y2="526.00" stroke="#222" stroke-width="0.9" />
<rect x="233.90" y="500.90" width="6.10" height="14.60" fill="#ff6a10" stroke="#222" stroke-width="0.9" />
<line x1="233.90" y1="506.40" x2="240.00" y2="506.40" stroke="#111" stroke-width="1.1" />
<line x1="252.55" y1="503.20" x2="252.55" y2="510.80" stroke="#222" stroke-width="0.9" />
<line x1="252.55" y1="529.50" x2="252.55" y2="537.40" stroke="#222" stroke-width="0.9" />
<line x1="250.95" y1="503.20" x2="254.15" y2="503.20" stroke="#222" stroke-width="0.9" />
<line x1="250.95" y1="537.40" x2="254.15" y2="537.40" stroke="#222" stroke-width="0.9" />
<rect x="249.70" y="510.80" width="6.10" height="18.70" fill="#0a7a0a" stroke="#222" stroke-width="0.9" />
<line x1="249.70" y1="522.80" x2="255.80" y2="522.80" stroke="#111" stroke-width="1.1" />
<line x1="262.15" y1="471.40" x2="262.15" y2="485.40" stroke="#222" stroke-width="0.9" />
<line x1="262.15" y1="502.30" x2="262.15" y2="509.30" stroke="#222" stroke-width="0.9" />
<line x1="260.55" y1="471.40" x2="263.75" y2="471.40" stroke="#222" stroke-width="0.9" />
<line x1="260.55" y1="509.30" x2="263.75" y2="509.30" stroke="#222" stroke-width="0.9" />
<rect x="259.30" y="485.40" width="6.10" height="16.90" fill="#ff6a10" stroke="#222" stroke-width="0.9" />
<line x1="259.30" y1="493.00" x2="265.40" y2="493.00" stroke="#111" stroke-width="1.1" />
<line x1="278.25" y1="513.40" x2="278.25" y2="524.50" stroke="#222" stroke-width="0.9" />
<line x1="278.25" y1="535.30" x2="278.25" y2="545.00" stroke="#222" stroke-width="0.9" />
<line x1="276.65" y1="513.40" x2="279.85" y2="513.40" stroke="#222" stroke-width="0.9" />
<line x1="276.65" y1="545.00" x2="279.85" y2="545.00" stroke="#222" stroke-width="0.9" />
<rect x="275.40" y="524.50" width="6.10" height="10.80" fill="#0a7a0a" stroke="#222" stroke-width="0.9" />
<line x1="275.40" y1="527.40" x2="281.50" y2="527.40" stroke="#111" stroke-width="1.1" />
<line x1="287.75" y1="492.10" x2="287.75" y2="499.70" stroke="#222" stroke-width="0.9" />
<line x1="287.75" y1="515.50" x2="287.75" y2="522.20" stroke="#222" stroke-width="0.9" />
<line x1="286.15" y1="492.10" x2="289.35" y2="492.10" stroke="#222" stroke-width="0.9" />
<line x1="286.15" y1="522.20" x2="289.35" y2="522.20" stroke="#222" stroke-width="0.9" />
<rect x="285.00" y="499.70" width="5.90" height="15.80" fill="#ff6a10" stroke="#222" stroke-width="0.9" />
<line x1="285.00" y1="507.60" x2="290.90" y2="507.60" stroke="#111" stroke-width="1.1" />
<line x1="303.65" y1="519.30" x2="303.65" y2="528.00" stroke="#222" stroke-width="0.9" />
<line x1="303.65" y1="535.90" x2="303.65" y2="545.00" stroke="#222" stroke-width="0.9" />
<line x1="302.05" y1="519.30" x2="305.25" y2="519.30" stroke="#222" stroke-width="0.9" />
<line x1="302.05" y1="545.00" x2="305.25" y2="545.00" stroke="#222" stroke-width="0.9" />
<rect x="300.80" y="528.00" width="6.10" height="7.90" fill="#0a7a0a" stroke="#222" stroke-width="0.9" />
<line x1="300.80" y1="531.50" x2="306.90" y2="531.50" stroke="#111" stroke-width="1.1" />
<line x1="313.20" y1="480.40" x2="313.20" y2="488.90" stroke="#222" stroke-width="0.9" />
<line x1="313.20" y1="505.30" x2="313.20" y2="516.40" stroke="#222" stroke-width="0.9" />
<line x1="311.60" y1="480.40" x2="314.80" y2="480.40" stroke="#222" stroke-width="0.9" />
<line x1="311.60" y1="516.40" x2="314.80" y2="516.40" stroke="#222" stroke-width="0.9" />
<rect x="310.50" y="488.90" width="5.80" height="16.40" fill="#ff6a10" stroke="#222" stroke-width="0.9" />
<line x1="310.50" y1="496.80" x2="316.30" y2="496.80" stroke="#111" stroke-width="1.1" />
<line x1="328.75" y1="513.40" x2="328.75" y2="521.30" stroke="#222" stroke-width="0.9" />
<line x1="328.75" y1="533.90" x2="328.75" y2="544.10" stroke="#222" stroke-width="0.9" />
<line x1="327.15" y1="513.40" x2="330.35" y2="513.40" stroke="#222" stroke-width="0.9" />
<line x1="327.15" y1="544.10" x2="330.35" y2="544.10" stroke="#222" stroke-width="0.9" />
<rect x="325.90" y="521.30" width="6.10" height="12.60" fill="#0a7a0a" stroke="#222" stroke-width="0.9" />
<line x1="325.90" y1="526.00" x2="332.00" y2="526.00" stroke="#111" stroke-width="1.1" />
<line x1="338.25" y1="471.40" x2="338.25" y2="484.20" stroke="#222" stroke-width="0.9" />
<line x1="338.25" y1="500.90" x2="338.25" y2="517.80" stroke="#222" stroke-width="0.9" />
<line x1="336.65" y1="471.40" x2="339.85" y2="471.40" stroke="#222" stroke-width="0.9" />
<line x1="336.65" y1="517.80" x2="339.85" y2="517.80" stroke="#222" stroke-width="0.9" />
<rect x="335.50" y="484.20" width="5.90" height="16.70" fill="#ff6a10" stroke="#222" stroke-width="0.9" />
<line x1="335.50" y1="491.20" x2="341.40" y2="491.20" stroke="#111" stroke-width="1.1" />
<text x="236.80" y="488.00" font-family="Liberation Serif" font-size="6.5" fill="#000" font-weight="bold" text-anchor="middle" >**</text>
<text x="262.20" y="471.00" font-family="Liberation Serif" font-size="6.5" fill="#000" font-weight="bold" text-anchor="middle" >**</text>
<text x="287.80" y="492.00" font-family="Liberation Serif" font-size="6.5" fill="#000" font-weight="bold" text-anchor="middle" >**</text>
<text x="313.20" y="480.40" font-family="Liberation Serif" font-size="6.5" fill="#000" font-weight="bold" text-anchor="middle" >**</text>
<text x="338.30" y="472.20" font-family="Liberation Serif" font-size="6.5" fill="#000" font-weight="bold" text-anchor="middle" >**</text>
<text x="233.40" y="553.50" font-family="Liberation Serif" font-size="6.4" fill="#000" font-weight="bold" text-anchor="end" textLength="24.5" lengthAdjust="spacingAndGlyphs" transform="rotate(-45 233.40 553.50)" >SREBP1</text>
<text x="258.50" y="553.50" font-family="Liberation Serif" font-size="6.4" fill="#000" font-weight="bold" text-anchor="end" textLength="18.5" lengthAdjust="spacingAndGlyphs" transform="rotate(-45 258.50 553.50)" >ACLY</text>
<text x="284.00" y="553.50" font-family="Liberation Serif" font-size="6.4" fill="#000" font-weight="bold" text-anchor="end" textLength="18.5" lengthAdjust="spacingAndGlyphs" transform="rotate(-45 284.00 553.50)" >FASN</text>
<text x="309.00" y="553.50" font-family="Liberation Serif" font-size="6.4" fill="#000" font-weight="bold" text-anchor="end" textLength="17.5" lengthAdjust="spacingAndGlyphs" transform="rotate(-45 309.00 553.50)" >SCD1</text>
<text x="334.30" y="553.50" font-family="Liberation Serif" font-size="6.4" fill="#000" font-weight="bold" text-anchor="end" textLength="18.5" lengthAdjust="spacingAndGlyphs" transform="rotate(-45 334.30 553.50)" >ACAC</text>
<text x="380.80" y="436.50" font-family="Liberation Serif" font-size="12.6" fill="#000" font-weight="bold" >G</text>
<line x1="416.50" y1="443.80" x2="416.50" y2="552.50" stroke="#1a1a1a" stroke-width="1.1" />
<line x1="416.50" y1="552.50" x2="525.60" y2="552.50" stroke="#1a1a1a" stroke-width="1.1" />
<text x="414.90" y="446.10" font-family="Liberation Sans" font-size="5.2" fill="#222" font-weight="bold" text-anchor="end" >1.5</text>
<text x="414.90" y="482.60" font-family="Liberation Sans" font-size="5.2" fill="#222" font-weight="bold" text-anchor="end" >1.0</text>
<text x="414.90" y="518.80" font-family="Liberation Sans" font-size="5.2" fill="#222" font-weight="bold" text-anchor="end" >0.5</text>
<text x="414.90" y="555.00" font-family="Liberation Sans" font-size="5.2" fill="#222" font-weight="bold" text-anchor="end" >0.0</text>
<text x="416.70" y="560.40" font-family="Liberation Sans" font-size="5.2" fill="#222" font-weight="bold" text-anchor="middle" >0.0</text>
<text x="452.90" y="560.40" font-family="Liberation Sans" font-size="5.2" fill="#222" font-weight="bold" text-anchor="middle" >0.5</text>
<text x="489.00" y="560.40" font-family="Liberation Sans" font-size="5.2" fill="#222" font-weight="bold" text-anchor="middle" >1.0</text>
<text x="525.30" y="560.40" font-family="Liberation Sans" font-size="5.2" fill="#222" font-weight="bold" text-anchor="middle" >1.5</text>
<rect x="427.55" y="508.35" width="1.7" height="1.7" fill="#5caef4"/>
<rect x="430.55" y="509.35" width="1.7" height="1.7" fill="#5caef4"/>
<rect x="446.25" y="498.55" width="1.7" height="1.7" fill="#5caef4"/>
<rect x="452.55" y="504.65" width="1.7" height="1.7" fill="#5caef4"/>
<rect x="458.65" y="498.55" width="1.7" height="1.7" fill="#5caef4"/>
<rect x="459.05" y="502.35" width="1.7" height="1.7" fill="#5caef4"/>
<rect x="451.35" y="515.35" width="1.7" height="1.7" fill="#5caef4"/>
<rect x="442.75" y="514.45" width="1.7" height="1.7" fill="#5caef4"/>
<rect x="457.45" y="510.75" width="1.7" height="1.7" fill="#5caef4"/>
<rect x="464.95" y="501.65" width="1.7" height="1.7" fill="#5caef4"/>
<rect x="466.75" y="506.05" width="1.7" height="1.7" fill="#5caef4"/>
<rect x="462.55" y="482.65" width="1.7" height="1.7" fill="#5caef4"/>
<rect x="464.45" y="483.35" width="1.7" height="1.7" fill="#5caef4"/>
<rect x="475.45" y="481.05" width="1.7" height="1.7" fill="#5caef4"/>
<rect x="478.95" y="495.75" width="1.7" height="1.7" fill="#5caef4"/>
<rect x="487.85" y="492.95" width="1.7" height="1.7" fill="#5caef4"/>
<rect x="477.75" y="501.35" width="1.7" height="1.7" fill="#5caef4"/>
<rect x="484.35" y="501.65" width="1.7" height="1.7" fill="#5caef4"/>
<rect x="476.65" y="508.15" width="1.7" height="1.7" fill="#5caef4"/>
<rect x="474.75" y="514.45" width="1.7" height="1.7" fill="#5caef4"/>
<rect x="430.35" y="535.25" width="1.7" height="1.7" fill="#5caef4"/>
<rect x="435.75" y="528.45" width="1.7" height="1.7" fill="#5caef4"/>
<rect x="438.75" y="531.25" width="1.7" height="1.7" fill="#5caef4"/>
<rect x="433.35" y="539.65" width="1.7" height="1.7" fill="#5caef4"/>
<rect x="438.55" y="543.45" width="1.7" height="1.7" fill="#5caef4"/>
<rect x="449.95" y="539.45" width="1.7" height="1.7" fill="#5caef4"/>
<line x1="428.40" y1="528.20" x2="488.70" y2="491.90" stroke="#222" stroke-width="1.3" />
<text x="484.00" y="461.20" font-family="Liberation Serif" font-size="6.0" fill="#000" font-weight="bold" textLength="23.4" lengthAdjust="spacingAndGlyphs" >R=0.6358</text>
<text x="484.00" y="468.00" font-family="Liberation Serif" font-size="6.0" fill="#000" font-weight="bold" textLength="21.0" lengthAdjust="spacingAndGlyphs" ><tspan font-style="italic">P</tspan>&lt;0.005</text>
<text x="401.80" y="532.60" font-family="Liberation Serif" font-size="7.2" fill="#000" font-weight="bold" textLength="72.4" lengthAdjust="spacingAndGlyphs" transform="rotate(-90 401.80 532.60)" >SREBP1 relative expression</text>
<text x="430.70" y="567.80" font-family="Liberation Serif" font-size="7.2" fill="#000" font-weight="bold" textLength="81.8" lengthAdjust="spacingAndGlyphs" >LINC01468&#160; relative expression</text>
<line x1="570.50" y1="444.00" x2="570.50" y2="554.50" stroke="#1a1a1a" stroke-width="1.1" />
<line x1="570.50" y1="554.50" x2="681.00" y2="554.50" stroke="#1a1a1a" stroke-width="1.1" />
<text x="568.90" y="556.80" font-family="Liberation Sans" font-size="5.2" fill="#222" font-weight="bold" text-anchor="end" >0.0</text>
<text x="568.90" y="534.76" font-family="Liberation Sans" font-size="5.2" fill="#222" font-weight="bold" text-anchor="end" >0.2</text>
<text x="568.90" y="512.72" font-family="Liberation Sans" font-size="5.2" fill="#222" font-weight="bold" text-anchor="end" >0.4</text>
<text x="568.90" y="490.68" font-family="Liberation Sans" font-size="5.2" fill="#222" font-weight="bold" text-anchor="end" >0.6</text>
<text x="568.90" y="468.64" font-family="Liberation Sans" font-size="5.2" fill="#222" font-weight="bold" text-anchor="end" >0.8</text>
<text x="568.90" y="446.60" font-family="Liberation Sans" font-size="5.2" fill="#222" font-weight="bold" text-anchor="end" >1.0</text>
<text x="571.00" y="562.20" font-family="Liberation Sans" font-size="5.2" fill="#222" font-weight="bold" text-anchor="middle" >0.0</text>
<text x="607.60" y="562.20" font-family="Liberation Sans" font-size="5.2" fill="#222" font-weight="bold" text-anchor="middle" >0.5</text>
<text x="644.30" y="562.20" font-family="Liberation Sans" font-size="5.2" fill="#222" font-weight="bold" text-anchor="middle" >1.0</text>
<text x="681.00" y="562.20" font-family="Liberation Sans" font-size="5.2" fill="#222" font-weight="bold" text-anchor="middle" >1.5</text>
<rect x="581.35" y="531.95" width="1.7" height="1.7" fill="#5caef4"/>
<rect x="584.45" y="540.15" width="1.7" height="1.7" fill="#5caef4"/>
<rect x="584.85" y="511.65" width="1.7" height="1.7" fill="#5caef4"/>
<rect x="587.25" y="508.65" width="1.7" height="1.7" fill="#5caef4"/>
<rect x="589.55" y="503.75" width="1.7" height="1.7" fill="#5caef4"/>
<rect x="593.05" y="517.25" width="1.7" height="1.7" fill="#5caef4"/>
<rect x="592.55" y="531.25" width="1.7" height="1.7" fill="#5caef4"/>
<rect x="597.05" y="487.55" width="1.7" height="1.7" fill="#5caef4"/>
<rect x="600.75" y="475.25" width="1.7" height="1.7" fill="#5caef4"/>
<rect x="604.75" y="510.75" width="1.7" height="1.7" fill="#5caef4"/>
<rect x="605.95" y="521.25" width="1.7" height="1.7" fill="#5caef4"/>
<rect x="607.05" y="479.45" width="1.7" height="1.7" fill="#5caef4"/>
<rect x="611.75" y="493.45" width="1.7" height="1.7" fill="#5caef4"/>
<rect x="612.95" y="502.05" width="1.7" height="1.7" fill="#5caef4"/>
<rect x="613.65" y="484.05" width="1.7" height="1.7" fill="#5caef4"/>
<rect x="617.15" y="464.95" width="1.7" height="1.7" fill="#5caef4"/>
<rect x="619.25" y="460.75" width="1.7" height="1.7" fill="#5caef4"/>
<rect x="619.95" y="493.45" width="1.7" height="1.7" fill="#5caef4"/>
<rect x="621.75" y="492.05" width="1.7" height="1.7" fill="#5caef4"/>
<rect x="630.45" y="477.05" width="1.7" height="1.7" fill="#5caef4"/>
<rect x="632.05" y="475.65" width="1.7" height="1.7" fill="#5caef4"/>
<rect x="634.45" y="481.75" width="1.7" height="1.7" fill="#5caef4"/>
<rect x="632.75" y="507.45" width="1.7" height="1.7" fill="#5caef4"/>
<rect x="639.75" y="477.55" width="1.7" height="1.7" fill="#5caef4"/>
<rect x="643.25" y="465.85" width="1.7" height="1.7" fill="#5caef4"/>
<line x1="582.20" y1="520.40" x2="643.70" y2="469.50" stroke="#222" stroke-width="1.3" />
<text x="639.00" y="454.00" font-family="Liberation Sans" font-size="6.0" fill="#000" font-weight="bold" textLength="23.4" lengthAdjust="spacingAndGlyphs" >R=0.7074</text>
<text x="639.00" y="459.80" font-family="Liberation Sans" font-size="6.0" fill="#000" font-weight="bold" textLength="18.0" lengthAdjust="spacingAndGlyphs" ><tspan font-style="italic">P</tspan>&lt;0.01</text>
<text x="556.30" y="534.00" font-family="Liberation Serif" font-size="7.6" fill="#000" font-weight="bold" textLength="73.1" lengthAdjust="spacingAndGlyphs" transform="rotate(-90 556.30 534.00)" >ACLY relative expression</text>
<text x="582.90" y="570.30" font-family="Liberation Serif" font-size="7.4" fill="#000" font-weight="bold" textLength="87.4" lengthAdjust="spacingAndGlyphs" >LINC01468 relative expression</text>
<text x="15.00" y="624.50" font-family="Liberation Serif" font-size="13.0" fill="#000" font-weight="bold" >F</text>
<clipPath id="clipSREBP1"><rect x="77.6" y="642.40" width="211.8" height="23.00"/></clipPath>
<rect x="77.60" y="642.40" width="211.80" height="23.00" fill="#f1f1f1" stroke="#3a3a3a" stroke-width="1.0" />
<g clip-path="url(#clipSREBP1)"><g filter="url(#blur1)"><ellipse cx="92.90" cy="655.00" rx="8.50" ry="1.42" fill="#191919"/><rect x="86.40" y="653.58" width="13.00" height="2.85" fill="#191919"/><ellipse cx="119.10" cy="655.00" rx="9.00" ry="1.57" fill="#191919"/><rect x="112.10" y="653.43" width="14.00" height="3.13" fill="#191919"/><ellipse cx="145.00" cy="655.00" rx="7.75" ry="1.20" fill="#232323"/><rect x="139.25" y="653.80" width="11.50" height="2.40" fill="#232323"/><ellipse cx="170.10" cy="655.00" rx="9.50" ry="1.71" fill="#111111"/><rect x="162.60" y="653.29" width="15.00" height="3.42" fill="#111111"/><ellipse cx="195.90" cy="655.00" rx="7.50" ry="1.12" fill="#373737"/><rect x="190.40" y="653.88" width="11.00" height="2.24" fill="#373737"/><ellipse cx="221.00" cy="655.00" rx="9.00" ry="1.61" fill="#191919"/><rect x="214.00" y="653.38" width="14.00" height="3.23" fill="#191919"/><ellipse cx="245.70" cy="655.00" rx="7.50" ry="1.12" fill="#323232"/><rect x="240.20" y="653.88" width="11.00" height="2.24" fill="#323232"/><ellipse cx="270.50" cy="655.00" rx="8.50" ry="1.20" fill="#2a2a2a"/><rect x="264.00" y="653.80" width="13.00" height="2.40" fill="#2a2a2a"/></g></g>
<rect x="77.6" y="642.40" width="211.8" height="23.00" fill="none" stroke="#3a3a3a" stroke-width="1.0"/>
<text x="65.50" y="658.50" font-family="Liberation Serif" font-size="10.0" fill="#000" font-weight="bold" text-anchor="end" textLength="32.9" lengthAdjust="spacingAndGlyphs" >SREBP1</text>
<clipPath id="clipACLY"><rect x="77.6" y="670.20" width="211.8" height="23.20"/></clipPath>
<rect x="77.60" y="670.20" width="211.80" height="23.20" fill="#f7f7f7" stroke="#3a3a3a" stroke-width="1.0" />
<g clip-path="url(#clipACLY)"><g filter="url(#blur1)"><ellipse cx="95.20" cy="683.40" rx="7.25" ry="1.28" fill="#505050"/><rect x="89.95" y="682.12" width="10.50" height="2.56" fill="#505050"/><ellipse cx="121.00" cy="683.40" rx="8.25" ry="2.38" fill="#050505"/><rect x="114.75" y="681.02" width="12.50" height="4.75" fill="#050505"/><ellipse cx="146.20" cy="683.40" rx="7.00" ry="1.28" fill="#505050"/><rect x="141.20" y="682.12" width="10.00" height="2.56" fill="#505050"/><ellipse cx="170.90" cy="683.40" rx="9.00" ry="2.18" fill="#0c0c0c"/><rect x="163.90" y="681.22" width="14.00" height="4.37" fill="#0c0c0c"/><ellipse cx="196.40" cy="683.40" rx="6.50" ry="1.20" fill="#757575"/><rect x="191.90" y="682.20" width="9.00" height="2.40" fill="#757575"/><ellipse cx="221.50" cy="683.40" rx="8.50" ry="2.18" fill="#0c0c0c"/><rect x="215.00" y="681.22" width="13.00" height="4.37" fill="#0c0c0c"/><ellipse cx="246.20" cy="683.40" rx="6.50" ry="1.12" fill="#a7a7a7"/><rect x="241.70" y="682.28" width="9.00" height="2.24" fill="#a7a7a7"/><ellipse cx="271.00" cy="683.40" rx="8.50" ry="2.28" fill="#050505"/><rect x="264.50" y="681.12" width="13.00" height="4.56" fill="#050505"/></g></g>
<rect x="77.6" y="670.20" width="211.8" height="23.20" fill="none" stroke="#3a3a3a" stroke-width="1.0"/>
<text x="65.50" y="686.70" font-family="Liberation Serif" font-size="10.0" fill="#000" font-weight="bold" text-anchor="end" textLength="25.1" lengthAdjust="spacingAndGlyphs" >ACLY</text>
<clipPath id="clipFASN"><rect x="77.6" y="699.10" width="211.8" height="25.10"/></clipPath>
<rect x="77.60" y="699.10" width="211.80" height="25.10" fill="#e9e9e9" stroke="#3a3a3a" stroke-width="1.0" />
<g clip-path="url(#clipFASN)"><g filter="url(#blur1)"><ellipse cx="94.80" cy="711.10" rx="7.00" ry="1.12" fill="#a0a0a0"/><rect x="89.80" y="709.98" width="10.00" height="2.24" fill="#a0a0a0"/><ellipse cx="120.90" cy="711.10" rx="9.00" ry="2.18" fill="#111111"/><rect x="113.90" y="708.92" width="14.00" height="4.37" fill="#111111"/><ellipse cx="145.50" cy="711.10" rx="7.50" ry="1.20" fill="#8e8e8e"/><rect x="140.00" y="709.90" width="11.00" height="2.40" fill="#8e8e8e"/><ellipse cx="170.60" cy="711.10" rx="9.00" ry="2.66" fill="#050505"/><rect x="163.60" y="708.44" width="14.00" height="5.32" fill="#050505"/><ellipse cx="196.20" cy="711.10" rx="7.50" ry="1.36" fill="#696969"/><rect x="190.70" y="709.74" width="11.00" height="2.72" fill="#696969"/><ellipse cx="221.30" cy="711.10" rx="8.50" ry="2.18" fill="#111111"/><rect x="214.80" y="708.92" width="13.00" height="4.37" fill="#111111"/><ellipse cx="246.00" cy="711.10" rx="7.00" ry="1.12" fill="#a7a7a7"/><rect x="241.00" y="709.98" width="10.00" height="2.24" fill="#a7a7a7"/><ellipse cx="271.50" cy="711.10" rx="8.50" ry="1.36" fill="#3c3c3c"/><rect x="265.00" y="709.74" width="13.00" height="2.72" fill="#3c3c3c"/></g></g>
<rect x="77.6" y="699.10" width="211.8" height="25.10" fill="none" stroke="#3a3a3a" stroke-width="1.0"/>
<text x="65.50" y="716.55" font-family="Liberation Serif" font-size="10.0" fill="#000" font-weight="bold" text-anchor="end" textLength="24.2" lengthAdjust="spacingAndGlyphs" >FASN</text>
<clipPath id="clipACAC"><rect x="77.6" y="728.40" width="211.8" height="24.00"/></clipPath>
<rect x="77.60" y="728.40" width="211.80" height="24.00" fill="#ececec" stroke="#3a3a3a" stroke-width="1.0" />
<g clip-path="url(#clipACAC)"><g filter="url(#blur1)"><ellipse cx="95.50" cy="739.50" rx="7.00" ry="0.96" fill="#e6e6e6"/><rect x="90.50" y="738.54" width="10.00" height="1.92" fill="#e6e6e6"/><ellipse cx="120.30" cy="739.50" rx="7.50" ry="1.20" fill="#828282"/><rect x="114.80" y="738.30" width="11.00" height="2.40" fill="#828282"/><ellipse cx="145.20" cy="739.50" rx="7.00" ry="1.04" fill="#cdcdcd"/><rect x="140.20" y="738.46" width="10.00" height="2.08" fill="#cdcdcd"/><ellipse cx="170.60" cy="739.50" rx="9.00" ry="2.38" fill="#050505"/><rect x="163.60" y="737.12" width="14.00" height="4.75" fill="#050505"/><ellipse cx="195.90" cy="739.50" rx="7.00" ry="1.12" fill="#9b9b9b"/><rect x="190.90" y="738.38" width="10.00" height="2.24" fill="#9b9b9b"/><ellipse cx="221.00" cy="739.50" rx="8.50" ry="1.99" fill="#1e1e1e"/><rect x="214.50" y="737.50" width="13.00" height="3.99" fill="#1e1e1e"/><ellipse cx="245.70" cy="739.50" rx="7.00" ry="1.04" fill="#cdcdcd"/><rect x="240.70" y="738.46" width="10.00" height="2.08" fill="#cdcdcd"/><ellipse cx="271.00" cy="739.50" rx="8.50" ry="1.99" fill="#1e1e1e"/><rect x="264.50" y="737.50" width="13.00" height="3.99" fill="#1e1e1e"/></g></g>
<rect x="77.6" y="728.40" width="211.8" height="24.00" fill="none" stroke="#3a3a3a" stroke-width="1.0"/>
<text x="65.50" y="743.70" font-family="Liberation Serif" font-size="10.0" fill="#000" font-weight="bold" text-anchor="end" textLength="25.9" lengthAdjust="spacingAndGlyphs" >ACAC</text>
<clipPath id="clipSCD1"><rect x="77.6" y="757.80" width="211.8" height="23.20"/></clipPath>
<rect x="77.60" y="757.80" width="211.80" height="23.20" fill="#f8f8f8" stroke="#3a3a3a" stroke-width="1.0" />
<g clip-path="url(#clipSCD1)"><g filter="url(#blur1)"><ellipse cx="91.30" cy="768.60" rx="6.00" ry="1.12" fill="#828282"/><rect x="87.30" y="767.48" width="8.00" height="2.24" fill="#828282"/><ellipse cx="116.50" cy="768.60" rx="7.00" ry="1.20" fill="#6e6e6e"/><rect x="111.50" y="767.40" width="10.00" height="2.40" fill="#6e6e6e"/><ellipse cx="142.40" cy="768.60" rx="7.50" ry="1.28" fill="#505050"/><rect x="136.90" y="767.32" width="11.00" height="2.56" fill="#505050"/><ellipse cx="169.30" cy="768.60" rx="8.00" ry="2.18" fill="#111111"/><rect x="163.30" y="766.42" width="12.00" height="4.37" fill="#111111"/><ellipse cx="196.50" cy="768.60" rx="7.00" ry="1.20" fill="#6e6e6e"/><rect x="191.50" y="767.40" width="10.00" height="2.40" fill="#6e6e6e"/><ellipse cx="223.40" cy="768.60" rx="6.50" ry="1.20" fill="#7d7d7d"/><rect x="218.90" y="767.40" width="9.00" height="2.40" fill="#7d7d7d"/><ellipse cx="249.70" cy="768.60" rx="8.50" ry="2.18" fill="#111111"/><rect x="243.20" y="766.42" width="13.00" height="4.37" fill="#111111"/><ellipse cx="276.40" cy="768.60" rx="8.50" ry="2.66" fill="#050505"/><rect x="269.90" y="765.94" width="13.00" height="5.32" fill="#050505"/></g></g>
<rect x="77.6" y="757.80" width="211.8" height="23.20" fill="none" stroke="#3a3a3a" stroke-width="1.0"/>
<text x="65.50" y="772.70" font-family="Liberation Serif" font-size="10.0" fill="#000" font-weight="bold" text-anchor="end" textLength="23.6" lengthAdjust="spacingAndGlyphs" >SCD1</text>
<clipPath id="clipGAPDH"><rect x="77.6" y="785.20" width="211.8" height="21.80"/></clipPath>
<rect x="77.60" y="785.20" width="211.80" height="21.80" fill="#f3f3f3" stroke="#3a3a3a" stroke-width="1.0" />
<g clip-path="url(#clipGAPDH)"><g filter="url(#blur1)"><ellipse cx="96.30" cy="796.80" rx="11.00" ry="3.68" fill="#050505"/><rect x="87.30" y="793.12" width="18.00" height="7.36" fill="#050505"/><ellipse cx="123.60" cy="796.80" rx="10.25" ry="3.91" fill="#050505"/><rect x="115.35" y="792.89" width="16.50" height="7.82" fill="#050505"/><ellipse cx="147.60" cy="796.80" rx="8.00" ry="2.76" fill="#111111"/><rect x="141.60" y="794.04" width="12.00" height="5.52" fill="#111111"/><ellipse cx="172.10" cy="796.80" rx="8.00" ry="2.76" fill="#111111"/><rect x="166.10" y="794.04" width="12.00" height="5.52" fill="#111111"/><ellipse cx="197.20" cy="796.80" rx="8.50" ry="3.22" fill="#050505"/><rect x="190.70" y="793.58" width="13.00" height="6.44" fill="#050505"/><ellipse cx="222.40" cy="796.80" rx="9.25" ry="3.22" fill="#050505"/><rect x="215.15" y="793.58" width="14.50" height="6.44" fill="#050505"/><ellipse cx="247.50" cy="796.80" rx="8.75" ry="3.04" fill="#050505"/><rect x="240.75" y="793.76" width="13.50" height="6.07" fill="#050505"/><ellipse cx="273.80" cy="796.80" rx="8.75" ry="3.04" fill="#050505"/><rect x="267.05" y="793.76" width="13.50" height="6.07" fill="#050505"/></g></g>
<rect x="77.6" y="785.20" width="211.8" height="21.80" fill="none" stroke="#3a3a3a" stroke-width="1.0"/>
<text x="65.50" y="800.80" font-family="Liberation Serif" font-size="10.0" fill="#000" font-weight="bold" text-anchor="end" textLength="32.6" lengthAdjust="spacingAndGlyphs" >GAPDH</text>
<text x="95.40" y="637.00" font-family="Liberation Serif" font-size="8.3" fill="#000" font-weight="bold" transform="rotate(-42 95.40 637.00)" >Ctrl</text>
<text x="120.40" y="637.00" font-family="Liberation Serif" font-size="8.3" fill="#000" font-weight="bold" transform="rotate(-42 120.40 637.00)" >SLC7A11-AS1</text>
<text x="153.20" y="637.00" font-family="Liberation Serif" font-size="8.3" fill="#000" font-weight="bold" transform="rotate(-42 153.20 637.00)" >Ctrl</text>
<text x="175.00" y="637.00" font-family="Liberation Serif" font-size="8.3" fill="#000" font-weight="bold" transform="rotate(-42 175.00 637.00)" >LINC01468</text>
<text x="201.40" y="637.00" font-family="Liberation Serif" font-size="8.3" fill="#000" font-weight="bold" transform="rotate(-42 201.40 637.00)" >Ctrl</text>
<text x="223.20" y="637.00" font-family="Liberation Serif" font-size="8.3" fill="#000" font-weight="bold" transform="rotate(-42 223.20 637.00)" >SCAMP1-AS1</text>
<text x="250.50" y="637.00" font-family="Liberation Serif" font-size="8.3" fill="#000" font-weight="bold" transform="rotate(-42 250.50 637.00)" >Ctrl</text>
<text x="271.40" y="637.00" font-family="Liberation Serif" font-size="8.3" fill="#000" font-weight="bold" transform="rotate(-42 271.40 637.00)" >MCM3AP-AS1</text>
<text x="368.60" y="637.60" font-family="Liberation Serif" font-size="11.8" fill="#000" font-weight="bold" >H</text>
<line x1="438.50" y1="650.20" x2="438.50" y2="777.90" stroke="#111" stroke-width="1.4" />
<line x1="437.80" y1="777.20" x2="628.60" y2="777.20" stroke="#111" stroke-width="1.4" />
<line x1="435.10" y1="777.20" x2="438.50" y2="777.20" stroke="#111" stroke-width="1.3" />
<text x="434.20" y="780.40" font-family="Liberation Sans" font-size="9.2" fill="#111" font-weight="bold" text-anchor="end" >0</text>
<line x1="435.10" y1="754.31" x2="438.50" y2="754.31" stroke="#111" stroke-width="1.3" />
<text x="434.20" y="757.51" font-family="Liberation Sans" font-size="9.2" fill="#111" font-weight="bold" text-anchor="end" >20</text>
<line x1="435.10" y1="731.42" x2="438.50" y2="731.42" stroke="#111" stroke-width="1.3" />
<text x="434.20" y="734.62" font-family="Liberation Sans" font-size="9.2" fill="#111" font-weight="bold" text-anchor="end" >40</text>
<line x1="435.10" y1="708.53" x2="438.50" y2="708.53" stroke="#111" stroke-width="1.3" />
<text x="434.20" y="711.73" font-family="Liberation Sans" font-size="9.2" fill="#111" font-weight="bold" text-anchor="end" >60</text>
<line x1="435.10" y1="685.64" x2="438.50" y2="685.64" stroke="#111" stroke-width="1.3" />
<text x="434.20" y="688.84" font-family="Liberation Sans" font-size="9.2" fill="#111" font-weight="bold" text-anchor="end" >80</text>
<line x1="435.10" y1="662.75" x2="438.50" y2="662.75" stroke="#111" stroke-width="1.3" />
<text x="434.20" y="665.95" font-family="Liberation Sans" font-size="9.2" fill="#111" font-weight="bold" text-anchor="end" >100</text>
<line x1="438.50" y1="777.20" x2="438.50" y2="780.60" stroke="#111" stroke-width="1.3" />
<text x="438.50" y="791.20" font-family="Liberation Sans" font-size="9.2" fill="#111" font-weight="bold" text-anchor="middle" >0</text>
<line x1="476.45" y1="777.20" x2="476.45" y2="780.60" stroke="#111" stroke-width="1.3" />
<text x="476.45" y="791.20" font-family="Liberation Sans" font-size="9.2" fill="#111" font-weight="bold" text-anchor="middle" >20</text>
<line x1="514.40" y1="777.20" x2="514.40" y2="780.60" stroke="#111" stroke-width="1.3" />
<text x="514.40" y="791.20" font-family="Liberation Sans" font-size="9.2" fill="#111" font-weight="bold" text-anchor="middle" >40</text>
<line x1="552.35" y1="777.20" x2="552.35" y2="780.60" stroke="#111" stroke-width="1.3" />
<text x="552.35" y="791.20" font-family="Liberation Sans" font-size="9.2" fill="#111" font-weight="bold" text-anchor="middle" >60</text>
<line x1="590.30" y1="777.20" x2="590.30" y2="780.60" stroke="#111" stroke-width="1.3" />
<text x="590.30" y="791.20" font-family="Liberation Sans" font-size="9.2" fill="#111" font-weight="bold" text-anchor="middle" >80</text>
<line x1="628.25" y1="777.20" x2="628.25" y2="780.60" stroke="#111" stroke-width="1.3" />
<text x="628.25" y="791.20" font-family="Liberation Sans" font-size="9.2" fill="#111" font-weight="bold" text-anchor="middle" >100</text>
<text x="412.60" y="752.30" font-family="Liberation Serif" font-size="10.6" fill="#000" font-weight="bold" textLength="77.0" lengthAdjust="spacingAndGlyphs" transform="rotate(-90 412.60 752.30)" >Percent survival</text>
<text x="499.60" y="804.60" font-family="Liberation Serif" font-size="10.0" fill="#000" font-weight="bold" textLength="68.1" lengthAdjust="spacingAndGlyphs" >Time (months)</text>
<polyline points="438.60,662.40 448.50,662.40 448.50,666.70 480.60,666.70 480.90,683.80 487.60,683.80 487.60,693.10 503.90,693.10 503.90,705.20 512.40,705.20 512.40,717.20 532.10,717.20 532.10,729.30 582.00,729.30 582.00,744.80 591.50,744.80" stroke="#ff2626" stroke-width="1.5" fill="none" />
<polyline points="438.60,662.40 445.80,662.40 445.80,666.50 448.40,666.50 448.40,671.30 454.20,671.30 454.20,676.00 459.50,676.00 459.50,681.40 460.60,681.40 460.60,686.20 464.30,686.20 464.30,692.30 468.40,692.30 468.40,700.00 469.90,700.00 469.90,707.90 485.40,707.90 485.40,716.40 489.70,716.40 489.70,726.20 494.60,726.20 494.60,736.40 518.90,736.40 518.90,746.40 558.70,746.40 558.70,767.30 576.70,767.30" stroke="#1a1a1a" stroke-width="1.5" fill="none" />
<line x1="526.10" y1="661.40" x2="539.60" y2="661.40" stroke="#111" stroke-width="1.3" />
<line x1="526.10" y1="674.50" x2="539.60" y2="674.50" stroke="#ff2a2a" stroke-width="1.3" />
<text x="547.20" y="664.00" font-family="Liberation Serif" font-size="9.3" fill="#000" font-weight="bold" textLength="79.3" lengthAdjust="spacingAndGlyphs" >LINC01468&#160; high</text>
<text x="547.20" y="679.30" font-family="Liberation Serif" font-size="9.3" fill="#000" font-weight="bold" textLength="76.2" lengthAdjust="spacingAndGlyphs" >LINC01468&#160; low</text>
<text x="545.90" y="693.80" font-family="Liberation Serif" font-size="9.3" fill="#000" font-weight="bold" textLength="42.4" lengthAdjust="spacingAndGlyphs" ><tspan font-style="italic">P</tspan>=0.0391</text>
</svg>
</body></html>
